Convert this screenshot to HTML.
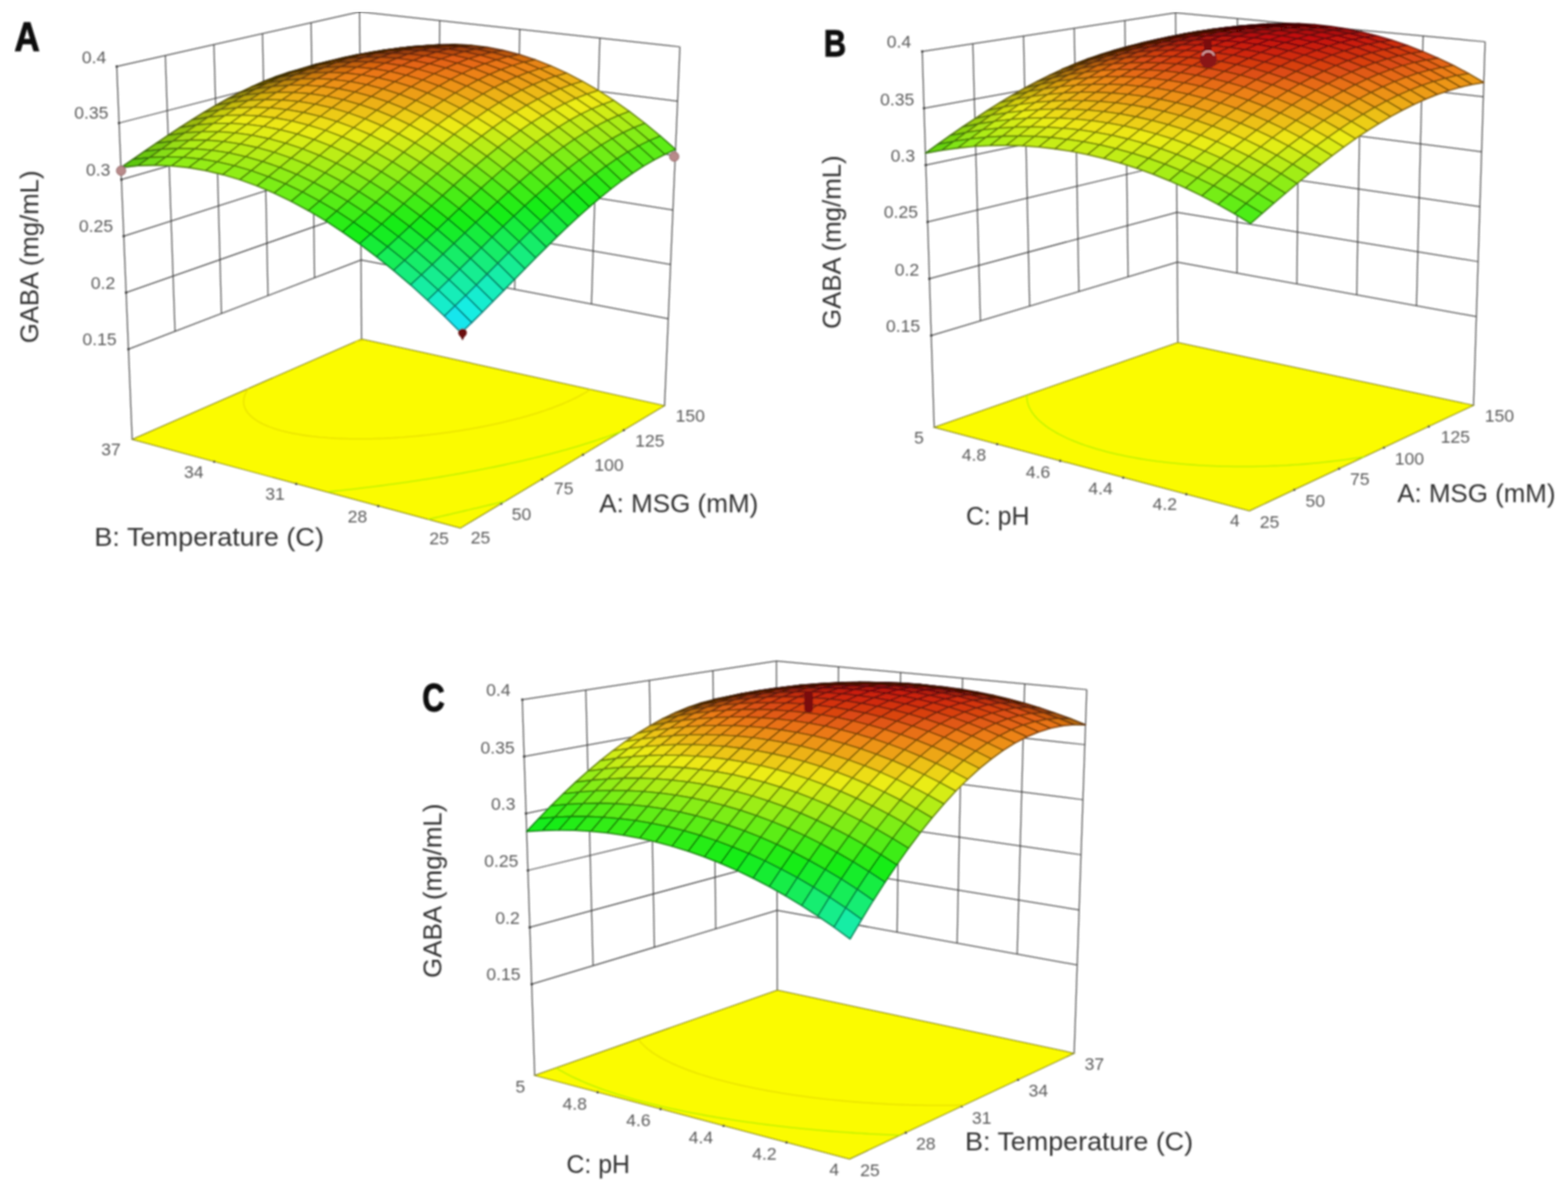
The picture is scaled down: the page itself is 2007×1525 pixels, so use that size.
<!DOCTYPE html><html><head><meta charset="utf-8"><style>html,body{margin:0;padding:0;background:#fff}svg{display:block}</style></head><body><svg xmlns="http://www.w3.org/2000/svg" width="2007" height="1525" viewBox="0 0 2007 1525" font-family="Liberation Sans, Arial, sans-serif"><defs><filter id="bl" x="0" y="0" width="100%" height="100%"><feGaussianBlur stdDeviation="0.9"/></filter></defs><rect width="100%" height="100%" fill="#fff"/><g filter="url(#bl)"><g><line x1="164.4" y1="447.1" x2="462.1" y2="332.8" stroke="#3a3a3a" stroke-width="1.25"/><line x1="462.1" y1="332.8" x2="855.4" y2="408.2" stroke="#3a3a3a" stroke-width="1.25"/><line x1="161.4" y1="374.7" x2="461.8" y2="269.3" stroke="#3a3a3a" stroke-width="1.25"/><line x1="461.8" y1="269.3" x2="858.4" y2="338.6" stroke="#3a3a3a" stroke-width="1.25"/><line x1="158.4" y1="302.3" x2="461.4" y2="205.7" stroke="#3a3a3a" stroke-width="1.25"/><line x1="461.4" y1="205.7" x2="861.3" y2="268.9" stroke="#3a3a3a" stroke-width="1.25"/><line x1="155.4" y1="229.9" x2="461.1" y2="142.2" stroke="#3a3a3a" stroke-width="1.25"/><line x1="461.1" y1="142.2" x2="864.3" y2="199.3" stroke="#3a3a3a" stroke-width="1.25"/><line x1="152.4" y1="157.5" x2="460.7" y2="78.6" stroke="#3a3a3a" stroke-width="1.25"/><line x1="460.7" y1="78.6" x2="867.3" y2="129.6" stroke="#3a3a3a" stroke-width="1.25"/><line x1="149.4" y1="85.1" x2="460.3" y2="15.1" stroke="#3a3a3a" stroke-width="1.25"/><line x1="460.3" y1="15.1" x2="870.3" y2="60.0" stroke="#3a3a3a" stroke-width="1.25"/><line x1="224.0" y1="424.3" x2="211.6" y2="71.1" stroke="#3a3a3a" stroke-width="1.25"/><line x1="283.5" y1="401.4" x2="273.8" y2="57.1" stroke="#3a3a3a" stroke-width="1.25"/><line x1="343.0" y1="378.5" x2="336.0" y2="43.1" stroke="#3a3a3a" stroke-width="1.25"/><line x1="402.6" y1="355.7" x2="398.2" y2="29.1" stroke="#3a3a3a" stroke-width="1.25"/><line x1="757.1" y1="389.4" x2="767.8" y2="48.7" stroke="#3a3a3a" stroke-width="1.25"/><line x1="658.8" y1="370.5" x2="665.3" y2="37.5" stroke="#3a3a3a" stroke-width="1.25"/><line x1="560.4" y1="351.7" x2="562.8" y2="26.3" stroke="#3a3a3a" stroke-width="1.25"/><line x1="169.2" y1="562.6" x2="149.4" y2="85.1" stroke="#3a3a3a" stroke-width="1.25"/><line x1="462.7" y1="434.2" x2="460.3" y2="15.1" stroke="#3a3a3a" stroke-width="1.25"/><line x1="850.6" y1="519.4" x2="870.3" y2="60.0" stroke="#3a3a3a" stroke-width="1.25"/></g>
<polygon points="589.2,676.2 850.6,519.4 462.7,434.2 169.2,562.6" fill="#fbfb00" stroke="#7a7a10" stroke-width="1.2"/>
<circle cx="641.5" cy="644.8" r="1.6" fill="#333"/><circle cx="693.8" cy="613.5" r="1.6" fill="#333"/><circle cx="746.1" cy="582.1" r="1.6" fill="#333"/><circle cx="798.3" cy="550.7" r="1.6" fill="#333"/><circle cx="484.2" cy="647.8" r="1.6" fill="#333"/><circle cx="379.2" cy="619.4" r="1.6" fill="#333"/><circle cx="274.2" cy="591.0" r="1.6" fill="#333"/><circle cx="164.4" cy="447.1" r="1.6" fill="#333"/><circle cx="161.4" cy="374.7" r="1.6" fill="#333"/><circle cx="158.4" cy="302.3" r="1.6" fill="#333"/><circle cx="155.4" cy="229.9" r="1.6" fill="#333"/><circle cx="152.4" cy="157.5" r="1.6" fill="#333"/><circle cx="149.4" cy="85.1" r="1.6" fill="#333"/>
<path d="M646.7,641.7 L641.7,642.9 L636.8,644.1 L631.8,645.3 L626.8,646.5 L622.1,647.6 L617.6,648.7 L613.1,649.8 L608.6,650.8 L604.0,651.9 L599.5,653.0 L595.0,654.0 L590.5,655.1 L586.0,656.1 L581.5,657.2 L576.8,658.3 L571.7,659.5 L566.7,660.7 L561.6,661.9 L556.9,663.0 L552.4,664.0 L548.0,665.1" fill="none" stroke="#b8f000" stroke-width="1.8" opacity="0.9"/>
<path d="M795.3,552.6 L790.5,554.4 L786.9,555.7 L781.5,557.7 L777.8,559.0 L774.0,560.3 L768.3,562.2 L764.5,563.5 L760.6,564.8 L755.5,566.4 L750.8,567.9 L746.8,569.1 L742.8,570.4 L738.1,571.8 L732.6,573.4 L728.5,574.6 L724.3,575.8 L720.1,576.9 L715.9,578.1 L711.1,579.4 L705.9,580.8 L700.8,582.1 L696.4,583.2 L692.0,584.3 L687.6,585.4 L683.1,586.5 L678.6,587.6 L674.1,588.7 L669.5,589.8 L664.9,590.8 L660.3,591.9 L655.7,592.9 L651.0,593.9 L646.3,595.0 L641.6,596.0 L636.8,597.0 L632.0,598.0 L627.2,598.9 L622.3,599.9 L617.5,600.9 L612.6,601.8 L607.6,602.8 L602.7,603.7 L597.7,604.7 L593.3,605.5 L588.9,606.3 L584.5,607.0 L580.0,607.8 L574.9,608.7 L569.8,609.6 L564.6,610.5 L559.5,611.3 L554.4,612.1 L550.2,612.8 L546.0,613.5 L541.1,614.2 L535.8,615.1 L530.4,615.9 L525.1,616.7 L520.9,617.3 L516.7,617.9 L511.6,618.6 L506.1,619.4 L500.6,620.1 L496.1,620.7 L492.0,621.3 L486.8,622.0 L481.3,622.7 L475.8,623.4 L471.7,623.9 L467.2,624.4 L461.5,625.1 L455.8,625.8 L451.7,626.3 L447.2,626.8 L441.5,627.4 L435.8,628.1 L431.8,628.5 L426.9,629.0 L421.0,629.6" fill="none" stroke="#b8f000" stroke-width="1.8" opacity="0.9"/>
<path d="M755.7,498.5 L752.1,500.9 L748.4,503.2 L744.4,505.4 L740.3,507.7 L736.0,509.9 L731.6,512.0 L728.5,513.4 L723.8,515.5 L718.9,517.6 L715.6,518.9 L710.4,520.9 L706.9,522.3 L701.6,524.2 L697.9,525.5 L693.1,527.1 L688.4,528.6 L684.6,529.8 L680.1,531.1 L674.6,532.8 L670.5,533.9 L666.3,535.1 L662.1,536.2 L657.4,537.4 L652.2,538.7 L647.1,539.9 L642.2,541.1 L637.7,542.1 L633.0,543.1 L628.3,544.1 L623.5,545.1 L618.7,546.1 L614.0,547.0 L609.6,547.8 L605.2,548.6 L600.9,549.4 L596.0,550.2 L590.8,551.1 L585.5,551.9 L580.1,552.7 L576.1,553.3 L571.8,553.9 L566.2,554.6 L560.5,555.4 L556.5,555.9 L551.8,556.4 L545.8,557.1 L541.5,557.5 L536.7,558.0 L530.5,558.6 L526.9,558.9 L520.9,559.4 L516.3,559.8 L511.1,560.1 L505.9,560.5 L500.8,560.8 L495.8,561.0 L490.2,561.3 L485.9,561.5 L479.4,561.7 L475.2,561.8 L469.9,561.9 L463.6,561.9 L459.1,561.9 L454.5,561.9 L448.5,561.8 L442.6,561.7 L436.8,561.5 L431.5,561.3 L426.3,561.0 L420.8,560.7 L415.0,560.2 L409.3,559.8 L404.2,559.2 L399.1,558.7 L393.9,558.0 L386.9,557.0 L382.2,556.2 L375.4,555.0 L368.8,553.6 L364.6,552.6 L360.3,551.5 L354.6,549.9 L348.9,548.0 L344.7,546.5 L340.3,544.6 L337.1,543.2 L334.0,541.6 L330.5,539.7 L327.7,538.0 L325.4,536.3 L323.4,534.8 L321.2,532.9 L319.2,530.9 L317.7,529.3 L316.5,527.8 L315.1,525.6 L314.4,524.3 L313.3,522.0 L312.9,520.8 L312.3,518.7 L312.0,516.9 L311.8,515.5 L311.8,513.5 L312.0,511.5 L312.3,509.8 L312.6,508.2 L313.1,506.6 L313.8,504.9 L314.6,503.1 L315.5,501.3 L316.6,499.5 L318.0,497.5" fill="none" stroke="#e8e000" stroke-width="1.8" opacity="0.9"/>
<path d="M454.9,437.6 L460.2,436.5 L464.8,435.6" fill="none" stroke="#e8e000" stroke-width="1.8" opacity="0.9"/>
<g><polygon points="465.6,73.1 481.0,73.3 460.7,81.2 445.3,80.6" fill="#b29b0e" stroke="#5f5308" stroke-width="1.8" stroke-linejoin="round"/><polygon points="486.1,67.2 501.4,67.0 481.0,73.3 465.6,73.1" fill="#9a730c" stroke="#533e07" stroke-width="1.8" stroke-linejoin="round"/><polygon points="450.3,74.0 465.6,73.1 445.3,80.6 429.8,81.1" fill="#9c800c" stroke="#534407" stroke-width="1.8" stroke-linejoin="round"/><polygon points="506.5,62.7 521.7,62.3 501.4,67.0 486.1,67.2" fill="#81530a" stroke="#452c06" stroke-width="1.8" stroke-linejoin="round"/><polygon points="470.8,68.4 486.1,67.2 465.6,73.1 450.3,74.0" fill="#835c0a" stroke="#463106" stroke-width="1.8" stroke-linejoin="round"/><polygon points="527.0,59.8 542.2,59.0 521.7,62.3 506.5,62.7" fill="#673908" stroke="#371f04" stroke-width="1.8" stroke-linejoin="round"/><polygon points="434.9,75.9 450.3,74.0 429.8,81.1 414.4,82.7" fill="#85690b" stroke="#473806" stroke-width="1.8" stroke-linejoin="round"/><polygon points="491.3,64.3 506.5,62.7 486.1,67.2 470.8,68.4" fill="#693f08" stroke="#382204" stroke-width="1.8" stroke-linejoin="round"/><polygon points="547.5,58.4 562.6,57.3 542.2,59.0 527.0,59.8" fill="#4a2506" stroke="#281403" stroke-width="1.8" stroke-linejoin="round"/><polygon points="455.4,70.6 470.8,68.4 450.3,74.0 434.9,75.9" fill="#6c4809" stroke="#3a2705" stroke-width="1.8" stroke-linejoin="round"/><polygon points="419.5,78.8 434.9,75.9 414.4,82.7 398.9,85.3" fill="#6f5509" stroke="#3c2e05" stroke-width="1.8" stroke-linejoin="round"/><polygon points="511.9,61.7 527.0,59.8 506.5,62.7 491.3,64.3" fill="#4d2806" stroke="#291503" stroke-width="1.8" stroke-linejoin="round"/><polygon points="568.1,58.5 583.0,57.0 562.6,57.3 547.5,58.4" fill="#5c2907" stroke="#311604" stroke-width="1.8" stroke-linejoin="round"/><polygon points="476.1,66.8 491.3,64.3 470.8,68.4 455.4,70.6" fill="#512e06" stroke="#2b1903" stroke-width="1.8" stroke-linejoin="round"/><polygon points="440.1,73.8 455.4,70.6 434.9,75.9 419.5,78.8" fill="#553707" stroke="#2e1e04" stroke-width="1.8" stroke-linejoin="round"/><polygon points="532.5,60.6 547.5,58.4 527.0,59.8 511.9,61.7" fill="#5a2a07" stroke="#301604" stroke-width="1.8" stroke-linejoin="round"/><polygon points="588.6,59.9 603.5,58.1 583.0,57.0 568.1,58.5" fill="#753209" stroke="#3e1b05" stroke-width="1.8" stroke-linejoin="round"/><polygon points="404.1,82.6 419.5,78.8 398.9,85.3 383.5,88.8" fill="#5a4407" stroke="#302404" stroke-width="1.8" stroke-linejoin="round"/><polygon points="496.7,64.6 511.9,61.7 491.3,64.3 476.1,66.8" fill="#582c07" stroke="#2f1704" stroke-width="1.8" stroke-linejoin="round"/><polygon points="553.1,61.0 568.1,58.5 547.5,58.4 532.5,60.6" fill="#733109" stroke="#3e1a05" stroke-width="1.8" stroke-linejoin="round"/><polygon points="460.8,70.4 476.1,66.8 455.4,70.6 440.1,73.8" fill="#552f07" stroke="#2e1904" stroke-width="1.8" stroke-linejoin="round"/><polygon points="609.1,62.8 623.9,60.7 603.5,58.1 588.6,59.9" fill="#8d3c0b" stroke="#4c2006" stroke-width="1.8" stroke-linejoin="round"/><polygon points="424.8,78.0 440.1,73.8 419.5,78.8 404.1,82.6" fill="#4f3306" stroke="#2a1b03" stroke-width="1.8" stroke-linejoin="round"/><polygon points="517.4,63.9 532.5,60.6 511.9,61.7 496.7,64.6" fill="#713209" stroke="#3d1b05" stroke-width="1.8" stroke-linejoin="round"/><polygon points="388.8,87.3 404.1,82.6 383.5,88.8 368.1,93.2" fill="#483706" stroke="#271d03" stroke-width="1.8" stroke-linejoin="round"/><polygon points="573.7,62.8 588.6,59.9 568.1,58.5 553.1,61.0" fill="#8c380b" stroke="#4b1e06" stroke-width="1.8" stroke-linejoin="round"/><polygon points="481.5,68.5 496.7,64.6 476.1,66.8 460.8,70.4" fill="#6f3609" stroke="#3b1d05" stroke-width="1.8" stroke-linejoin="round"/><polygon points="629.6,67.1 644.3,64.6 623.9,60.7 609.1,62.8" fill="#a5480d" stroke="#582707" stroke-width="1.8" stroke-linejoin="round"/><polygon points="445.6,74.9 460.8,70.4 440.1,73.8 424.8,78.0" fill="#6b3c09" stroke="#392005" stroke-width="1.8" stroke-linejoin="round"/><polygon points="538.0,64.6 553.1,61.0 532.5,60.6 517.4,63.9" fill="#8a380b" stroke="#4a1e06" stroke-width="1.8" stroke-linejoin="round"/><polygon points="409.5,83.0 424.8,78.0 404.1,82.6 388.8,87.3" fill="#644108" stroke="#352304" stroke-width="1.8" stroke-linejoin="round"/><polygon points="594.2,66.1 609.1,62.8 588.6,59.9 573.7,62.8" fill="#a3420d" stroke="#582307" stroke-width="1.8" stroke-linejoin="round"/><polygon points="502.3,68.1 517.4,63.9 496.7,64.6 481.5,68.5" fill="#873b0b" stroke="#492006" stroke-width="1.8" stroke-linejoin="round"/><polygon points="650.0,72.7 664.7,69.9 644.3,64.6 629.6,67.1" fill="#bc580f" stroke="#652f08" stroke-width="1.8" stroke-linejoin="round"/><polygon points="373.4,92.9 388.8,87.3 368.1,93.2 352.7,98.4" fill="#5b4607" stroke="#312604" stroke-width="1.8" stroke-linejoin="round"/><polygon points="558.7,66.7 573.7,62.8 553.1,61.0 538.0,64.6" fill="#a23f0d" stroke="#572207" stroke-width="1.8" stroke-linejoin="round"/><polygon points="466.4,73.3 481.5,68.5 460.8,70.4 445.6,74.9" fill="#84410b" stroke="#472306" stroke-width="1.8" stroke-linejoin="round"/><polygon points="614.8,70.7 629.6,67.1 609.1,62.8 594.2,66.1" fill="#bb4e0f" stroke="#642a08" stroke-width="1.8" stroke-linejoin="round"/><polygon points="430.4,80.2 445.6,74.9 424.8,78.0 409.5,83.0" fill="#7f480a" stroke="#442705" stroke-width="1.8" stroke-linejoin="round"/><polygon points="523.0,69.1 538.0,64.6 517.4,63.9 502.3,68.1" fill="#9f400d" stroke="#552307" stroke-width="1.8" stroke-linejoin="round"/><polygon points="670.4,79.7 685.0,76.5 664.7,69.9 650.0,72.7" fill="#d36d11" stroke="#713a09" stroke-width="1.8" stroke-linejoin="round"/><polygon points="394.3,88.9 409.5,83.0 388.8,87.3 373.4,92.9" fill="#774f09" stroke="#402b05" stroke-width="1.8" stroke-linejoin="round"/><polygon points="579.4,70.3 594.2,66.1 573.7,62.8 558.7,66.7" fill="#b9490f" stroke="#632708" stroke-width="1.8" stroke-linejoin="round"/><polygon points="487.2,73.2 502.3,68.1 481.5,68.5 466.4,73.3" fill="#9c450d" stroke="#542507" stroke-width="1.8" stroke-linejoin="round"/><polygon points="358.1,99.2 373.4,92.9 352.7,98.4 337.3,104.4" fill="#6d5609" stroke="#3a2e05" stroke-width="1.8" stroke-linejoin="round"/><polygon points="635.3,76.7 650.0,72.7 629.6,67.1 614.8,70.7" fill="#d25f11" stroke="#703309" stroke-width="1.8" stroke-linejoin="round"/><polygon points="451.2,79.0 466.4,73.3 445.6,74.9 430.4,80.2" fill="#994d0c" stroke="#522907" stroke-width="1.8" stroke-linejoin="round"/><polygon points="543.8,71.6 558.7,66.7 538.0,64.6 523.0,69.1" fill="#b7480f" stroke="#622608" stroke-width="1.8" stroke-linejoin="round"/><polygon points="690.8,88.0 705.3,84.5 685.0,76.5 670.4,79.7" fill="#e78512" stroke="#7c480a" stroke-width="1.8" stroke-linejoin="round"/><polygon points="415.1,86.4 430.4,80.2 409.5,83.0 394.3,88.9" fill="#92560c" stroke="#4e2e06" stroke-width="1.8" stroke-linejoin="round"/><polygon points="600.0,75.2 614.8,70.7 594.2,66.1 579.4,70.3" fill="#d05611" stroke="#6f2e09" stroke-width="1.8" stroke-linejoin="round"/><polygon points="508.0,74.6 523.0,69.1 502.3,68.1 487.2,73.2" fill="#b44b0e" stroke="#602808" stroke-width="1.8" stroke-linejoin="round"/><polygon points="379.0,95.5 394.3,88.9 373.4,92.9 358.1,99.2" fill="#885f0b" stroke="#493306" stroke-width="1.8" stroke-linejoin="round"/><polygon points="655.8,84.0 670.4,79.7 650.0,72.7 635.3,76.7" fill="#e87513" stroke="#7d3f0a" stroke-width="1.8" stroke-linejoin="round"/><polygon points="472.1,79.2 487.2,73.2 466.4,73.3 451.2,79.0" fill="#b1510e" stroke="#5f2c08" stroke-width="1.8" stroke-linejoin="round"/><polygon points="564.5,75.5 579.4,70.3 558.7,66.7 543.8,71.6" fill="#cd5210" stroke="#6e2c09" stroke-width="1.8" stroke-linejoin="round"/><polygon points="711.1,97.6 725.5,93.7 705.3,84.5 690.8,88.0" fill="#ed9c13" stroke="#7f540a" stroke-width="1.8" stroke-linejoin="round"/><polygon points="342.8,106.2 358.1,99.2 337.3,104.4 321.9,111.2" fill="#7d670a" stroke="#433705" stroke-width="1.8" stroke-linejoin="round"/><polygon points="620.7,81.6 635.3,76.7 614.8,70.7 600.0,75.2" fill="#e66712" stroke="#7b370a" stroke-width="1.8" stroke-linejoin="round"/><polygon points="436.1,85.4 451.2,79.0 430.4,80.2 415.1,86.4" fill="#ad5b0e" stroke="#5d3107" stroke-width="1.8" stroke-linejoin="round"/><polygon points="528.8,77.4 543.8,71.6 523.0,69.1 508.0,74.6" fill="#cb5210" stroke="#6d2c09" stroke-width="1.8" stroke-linejoin="round"/><polygon points="676.3,92.6 690.8,88.0 670.4,79.7 655.8,84.0" fill="#ed8713" stroke="#7f480a" stroke-width="1.8" stroke-linejoin="round"/><polygon points="400.0,93.3 415.1,86.4 394.3,88.9 379.0,95.5" fill="#a3650d" stroke="#583607" stroke-width="1.8" stroke-linejoin="round"/><polygon points="585.3,80.8 600.0,75.2 579.4,70.3 564.5,75.5" fill="#e35f12" stroke="#7a330a" stroke-width="1.8" stroke-linejoin="round"/><polygon points="493.0,80.9 508.0,74.6 487.2,73.2 472.1,79.2" fill="#c85710" stroke="#6b2f09" stroke-width="1.8" stroke-linejoin="round"/><polygon points="731.3,108.4 745.6,104.2 725.5,93.7 711.1,97.6" fill="#edb313" stroke="#7f600a" stroke-width="1.8" stroke-linejoin="round"/><polygon points="363.8,102.8 379.0,95.5 358.1,99.2 342.8,106.2" fill="#986f0c" stroke="#513c07" stroke-width="1.8" stroke-linejoin="round"/><polygon points="641.2,89.2 655.8,84.0 635.3,76.7 620.7,81.6" fill="#ea7613" stroke="#7e3f0a" stroke-width="1.8" stroke-linejoin="round"/><polygon points="457.0,86.0 472.1,79.2 451.2,79.0 436.1,85.4" fill="#c46010" stroke="#693308" stroke-width="1.8" stroke-linejoin="round"/><polygon points="549.7,81.6 564.5,75.5 543.8,71.6 528.8,77.4" fill="#e15d12" stroke="#79320a" stroke-width="1.8" stroke-linejoin="round"/><polygon points="327.5,113.9 342.8,106.2 321.9,111.2 306.6,118.6" fill="#8b790b" stroke="#4b4106" stroke-width="1.8" stroke-linejoin="round"/><polygon points="696.7,102.5 711.1,97.6 690.8,88.0 676.3,92.6" fill="#ed9b13" stroke="#7f530a" stroke-width="1.8" stroke-linejoin="round"/><polygon points="420.9,92.7 436.1,85.4 415.1,86.4 400.0,93.3" fill="#be6b0f" stroke="#663908" stroke-width="1.8" stroke-linejoin="round"/><polygon points="606.0,87.4 620.7,81.6 600.0,75.2 585.3,80.8" fill="#e76a12" stroke="#7c390a" stroke-width="1.8" stroke-linejoin="round"/><polygon points="751.5,120.4 765.7,115.8 745.6,104.2 731.3,108.4" fill="#edcd13" stroke="#7f6e0a" stroke-width="1.8" stroke-linejoin="round"/><polygon points="513.9,84.0 528.8,77.4 508.0,74.6 493.0,80.9" fill="#de5f12" stroke="#77330a" stroke-width="1.8" stroke-linejoin="round"/><polygon points="384.8,101.0 400.0,93.3 379.0,95.5 363.8,102.8" fill="#b3760e" stroke="#603f08" stroke-width="1.8" stroke-linejoin="round"/><polygon points="661.8,98.1 676.3,92.6 655.8,84.0 641.2,89.2" fill="#ed8813" stroke="#7f490a" stroke-width="1.8" stroke-linejoin="round"/><polygon points="478.0,88.0 493.0,80.9 472.1,79.2 457.0,86.0" fill="#db6611" stroke="#753709" stroke-width="1.8" stroke-linejoin="round"/><polygon points="570.5,87.2 585.3,80.8 564.5,75.5 549.7,81.6" fill="#e56512" stroke="#7b360a" stroke-width="1.8" stroke-linejoin="round"/><polygon points="348.6,110.8 363.8,102.8 342.8,106.2 327.5,113.9" fill="#a6810d" stroke="#594507" stroke-width="1.8" stroke-linejoin="round"/><polygon points="717.0,113.6 731.3,108.4 711.1,97.6 696.7,102.5" fill="#edb213" stroke="#7f5f0a" stroke-width="1.8" stroke-linejoin="round"/><polygon points="442.0,93.5 457.0,86.0 436.1,85.4 420.9,92.7" fill="#d77111" stroke="#733c09" stroke-width="1.8" stroke-linejoin="round"/><polygon points="771.6,133.6 785.7,128.7 765.7,115.8 751.5,120.4" fill="#edea13" stroke="#7f7d0a" stroke-width="1.8" stroke-linejoin="round"/><polygon points="626.6,95.4 641.2,89.2 620.7,81.6 606.0,87.4" fill="#eb7a13" stroke="#7e410a" stroke-width="1.8" stroke-linejoin="round"/><polygon points="312.3,122.2 327.5,113.9 306.6,118.6 291.3,126.6" fill="#988c0c" stroke="#514b07" stroke-width="1.8" stroke-linejoin="round"/><polygon points="534.8,88.5 549.7,81.6 528.8,77.4 513.9,84.0" fill="#e56512" stroke="#7b360a" stroke-width="1.8" stroke-linejoin="round"/><polygon points="682.2,108.4 696.7,102.5 676.3,92.6 661.8,98.1" fill="#ed9c13" stroke="#7f540a" stroke-width="1.8" stroke-linejoin="round"/><polygon points="405.8,100.6 420.9,92.7 400.0,93.3 384.8,101.0" fill="#cd7c10" stroke="#6e4309" stroke-width="1.8" stroke-linejoin="round"/><polygon points="591.3,94.2 606.0,87.4 585.3,80.8 570.5,87.2" fill="#e87013" stroke="#7d3c0a" stroke-width="1.8" stroke-linejoin="round"/><polygon points="499.0,91.4 513.9,84.0 493.0,80.9 478.0,88.0" fill="#e76b12" stroke="#7c390a" stroke-width="1.8" stroke-linejoin="round"/><polygon points="737.3,125.9 751.5,120.4 731.3,108.4 717.0,113.6" fill="#edcc13" stroke="#7f6e0a" stroke-width="1.8" stroke-linejoin="round"/><polygon points="369.6,109.2 384.8,101.0 363.8,102.8 348.6,110.8" fill="#c0880f" stroke="#674908" stroke-width="1.8" stroke-linejoin="round"/><polygon points="791.6,147.9 805.6,142.7 785.7,128.7 771.6,133.6" fill="#d0ed13" stroke="#707f0a" stroke-width="1.8" stroke-linejoin="round"/><polygon points="647.2,104.6 661.8,98.1 641.2,89.2 626.6,95.4" fill="#ed8c13" stroke="#7f4b0a" stroke-width="1.8" stroke-linejoin="round"/><polygon points="463.0,95.8 478.0,88.0 457.0,86.0 442.0,93.5" fill="#eb7713" stroke="#7e400a" stroke-width="1.8" stroke-linejoin="round"/><polygon points="555.7,94.5 570.5,87.2 549.7,81.6 534.8,88.5" fill="#e76d13" stroke="#7c3a0a" stroke-width="1.8" stroke-linejoin="round"/><polygon points="333.4,119.4 348.6,110.8 327.5,113.9 312.3,122.2" fill="#b2940e" stroke="#5f4f08" stroke-width="1.8" stroke-linejoin="round"/><polygon points="702.7,119.8 717.0,113.6 696.7,102.5 682.2,108.4" fill="#edb413" stroke="#7f610a" stroke-width="1.8" stroke-linejoin="round"/><polygon points="297.1,131.0 312.3,122.2 291.3,126.6 276.0,135.1" fill="#a39f0d" stroke="#575507" stroke-width="1.8" stroke-linejoin="round"/><polygon points="426.9,101.8 442.0,93.5 420.9,92.7 405.8,100.6" fill="#e68312" stroke="#7b460a" stroke-width="1.8" stroke-linejoin="round"/><polygon points="612.0,102.4 626.6,95.4 606.0,87.4 591.3,94.2" fill="#ed8113" stroke="#7f450a" stroke-width="1.8" stroke-linejoin="round"/><polygon points="520.0,96.3 534.8,88.5 513.9,84.0 499.0,91.4" fill="#e86f13" stroke="#7c3b0a" stroke-width="1.8" stroke-linejoin="round"/><polygon points="757.4,139.5 771.6,133.6 751.5,120.4 737.3,125.9" fill="#edea13" stroke="#7f7e0a" stroke-width="1.8" stroke-linejoin="round"/><polygon points="390.8,109.2 405.8,100.6 384.8,101.0 369.6,109.2" fill="#da8f11" stroke="#754d09" stroke-width="1.8" stroke-linejoin="round"/><polygon points="811.4,163.4 825.4,157.9 805.6,142.7 791.6,147.9" fill="#aded13" stroke="#5d7f0a" stroke-width="1.8" stroke-linejoin="round"/><polygon points="667.8,115.2 682.2,108.4 661.8,98.1 647.2,104.6" fill="#eda113" stroke="#7f560a" stroke-width="1.8" stroke-linejoin="round"/><polygon points="484.1,99.6 499.0,91.4 478.0,88.0 463.0,95.8" fill="#eb7713" stroke="#7e400a" stroke-width="1.8" stroke-linejoin="round"/><polygon points="576.6,101.7 591.3,94.2 570.5,87.2 555.7,94.5" fill="#eb7913" stroke="#7e410a" stroke-width="1.8" stroke-linejoin="round"/><polygon points="354.5,118.1 369.6,109.2 348.6,110.8 333.4,119.4" fill="#cc9c10" stroke="#6d5309" stroke-width="1.8" stroke-linejoin="round"/><polygon points="723.0,132.5 737.3,125.9 717.0,113.6 702.7,119.8" fill="#edcf13" stroke="#7f6f0a" stroke-width="1.8" stroke-linejoin="round"/><polygon points="448.1,104.4 463.0,95.8 442.0,93.5 426.9,101.8" fill="#ed8413" stroke="#7f470a" stroke-width="1.8" stroke-linejoin="round"/><polygon points="318.2,128.5 333.4,119.4 312.3,122.2 297.1,131.0" fill="#bda80f" stroke="#655a08" stroke-width="1.8" stroke-linejoin="round"/><polygon points="632.7,112.0 647.2,104.6 626.6,95.4 612.0,102.4" fill="#ed9213" stroke="#7f4e0a" stroke-width="1.8" stroke-linejoin="round"/><polygon points="777.5,154.1 791.6,147.9 771.6,133.6 757.4,139.5" fill="#d0ed13" stroke="#6f7f0a" stroke-width="1.8" stroke-linejoin="round"/><polygon points="540.9,102.5 555.7,94.5 534.8,88.5 520.0,96.3" fill="#eb7713" stroke="#7e400a" stroke-width="1.8" stroke-linejoin="round"/><polygon points="831.2,180.0 845.1,174.1 825.4,157.9 811.4,163.4" fill="#86ed13" stroke="#487f0a" stroke-width="1.8" stroke-linejoin="round"/><polygon points="281.9,140.3 297.1,131.0 276.0,135.1 260.7,144.1" fill="#a7ad0e" stroke="#595d07" stroke-width="1.8" stroke-linejoin="round"/><polygon points="411.9,110.6 426.9,101.8 405.8,100.6 390.8,109.2" fill="#ed9413" stroke="#7f500a" stroke-width="1.8" stroke-linejoin="round"/><polygon points="688.3,127.0 702.7,119.8 682.2,108.4 667.8,115.2" fill="#edb913" stroke="#7f630a" stroke-width="1.8" stroke-linejoin="round"/><polygon points="505.1,104.7 520.0,96.3 499.0,91.4 484.1,99.6" fill="#ec7b13" stroke="#7f420a" stroke-width="1.8" stroke-linejoin="round"/><polygon points="597.4,110.3 612.0,102.4 591.3,94.2 576.6,101.7" fill="#ed8913" stroke="#7f490a" stroke-width="1.8" stroke-linejoin="round"/><polygon points="743.3,146.3 757.4,139.5 737.3,125.9 723.0,132.5" fill="#eded13" stroke="#7f7f0a" stroke-width="1.8" stroke-linejoin="round"/><polygon points="375.7,118.3 390.8,109.2 369.6,109.2 354.5,118.1" fill="#e5a312" stroke="#7b580a" stroke-width="1.8" stroke-linejoin="round"/><polygon points="797.5,169.9 811.4,163.4 791.6,147.9 777.5,154.1" fill="#abed13" stroke="#5c7f0a" stroke-width="1.8" stroke-linejoin="round"/><polygon points="653.3,122.9 667.8,115.2 647.2,104.6 632.7,112.0" fill="#eda813" stroke="#7f5a0a" stroke-width="1.8" stroke-linejoin="round"/><polygon points="469.2,108.4 484.1,99.6 463.0,95.8 448.1,104.4" fill="#ed8413" stroke="#7f470a" stroke-width="1.8" stroke-linejoin="round"/><polygon points="339.4,127.5 354.5,118.1 333.4,119.4 318.2,128.5" fill="#d6b011" stroke="#735f09" stroke-width="1.8" stroke-linejoin="round"/><polygon points="561.9,110.1 576.6,101.7 555.7,94.5 540.9,102.5" fill="#ed8413" stroke="#7f470a" stroke-width="1.8" stroke-linejoin="round"/><polygon points="850.9,197.6 864.7,191.4 845.1,174.1 831.2,180.0" fill="#5ded13" stroke="#327f0a" stroke-width="1.8" stroke-linejoin="round"/><polygon points="708.7,139.9 723.0,132.5 702.7,119.8 688.3,127.0" fill="#edd513" stroke="#7f720a" stroke-width="1.8" stroke-linejoin="round"/><polygon points="303.1,138.0 318.2,128.5 297.1,131.0 281.9,140.3" fill="#c6bc10" stroke="#6a6508" stroke-width="1.8" stroke-linejoin="round"/><polygon points="433.1,113.5 448.1,104.4 426.9,101.8 411.9,110.6" fill="#ed9113" stroke="#7f4e0a" stroke-width="1.8" stroke-linejoin="round"/><polygon points="618.2,120.2 632.7,112.0 612.0,102.4 597.4,110.3" fill="#ed9b13" stroke="#7f530a" stroke-width="1.8" stroke-linejoin="round"/><polygon points="526.2,111.2 540.9,102.5 520.0,96.3 505.1,104.7" fill="#ed8413" stroke="#7f470a" stroke-width="1.8" stroke-linejoin="round"/><polygon points="763.4,161.3 777.5,154.1 757.4,139.5 743.3,146.3" fill="#cced13" stroke="#6d7f0a" stroke-width="1.8" stroke-linejoin="round"/><polygon points="266.7,150.0 281.9,140.3 260.7,144.1 245.5,153.6" fill="#a3b50e" stroke="#576108" stroke-width="1.8" stroke-linejoin="round"/><polygon points="396.9,120.0 411.9,110.6 390.8,109.2 375.7,118.3" fill="#eda313" stroke="#7f570a" stroke-width="1.8" stroke-linejoin="round"/><polygon points="817.4,186.8 831.2,180.0 811.4,163.4 797.5,169.9" fill="#85ed13" stroke="#477f0a" stroke-width="1.8" stroke-linejoin="round"/><polygon points="673.9,134.9 688.3,127.0 667.8,115.2 653.3,122.9" fill="#edc113" stroke="#7f670a" stroke-width="1.8" stroke-linejoin="round"/><polygon points="490.3,113.8 505.1,104.7 484.1,99.6 469.2,108.4" fill="#ed8913" stroke="#7f490a" stroke-width="1.8" stroke-linejoin="round"/><polygon points="582.8,119.0 597.4,110.3 576.6,101.7 561.9,110.1" fill="#ed9313" stroke="#7f4f0a" stroke-width="1.8" stroke-linejoin="round"/><polygon points="360.7,128.0 375.7,118.3 354.5,118.1 339.4,127.5" fill="#edb913" stroke="#7f630a" stroke-width="1.8" stroke-linejoin="round"/><polygon points="729.1,154.1 743.3,146.3 723.0,132.5 708.7,139.9" fill="#e7ed13" stroke="#7c7f0a" stroke-width="1.8" stroke-linejoin="round"/><polygon points="454.3,117.8 469.2,108.4 448.1,104.4 433.1,113.5" fill="#ed9213" stroke="#7f4e0a" stroke-width="1.8" stroke-linejoin="round"/><polygon points="324.4,137.3 339.4,127.5 318.2,128.5 303.1,138.0" fill="#dec612" stroke="#776a0a" stroke-width="1.8" stroke-linejoin="round"/><polygon points="638.9,131.4 653.3,122.9 632.7,112.0 618.2,120.2" fill="#edb113" stroke="#7f5f0a" stroke-width="1.8" stroke-linejoin="round"/><polygon points="547.2,119.1 561.9,110.1 540.9,102.5 526.2,111.2" fill="#ed9013" stroke="#7f4d0a" stroke-width="1.8" stroke-linejoin="round"/><polygon points="783.5,177.4 797.5,169.9 777.5,154.1 763.4,161.3" fill="#a7ed13" stroke="#5a7f0a" stroke-width="1.8" stroke-linejoin="round"/><polygon points="288.0,147.9 303.1,138.0 281.9,140.3 266.7,150.0" fill="#c9cd10" stroke="#6c6e09" stroke-width="1.8" stroke-linejoin="round"/><polygon points="837.2,204.7 850.9,197.6 831.2,180.0 817.4,186.8" fill="#5bed13" stroke="#317f0a" stroke-width="1.8" stroke-linejoin="round"/><polygon points="418.2,123.2 433.1,113.5 411.9,110.6 396.9,120.0" fill="#eda013" stroke="#7f560a" stroke-width="1.8" stroke-linejoin="round"/><polygon points="694.5,148.2 708.7,139.9 688.3,127.0 673.9,134.9" fill="#eddd13" stroke="#7f760a" stroke-width="1.8" stroke-linejoin="round"/><polygon points="251.6,160.0 266.7,150.0 245.5,153.6 230.3,163.3" fill="#9cbb0f" stroke="#536408" stroke-width="1.8" stroke-linejoin="round"/><polygon points="511.4,120.7 526.2,111.2 505.1,104.7 490.3,113.8" fill="#ed9213" stroke="#7f4e0a" stroke-width="1.8" stroke-linejoin="round"/><polygon points="603.6,129.2 618.2,120.2 597.4,110.3 582.8,119.0" fill="#eda613" stroke="#7f590a" stroke-width="1.8" stroke-linejoin="round"/><polygon points="382.0,129.9 396.9,120.0 375.7,118.3 360.7,128.0" fill="#edb213" stroke="#7f600a" stroke-width="1.8" stroke-linejoin="round"/><polygon points="749.4,169.4 763.4,161.3 743.3,146.3 729.1,154.1" fill="#c5ed13" stroke="#6a7f0a" stroke-width="1.8" stroke-linejoin="round"/><polygon points="475.5,123.6 490.3,113.8 469.2,108.4 454.3,117.8" fill="#ed9713" stroke="#7f510a" stroke-width="1.8" stroke-linejoin="round"/><polygon points="659.6,143.7 673.9,134.9 653.3,122.9 638.9,131.4" fill="#edca13" stroke="#7f6d0a" stroke-width="1.8" stroke-linejoin="round"/><polygon points="803.5,194.5 817.4,186.8 797.5,169.9 783.5,177.4" fill="#80ed13" stroke="#457f0a" stroke-width="1.8" stroke-linejoin="round"/><polygon points="345.7,138.0 360.7,128.0 339.4,127.5 324.4,137.3" fill="#edc913" stroke="#7f6c0a" stroke-width="1.8" stroke-linejoin="round"/><polygon points="568.2,128.3 582.8,119.0 561.9,110.1 547.2,119.1" fill="#eda013" stroke="#7f560a" stroke-width="1.8" stroke-linejoin="round"/><polygon points="309.3,147.4 324.4,137.3 303.1,138.0 288.0,147.9" fill="#e5dc12" stroke="#7b760a" stroke-width="1.8" stroke-linejoin="round"/><polygon points="714.9,162.7 729.1,154.1 708.7,139.9 694.5,148.2" fill="#dfed13" stroke="#777f0a" stroke-width="1.8" stroke-linejoin="round"/><polygon points="439.5,127.8 454.3,117.8 433.1,113.5 418.2,123.2" fill="#eda213" stroke="#7f570a" stroke-width="1.8" stroke-linejoin="round"/><polygon points="624.5,140.6 638.9,131.4 618.2,120.2 603.6,129.2" fill="#edbd13" stroke="#7f650a" stroke-width="1.8" stroke-linejoin="round"/><polygon points="532.5,128.8 547.2,119.1 526.2,111.2 511.4,120.7" fill="#ed9e13" stroke="#7f550a" stroke-width="1.8" stroke-linejoin="round"/><polygon points="272.9,158.2 288.0,147.9 266.7,150.0 251.6,160.0" fill="#c0d311" stroke="#677109" stroke-width="1.8" stroke-linejoin="round"/><polygon points="769.5,185.7 783.5,177.4 763.4,161.3 749.4,169.4" fill="#a0ed13" stroke="#567f0a" stroke-width="1.8" stroke-linejoin="round"/><polygon points="403.3,133.4 418.2,123.2 396.9,120.0 382.0,129.9" fill="#edb013" stroke="#7f5f0a" stroke-width="1.8" stroke-linejoin="round"/><polygon points="236.5,170.2 251.6,160.0 230.3,163.3 215.2,173.3" fill="#92c00f" stroke="#4e6708" stroke-width="1.8" stroke-linejoin="round"/><polygon points="823.4,212.7 837.2,204.7 817.4,186.8 803.5,194.5" fill="#56ed13" stroke="#2e7f0a" stroke-width="1.8" stroke-linejoin="round"/><polygon points="680.2,157.3 694.5,148.2 673.9,134.9 659.6,143.7" fill="#ede713" stroke="#7f7c0a" stroke-width="1.8" stroke-linejoin="round"/><polygon points="496.7,130.7 511.4,120.7 490.3,113.8 475.5,123.6" fill="#eda113" stroke="#7f560a" stroke-width="1.8" stroke-linejoin="round"/><polygon points="589.1,138.8 603.6,129.2 582.8,119.0 568.2,128.3" fill="#edb313" stroke="#7f600a" stroke-width="1.8" stroke-linejoin="round"/><polygon points="367.1,140.3 382.0,129.9 360.7,128.0 345.7,138.0" fill="#edc313" stroke="#7f690a" stroke-width="1.8" stroke-linejoin="round"/><polygon points="735.3,178.2 749.4,169.4 729.1,154.1 714.9,162.7" fill="#bced13" stroke="#657f0a" stroke-width="1.8" stroke-linejoin="round"/><polygon points="330.7,148.5 345.7,138.0 324.4,137.3 309.3,147.4" fill="#edda13" stroke="#7f750a" stroke-width="1.8" stroke-linejoin="round"/><polygon points="460.7,133.8 475.5,123.6 454.3,117.8 439.5,127.8" fill="#eda713" stroke="#7f5a0a" stroke-width="1.8" stroke-linejoin="round"/><polygon points="645.2,153.3 659.6,143.7 638.9,131.4 624.5,140.6" fill="#edd613" stroke="#7f730a" stroke-width="1.8" stroke-linejoin="round"/><polygon points="553.6,138.3 568.2,128.3 547.2,119.1 532.5,128.8" fill="#edae13" stroke="#7f5d0a" stroke-width="1.8" stroke-linejoin="round"/><polygon points="789.6,203.2 803.5,194.5 783.5,177.4 769.5,185.7" fill="#79ed13" stroke="#417f0a" stroke-width="1.8" stroke-linejoin="round"/><polygon points="294.3,157.9 309.3,147.4 288.0,147.9 272.9,158.2" fill="#e3eb13" stroke="#7a7e0a" stroke-width="1.8" stroke-linejoin="round"/><polygon points="424.6,138.2 439.5,127.8 418.2,123.2 403.3,133.4" fill="#edb213" stroke="#7f600a" stroke-width="1.8" stroke-linejoin="round"/><polygon points="700.7,172.0 714.9,162.7 694.5,148.2 680.2,157.3" fill="#d4ed13" stroke="#727f0a" stroke-width="1.8" stroke-linejoin="round"/><polygon points="257.9,168.7 272.9,158.2 251.6,160.0 236.5,170.2" fill="#b4d811" stroke="#617409" stroke-width="1.8" stroke-linejoin="round"/><polygon points="517.9,139.1 532.5,128.8 511.4,120.7 496.7,130.7" fill="#edad13" stroke="#7f5d0a" stroke-width="1.8" stroke-linejoin="round"/><polygon points="610.0,150.5 624.5,140.6 603.6,129.2 589.1,138.8" fill="#edca13" stroke="#7f6c0a" stroke-width="1.8" stroke-linejoin="round"/><polygon points="388.4,144.0 403.3,133.4 382.0,129.9 367.1,140.3" fill="#edc213" stroke="#7f680a" stroke-width="1.8" stroke-linejoin="round"/><polygon points="221.4,180.6 236.5,170.2 215.2,173.3 200.0,183.5" fill="#87c410" stroke="#486908" stroke-width="1.8" stroke-linejoin="round"/><polygon points="755.5,194.9 769.5,185.7 749.4,169.4 735.3,178.2" fill="#97ed13" stroke="#517f0a" stroke-width="1.8" stroke-linejoin="round"/><polygon points="482.0,141.2 496.7,130.7 475.5,123.6 460.7,133.8" fill="#edb113" stroke="#7f5f0a" stroke-width="1.8" stroke-linejoin="round"/><polygon points="352.2,151.0 367.1,140.3 345.7,138.0 330.7,148.5" fill="#edd513" stroke="#7f720a" stroke-width="1.8" stroke-linejoin="round"/><polygon points="665.9,167.1 680.2,157.3 659.6,143.7 645.2,153.3" fill="#e7ed13" stroke="#7c7f0a" stroke-width="1.8" stroke-linejoin="round"/><polygon points="809.6,221.7 823.4,212.7 803.5,194.5 789.6,203.2" fill="#4eed13" stroke="#2a7f0a" stroke-width="1.8" stroke-linejoin="round"/><polygon points="574.6,149.0 589.1,138.8 568.2,128.3 553.6,138.3" fill="#edc213" stroke="#7f680a" stroke-width="1.8" stroke-linejoin="round"/><polygon points="315.8,159.2 330.7,148.5 309.3,147.4 294.3,157.9" fill="#edec13" stroke="#7f7f0a" stroke-width="1.8" stroke-linejoin="round"/><polygon points="446.0,144.5 460.7,133.8 439.5,127.8 424.6,138.2" fill="#edb813" stroke="#7f630a" stroke-width="1.8" stroke-linejoin="round"/><polygon points="721.2,187.9 735.3,178.2 714.9,162.7 700.7,172.0" fill="#b1ed13" stroke="#5f7f0a" stroke-width="1.8" stroke-linejoin="round"/><polygon points="539.0,148.8 553.6,138.3 532.5,128.8 517.9,139.1" fill="#edbe13" stroke="#7f660a" stroke-width="1.8" stroke-linejoin="round"/><polygon points="630.9,163.5 645.2,153.3 624.5,140.6 610.0,150.5" fill="#ede413" stroke="#7f7a0a" stroke-width="1.8" stroke-linejoin="round"/><polygon points="279.3,168.6 294.3,157.9 272.9,158.2 257.9,168.7" fill="#d3ed13" stroke="#717f0a" stroke-width="1.8" stroke-linejoin="round"/><polygon points="775.7,212.7 789.6,203.2 769.5,185.7 755.5,194.9" fill="#6fed13" stroke="#3c7f0a" stroke-width="1.8" stroke-linejoin="round"/><polygon points="409.9,149.1 424.6,138.2 403.3,133.4 388.4,144.0" fill="#edc413" stroke="#7f690a" stroke-width="1.8" stroke-linejoin="round"/><polygon points="242.9,179.3 257.9,168.7 236.5,170.2 221.4,180.6" fill="#a7db12" stroke="#597609" stroke-width="1.8" stroke-linejoin="round"/><polygon points="686.5,182.1 700.7,172.0 680.2,157.3 665.9,167.1" fill="#c7ed13" stroke="#6b7f0a" stroke-width="1.8" stroke-linejoin="round"/><polygon points="503.3,149.9 517.9,139.1 496.7,130.7 482.0,141.2" fill="#edbe13" stroke="#7f660a" stroke-width="1.8" stroke-linejoin="round"/><polygon points="206.4,191.2 221.4,180.6 200.0,183.5 184.9,193.8" fill="#7ac710" stroke="#416b09" stroke-width="1.8" stroke-linejoin="round"/><polygon points="595.6,161.1 610.0,150.5 589.1,138.8 574.6,149.0" fill="#edd913" stroke="#7f740a" stroke-width="1.8" stroke-linejoin="round"/><polygon points="373.6,154.9 388.4,144.0 367.1,140.3 352.2,151.0" fill="#edd413" stroke="#7f710a" stroke-width="1.8" stroke-linejoin="round"/><polygon points="741.5,204.9 755.5,194.9 735.3,178.2 721.2,187.9" fill="#8ced13" stroke="#4b7f0a" stroke-width="1.8" stroke-linejoin="round"/><polygon points="337.3,161.9 352.2,151.0 330.7,148.5 315.8,159.2" fill="#ede713" stroke="#7f7c0a" stroke-width="1.8" stroke-linejoin="round"/><polygon points="467.3,152.1 482.0,141.2 460.7,133.8 446.0,144.5" fill="#edc213" stroke="#7f680a" stroke-width="1.8" stroke-linejoin="round"/><polygon points="651.6,177.6 665.9,167.1 645.2,153.3 630.9,163.5" fill="#d9ed13" stroke="#747f0a" stroke-width="1.8" stroke-linejoin="round"/><polygon points="560.1,159.9 574.6,149.0 553.6,138.3 539.0,148.8" fill="#edd213" stroke="#7f710a" stroke-width="1.8" stroke-linejoin="round"/><polygon points="795.8,231.4 809.6,221.7 789.6,203.2 775.7,212.7" fill="#44ed13" stroke="#257f0a" stroke-width="1.8" stroke-linejoin="round"/><polygon points="300.9,170.1 315.8,159.2 294.3,157.9 279.3,168.6" fill="#dced13" stroke="#767f0a" stroke-width="1.8" stroke-linejoin="round"/><polygon points="431.3,155.6 446.0,144.5 424.6,138.2 409.9,149.1" fill="#edcb13" stroke="#7f6d0a" stroke-width="1.8" stroke-linejoin="round"/><polygon points="264.4,179.5 279.3,168.6 257.9,168.7 242.9,179.3" fill="#c1ed13" stroke="#687f0a" stroke-width="1.8" stroke-linejoin="round"/><polygon points="707.1,198.3 721.2,187.9 700.7,172.0 686.5,182.1" fill="#a4ed13" stroke="#587f0a" stroke-width="1.8" stroke-linejoin="round"/><polygon points="524.5,159.9 539.0,148.8 517.9,139.1 503.3,149.9" fill="#edcf13" stroke="#7f6f0a" stroke-width="1.8" stroke-linejoin="round"/><polygon points="616.5,174.3 630.9,163.5 610.0,150.5 595.6,161.1" fill="#e7ed13" stroke="#7c7f0a" stroke-width="1.8" stroke-linejoin="round"/><polygon points="395.1,160.3 409.9,149.1 388.4,144.0 373.6,154.9" fill="#edd713" stroke="#7f730a" stroke-width="1.8" stroke-linejoin="round"/><polygon points="227.9,190.0 242.9,179.3 221.4,180.6 206.4,191.2" fill="#97dd12" stroke="#517709" stroke-width="1.8" stroke-linejoin="round"/><polygon points="761.8,222.9 775.7,212.7 755.5,194.9 741.5,204.9" fill="#63ed13" stroke="#357f0a" stroke-width="1.8" stroke-linejoin="round"/><polygon points="191.3,201.7 206.4,191.2 184.9,193.8 169.8,204.2" fill="#6cc810" stroke="#3a6b09" stroke-width="1.8" stroke-linejoin="round"/><polygon points="488.7,161.1 503.3,149.9 482.0,141.2 467.3,152.1" fill="#edd013" stroke="#7f700a" stroke-width="1.8" stroke-linejoin="round"/><polygon points="358.8,166.1 373.6,154.9 352.2,151.0 337.3,161.9" fill="#ede713" stroke="#7f7c0a" stroke-width="1.8" stroke-linejoin="round"/><polygon points="672.4,192.9 686.5,182.1 665.9,167.1 651.6,177.6" fill="#b9ed13" stroke="#637f0a" stroke-width="1.8" stroke-linejoin="round"/><polygon points="581.2,172.1 595.6,161.1 574.6,149.0 560.1,159.9" fill="#edea13" stroke="#7f7d0a" stroke-width="1.8" stroke-linejoin="round"/><polygon points="322.4,173.1 337.3,161.9 315.8,159.2 300.9,170.1" fill="#e1ed13" stroke="#797f0a" stroke-width="1.8" stroke-linejoin="round"/><polygon points="452.7,163.5 467.3,152.1 446.0,144.5 431.3,155.6" fill="#edd513" stroke="#7f720a" stroke-width="1.8" stroke-linejoin="round"/><polygon points="727.5,215.5 741.5,204.9 721.2,187.9 707.1,198.3" fill="#7eed13" stroke="#447f0a" stroke-width="1.8" stroke-linejoin="round"/><polygon points="286.0,181.2 300.9,170.1 279.3,168.6 264.4,179.5" fill="#caed13" stroke="#6c7f0a" stroke-width="1.8" stroke-linejoin="round"/><polygon points="545.7,171.2 560.1,159.9 539.0,148.8 524.5,159.9" fill="#ede413" stroke="#7f7a0a" stroke-width="1.8" stroke-linejoin="round"/><polygon points="637.4,188.7 651.6,177.6 630.9,163.5 616.5,174.3" fill="#c9ed13" stroke="#6c7f0a" stroke-width="1.8" stroke-linejoin="round"/><polygon points="416.6,167.0 431.3,155.6 409.9,149.1 395.1,160.3" fill="#edde13" stroke="#7f770a" stroke-width="1.8" stroke-linejoin="round"/><polygon points="782.0,241.9 795.8,231.4 775.7,212.7 761.8,222.9" fill="#38ed13" stroke="#1e7f0a" stroke-width="1.8" stroke-linejoin="round"/><polygon points="249.5,190.5 264.4,179.5 242.9,179.3 227.9,190.0" fill="#afed13" stroke="#5e7f0a" stroke-width="1.8" stroke-linejoin="round"/><polygon points="510.0,171.4 524.5,159.9 503.3,149.9 488.7,161.1" fill="#ede213" stroke="#7f790a" stroke-width="1.8" stroke-linejoin="round"/><polygon points="212.9,200.8 227.9,190.0 206.4,191.2 191.3,201.7" fill="#87de12" stroke="#48770a" stroke-width="1.8" stroke-linejoin="round"/><polygon points="693.0,209.3 707.1,198.3 686.5,182.1 672.4,192.9" fill="#95ed13" stroke="#507f0a" stroke-width="1.8" stroke-linejoin="round"/><polygon points="380.4,171.7 395.1,160.3 373.6,154.9 358.8,166.1" fill="#edea13" stroke="#7f7d0a" stroke-width="1.8" stroke-linejoin="round"/><polygon points="602.2,185.6 616.5,174.3 595.6,161.1 581.2,172.1" fill="#d6ed13" stroke="#737f0a" stroke-width="1.8" stroke-linejoin="round"/><polygon points="176.3,212.2 191.3,201.7 169.8,204.2 154.8,214.5" fill="#5dc810" stroke="#326b09" stroke-width="1.8" stroke-linejoin="round"/><polygon points="344.0,177.5 358.8,166.1 337.3,161.9 322.4,173.1" fill="#e1ed13" stroke="#797f0a" stroke-width="1.8" stroke-linejoin="round"/><polygon points="747.9,233.8 761.8,222.9 741.5,204.9 727.5,215.5" fill="#56ed13" stroke="#2e7f0a" stroke-width="1.8" stroke-linejoin="round"/><polygon points="474.1,172.7 488.7,161.1 467.3,152.1 452.7,163.5" fill="#ede313" stroke="#7f7a0a" stroke-width="1.8" stroke-linejoin="round"/><polygon points="658.2,204.2 672.4,192.9 651.6,177.6 637.4,188.7" fill="#a9ed13" stroke="#5a7f0a" stroke-width="1.8" stroke-linejoin="round"/><polygon points="566.8,183.7 581.2,172.1 560.1,159.9 545.7,171.2" fill="#dfed13" stroke="#787f0a" stroke-width="1.8" stroke-linejoin="round"/><polygon points="307.6,184.4 322.4,173.1 300.9,170.1 286.0,181.2" fill="#ceed13" stroke="#6e7f0a" stroke-width="1.8" stroke-linejoin="round"/><polygon points="438.1,175.1 452.7,163.5 431.3,155.6 416.6,167.0" fill="#ede813" stroke="#7f7d0a" stroke-width="1.8" stroke-linejoin="round"/><polygon points="271.1,192.4 286.0,181.2 264.4,179.5 249.5,190.5" fill="#b7ed13" stroke="#627f0a" stroke-width="1.8" stroke-linejoin="round"/><polygon points="713.5,226.8 727.5,215.5 707.1,198.3 693.0,209.3" fill="#6fed13" stroke="#3c7f0a" stroke-width="1.8" stroke-linejoin="round"/><polygon points="531.2,182.9 545.7,171.2 524.5,159.9 510.0,171.4" fill="#e5ed13" stroke="#7b7f0a" stroke-width="1.8" stroke-linejoin="round"/><polygon points="623.2,200.3 637.4,188.7 616.5,174.3 602.2,185.6" fill="#b8ed13" stroke="#637f0a" stroke-width="1.8" stroke-linejoin="round"/><polygon points="234.6,201.4 249.5,190.5 227.9,190.0 212.9,200.8" fill="#9ced13" stroke="#547f0a" stroke-width="1.8" stroke-linejoin="round"/><polygon points="401.9,178.7 416.6,167.0 395.1,160.3 380.4,171.7" fill="#eaed13" stroke="#7d7f0a" stroke-width="1.8" stroke-linejoin="round"/><polygon points="198.0,211.5 212.9,200.8 191.3,201.7 176.3,212.2" fill="#76dd12" stroke="#3f7709" stroke-width="1.8" stroke-linejoin="round"/><polygon points="768.2,253.0 782.0,241.9 761.8,222.9 747.9,233.8" fill="#2bed13" stroke="#177f0a" stroke-width="1.8" stroke-linejoin="round"/><polygon points="495.5,183.2 510.0,171.4 488.7,161.1 474.1,172.7" fill="#e6ed13" stroke="#7b7f0a" stroke-width="1.8" stroke-linejoin="round"/><polygon points="365.6,183.3 380.4,171.7 358.8,166.1 344.0,177.5" fill="#dded13" stroke="#777f0a" stroke-width="1.8" stroke-linejoin="round"/><polygon points="678.9,220.9 693.0,209.3 672.4,192.9 658.2,204.2" fill="#85ed13" stroke="#477f0a" stroke-width="1.8" stroke-linejoin="round"/><polygon points="587.9,197.4 602.2,185.6 581.2,172.1 566.8,183.7" fill="#c4ed13" stroke="#697f0a" stroke-width="1.8" stroke-linejoin="round"/><polygon points="329.3,189.0 344.0,177.5 322.4,173.1 307.6,184.4" fill="#ceed13" stroke="#6e7f0a" stroke-width="1.8" stroke-linejoin="round"/><polygon points="459.5,184.6 474.1,172.7 452.7,163.5 438.1,175.1" fill="#e4ed13" stroke="#7a7f0a" stroke-width="1.8" stroke-linejoin="round"/><polygon points="734.0,245.3 747.9,233.8 727.5,215.5 713.5,226.8" fill="#46ed13" stroke="#267f0a" stroke-width="1.8" stroke-linejoin="round"/><polygon points="292.8,195.7 307.6,184.4 286.0,181.2 271.1,192.4" fill="#baed13" stroke="#647f0a" stroke-width="1.8" stroke-linejoin="round"/><polygon points="552.4,195.7 566.8,183.7 545.7,171.2 531.2,182.9" fill="#cced13" stroke="#6e7f0a" stroke-width="1.8" stroke-linejoin="round"/><polygon points="644.0,216.1 658.2,204.2 637.4,188.7 623.2,200.3" fill="#97ed13" stroke="#517f0a" stroke-width="1.8" stroke-linejoin="round"/><polygon points="423.5,187.0 438.1,175.1 416.6,167.0 401.9,178.7" fill="#dfed13" stroke="#777f0a" stroke-width="1.8" stroke-linejoin="round"/><polygon points="256.3,203.5 271.1,192.4 249.5,190.5 234.6,201.4" fill="#a4ed13" stroke="#587f0a" stroke-width="1.8" stroke-linejoin="round"/><polygon points="219.7,212.3 234.6,201.4 212.9,200.8 198.0,211.5" fill="#8aed13" stroke="#4a7f0a" stroke-width="1.8" stroke-linejoin="round"/><polygon points="516.8,195.0 531.2,182.9 510.0,171.4 495.5,183.2" fill="#d1ed13" stroke="#707f0a" stroke-width="1.8" stroke-linejoin="round"/><polygon points="699.6,238.6 713.5,226.8 693.0,209.3 678.9,220.9" fill="#5fed13" stroke="#337f0a" stroke-width="1.8" stroke-linejoin="round"/><polygon points="387.3,190.5 401.9,178.7 380.4,171.7 365.6,183.3" fill="#d6ed13" stroke="#737f0a" stroke-width="1.8" stroke-linejoin="round"/><polygon points="608.9,212.3 623.2,200.3 602.2,185.6 587.9,197.4" fill="#a6ed13" stroke="#597f0a" stroke-width="1.8" stroke-linejoin="round"/><polygon points="351.0,195.0 365.6,183.3 344.0,177.5 329.3,189.0" fill="#caed13" stroke="#6c7f0a" stroke-width="1.8" stroke-linejoin="round"/><polygon points="481.0,195.3 495.5,183.2 474.1,172.7 459.5,184.6" fill="#d2ed13" stroke="#717f0a" stroke-width="1.8" stroke-linejoin="round"/><polygon points="754.4,264.8 768.2,253.0 747.9,233.8 734.0,245.3" fill="#1bed13" stroke="#0f7f0a" stroke-width="1.8" stroke-linejoin="round"/><polygon points="573.6,209.6 587.9,197.4 566.8,183.7 552.4,195.7" fill="#b1ed13" stroke="#5f7f0a" stroke-width="1.8" stroke-linejoin="round"/><polygon points="664.9,233.0 678.9,220.9 658.2,204.2 644.0,216.1" fill="#73ed13" stroke="#3e7f0a" stroke-width="1.8" stroke-linejoin="round"/><polygon points="314.5,200.6 329.3,189.0 307.6,184.4 292.8,195.7" fill="#baed13" stroke="#647f0a" stroke-width="1.8" stroke-linejoin="round"/><polygon points="445.0,196.7 459.5,184.6 438.1,175.1 423.5,187.0" fill="#d0ed13" stroke="#707f0a" stroke-width="1.8" stroke-linejoin="round"/><polygon points="278.0,207.1 292.8,195.7 271.1,192.4 256.3,203.5" fill="#a8ed13" stroke="#5a7f0a" stroke-width="1.8" stroke-linejoin="round"/><polygon points="720.1,257.4 734.0,245.3 713.5,226.8 699.6,238.6" fill="#36ed13" stroke="#1d7f0a" stroke-width="1.8" stroke-linejoin="round"/><polygon points="538.1,208.0 552.4,195.7 531.2,182.9 516.8,195.0" fill="#b9ed13" stroke="#637f0a" stroke-width="1.8" stroke-linejoin="round"/><polygon points="241.5,214.5 256.3,203.5 234.6,201.4 219.7,212.3" fill="#92ed13" stroke="#4e7f0a" stroke-width="1.8" stroke-linejoin="round"/><polygon points="629.9,228.4 644.0,216.1 623.2,200.3 608.9,212.3" fill="#85ed13" stroke="#477f0a" stroke-width="1.8" stroke-linejoin="round"/><polygon points="408.9,199.1 423.5,187.0 401.9,178.7 387.3,190.5" fill="#cbed13" stroke="#6d7f0a" stroke-width="1.8" stroke-linejoin="round"/><polygon points="372.7,202.5 387.3,190.5 365.6,183.3 351.0,195.0" fill="#c2ed13" stroke="#687f0a" stroke-width="1.8" stroke-linejoin="round"/><polygon points="502.4,207.3 516.8,195.0 495.5,183.2 481.0,195.3" fill="#bded13" stroke="#657f0a" stroke-width="1.8" stroke-linejoin="round"/><polygon points="685.6,250.9 699.6,238.6 678.9,220.9 664.9,233.0" fill="#4ded13" stroke="#297f0a" stroke-width="1.8" stroke-linejoin="round"/><polygon points="594.7,224.8 608.9,212.3 587.9,197.4 573.6,209.6" fill="#93ed13" stroke="#4f7f0a" stroke-width="1.8" stroke-linejoin="round"/><polygon points="336.3,206.8 351.0,195.0 329.3,189.0 314.5,200.6" fill="#b6ed13" stroke="#627f0a" stroke-width="1.8" stroke-linejoin="round"/><polygon points="466.5,207.7 481.0,195.3 459.5,184.6 445.0,196.7" fill="#beed13" stroke="#667f0a" stroke-width="1.8" stroke-linejoin="round"/><polygon points="740.6,277.1 754.4,264.8 734.0,245.3 720.1,257.4" fill="#13ed1c" stroke="#0a7f0f" stroke-width="1.8" stroke-linejoin="round"/><polygon points="299.8,212.1 314.5,200.6 292.8,195.7 278.0,207.1" fill="#a7ed13" stroke="#5a7f0a" stroke-width="1.8" stroke-linejoin="round"/><polygon points="559.4,222.2 573.6,209.6 552.4,195.7 538.1,208.0" fill="#9ded13" stroke="#547f0a" stroke-width="1.8" stroke-linejoin="round"/><polygon points="650.8,245.5 664.9,233.0 644.0,216.1 629.9,228.4" fill="#61ed13" stroke="#347f0a" stroke-width="1.8" stroke-linejoin="round"/><polygon points="430.5,209.0 445.0,196.7 423.5,187.0 408.9,199.1" fill="#bced13" stroke="#657f0a" stroke-width="1.8" stroke-linejoin="round"/><polygon points="263.3,218.3 278.0,207.1 256.3,203.5 241.5,214.5" fill="#95ed13" stroke="#507f0a" stroke-width="1.8" stroke-linejoin="round"/><polygon points="523.8,220.5 538.1,208.0 516.8,195.0 502.4,207.3" fill="#a4ed13" stroke="#587f0a" stroke-width="1.8" stroke-linejoin="round"/><polygon points="394.4,211.2 408.9,199.1 387.3,190.5 372.7,202.5" fill="#b6ed13" stroke="#627f0a" stroke-width="1.8" stroke-linejoin="round"/><polygon points="706.2,269.9 720.1,257.4 699.6,238.6 685.6,250.9" fill="#24ed13" stroke="#137f0a" stroke-width="1.8" stroke-linejoin="round"/><polygon points="615.8,241.0 629.9,228.4 608.9,212.3 594.7,224.8" fill="#71ed13" stroke="#3d7f0a" stroke-width="1.8" stroke-linejoin="round"/><polygon points="358.1,214.4 372.7,202.5 351.0,195.0 336.3,206.8" fill="#aeed13" stroke="#5d7f0a" stroke-width="1.8" stroke-linejoin="round"/><polygon points="488.1,219.9 502.4,207.3 481.0,195.3 466.5,207.7" fill="#a8ed13" stroke="#5a7f0a" stroke-width="1.8" stroke-linejoin="round"/><polygon points="580.6,237.5 594.7,224.8 573.6,209.6 559.4,222.2" fill="#7eed13" stroke="#447f0a" stroke-width="1.8" stroke-linejoin="round"/><polygon points="671.6,263.7 685.6,250.9 664.9,233.0 650.8,245.5" fill="#3aed13" stroke="#1f7f0a" stroke-width="1.8" stroke-linejoin="round"/><polygon points="321.7,218.5 336.3,206.8 314.5,200.6 299.8,212.1" fill="#a2ed13" stroke="#577f0a" stroke-width="1.8" stroke-linejoin="round"/><polygon points="452.1,220.1 466.5,207.7 445.0,196.7 430.5,209.0" fill="#a9ed13" stroke="#5b7f0a" stroke-width="1.8" stroke-linejoin="round"/><polygon points="285.1,223.5 299.8,212.1 278.0,207.1 263.3,218.3" fill="#94ed13" stroke="#4f7f0a" stroke-width="1.8" stroke-linejoin="round"/><polygon points="545.1,234.9 559.4,222.2 538.1,208.0 523.8,220.5" fill="#89ed13" stroke="#497f0a" stroke-width="1.8" stroke-linejoin="round"/><polygon points="726.8,289.9 740.6,277.1 720.1,257.4 706.2,269.9" fill="#13ed2e" stroke="#0a7f19" stroke-width="1.8" stroke-linejoin="round"/><polygon points="416.1,221.3 430.5,209.0 408.9,199.1 394.4,211.2" fill="#a7ed13" stroke="#5a7f0a" stroke-width="1.8" stroke-linejoin="round"/><polygon points="636.8,258.4 650.8,245.5 629.9,228.4 615.8,241.0" fill="#4ded13" stroke="#297f0a" stroke-width="1.8" stroke-linejoin="round"/><polygon points="379.9,223.3 394.4,211.2 372.7,202.5 358.1,214.4" fill="#a2ed13" stroke="#577f0a" stroke-width="1.8" stroke-linejoin="round"/><polygon points="509.5,233.3 523.8,220.5 502.4,207.3 488.1,219.9" fill="#90ed13" stroke="#4d7f0a" stroke-width="1.8" stroke-linejoin="round"/><polygon points="692.4,282.9 706.2,269.9 685.6,250.9 671.6,263.7" fill="#13ed15" stroke="#0a7f0b" stroke-width="1.8" stroke-linejoin="round"/><polygon points="601.7,254.0 615.8,241.0 594.7,224.8 580.6,237.5" fill="#5ded13" stroke="#327f0a" stroke-width="1.8" stroke-linejoin="round"/><polygon points="343.5,226.3 358.1,214.4 336.3,206.8 321.7,218.5" fill="#9aed13" stroke="#537f0a" stroke-width="1.8" stroke-linejoin="round"/><polygon points="473.7,232.5 488.1,219.9 466.5,207.7 452.1,220.1" fill="#94ed13" stroke="#4f7f0a" stroke-width="1.8" stroke-linejoin="round"/><polygon points="307.0,230.0 321.7,218.5 299.8,212.1 285.1,223.5" fill="#90ed13" stroke="#4d7f0a" stroke-width="1.8" stroke-linejoin="round"/><polygon points="566.4,250.5 580.6,237.5 559.4,222.2 545.1,234.9" fill="#6aed13" stroke="#397f0a" stroke-width="1.8" stroke-linejoin="round"/><polygon points="657.7,276.8 671.6,263.7 650.8,245.5 636.8,258.4" fill="#26ed13" stroke="#147f0a" stroke-width="1.8" stroke-linejoin="round"/><polygon points="437.7,232.6 452.1,220.1 430.5,209.0 416.1,221.3" fill="#95ed13" stroke="#507f0a" stroke-width="1.8" stroke-linejoin="round"/><polygon points="530.9,247.9 545.1,234.9 523.8,220.5 509.5,233.3" fill="#74ed13" stroke="#3e7f0a" stroke-width="1.8" stroke-linejoin="round"/><polygon points="401.6,233.6 416.1,221.3 394.4,211.2 379.9,223.3" fill="#93ed13" stroke="#4f7f0a" stroke-width="1.8" stroke-linejoin="round"/><polygon points="713.0,303.0 726.8,289.9 706.2,269.9 692.4,282.9" fill="#13ed41" stroke="#0a7f23" stroke-width="1.8" stroke-linejoin="round"/><polygon points="622.8,271.5 636.8,258.4 615.8,241.0 601.7,254.0" fill="#39ed13" stroke="#1e7f0a" stroke-width="1.8" stroke-linejoin="round"/><polygon points="365.4,235.4 379.9,223.3 358.1,214.4 343.5,226.3" fill="#8eed13" stroke="#4c7f0a" stroke-width="1.8" stroke-linejoin="round"/><polygon points="495.3,246.1 509.5,233.3 488.1,219.9 473.7,232.5" fill="#7bed13" stroke="#427f0a" stroke-width="1.8" stroke-linejoin="round"/><polygon points="329.0,238.0 343.5,226.3 321.7,218.5 307.0,230.0" fill="#87ed13" stroke="#487f0a" stroke-width="1.8" stroke-linejoin="round"/><polygon points="587.7,267.1 601.7,254.0 580.6,237.5 566.4,250.5" fill="#48ed13" stroke="#277f0a" stroke-width="1.8" stroke-linejoin="round"/><polygon points="678.5,296.2 692.4,282.9 671.6,263.7 657.7,276.8" fill="#13ed29" stroke="#0a7f16" stroke-width="1.8" stroke-linejoin="round"/><polygon points="459.4,245.2 473.7,232.5 452.1,220.1 437.7,232.6" fill="#7fed13" stroke="#447f0a" stroke-width="1.8" stroke-linejoin="round"/><polygon points="552.3,263.6 566.4,250.5 545.1,234.9 530.9,247.9" fill="#55ed13" stroke="#2d7f0a" stroke-width="1.8" stroke-linejoin="round"/><polygon points="423.4,245.1 437.7,232.6 416.1,221.3 401.6,233.6" fill="#80ed13" stroke="#457f0a" stroke-width="1.8" stroke-linejoin="round"/><polygon points="643.8,290.1 657.7,276.8 636.8,258.4 622.8,271.5" fill="#13ed14" stroke="#0a7f0b" stroke-width="1.8" stroke-linejoin="round"/><polygon points="387.2,245.8 401.6,233.6 379.9,223.3 365.4,235.4" fill="#7fed13" stroke="#447f0a" stroke-width="1.8" stroke-linejoin="round"/><polygon points="516.8,260.9 530.9,247.9 509.5,233.3 495.3,246.1" fill="#5fed13" stroke="#337f0a" stroke-width="1.8" stroke-linejoin="round"/><polygon points="608.8,284.9 622.8,271.5 601.7,254.0 587.7,267.1" fill="#24ed13" stroke="#137f0a" stroke-width="1.8" stroke-linejoin="round"/><polygon points="699.3,316.5 713.0,303.0 692.4,282.9 678.5,296.2" fill="#13ed55" stroke="#0a7f2d" stroke-width="1.8" stroke-linejoin="round"/><polygon points="350.9,247.2 365.4,235.4 343.5,226.3 329.0,238.0" fill="#7bed13" stroke="#427f0a" stroke-width="1.8" stroke-linejoin="round"/><polygon points="481.0,259.0 495.3,246.1 473.7,232.5 459.4,245.2" fill="#66ed13" stroke="#377f0a" stroke-width="1.8" stroke-linejoin="round"/><polygon points="573.6,280.5 587.7,267.1 566.4,250.5 552.3,263.6" fill="#33ed13" stroke="#1b7f0a" stroke-width="1.8" stroke-linejoin="round"/><polygon points="664.7,309.7 678.5,296.2 657.7,276.8 643.8,290.1" fill="#13ed3e" stroke="#0a7f21" stroke-width="1.8" stroke-linejoin="round"/><polygon points="445.1,257.8 459.4,245.2 437.7,232.6 423.4,245.1" fill="#6aed13" stroke="#397f0a" stroke-width="1.8" stroke-linejoin="round"/><polygon points="538.2,276.8 552.3,263.6 530.9,247.9 516.8,260.9" fill="#40ed13" stroke="#227f0a" stroke-width="1.8" stroke-linejoin="round"/><polygon points="409.0,257.5 423.4,245.1 401.6,233.6 387.2,245.8" fill="#6ced13" stroke="#3a7f0a" stroke-width="1.8" stroke-linejoin="round"/><polygon points="629.9,303.7 643.8,290.1 622.8,271.5 608.8,284.9" fill="#13ed29" stroke="#0a7f16" stroke-width="1.8" stroke-linejoin="round"/><polygon points="372.8,257.8 387.2,245.8 365.4,235.4 350.9,247.2" fill="#6ced13" stroke="#3a7f0a" stroke-width="1.8" stroke-linejoin="round"/><polygon points="502.6,273.9 516.8,260.9 495.3,246.1 481.0,259.0" fill="#4aed13" stroke="#287f0a" stroke-width="1.8" stroke-linejoin="round"/><polygon points="594.9,298.4 608.8,284.9 587.7,267.1 573.6,280.5" fill="#13ed17" stroke="#0a7f0c" stroke-width="1.8" stroke-linejoin="round"/><polygon points="685.6,330.2 699.3,316.5 678.5,296.2 664.7,309.7" fill="#13ed69" stroke="#0a7f38" stroke-width="1.8" stroke-linejoin="round"/><polygon points="466.8,271.8 481.0,259.0 459.4,245.2 445.1,257.8" fill="#51ed13" stroke="#2c7f0a" stroke-width="1.8" stroke-linejoin="round"/><polygon points="559.6,293.8 573.6,280.5 552.3,263.6 538.2,276.8" fill="#1eed13" stroke="#107f0a" stroke-width="1.8" stroke-linejoin="round"/><polygon points="430.9,270.3 445.1,257.8 423.4,245.1 409.0,257.5" fill="#56ed13" stroke="#2e7f0a" stroke-width="1.8" stroke-linejoin="round"/><polygon points="650.9,323.4 664.7,309.7 643.8,290.1 629.9,303.7" fill="#13ed52" stroke="#0a7f2c" stroke-width="1.8" stroke-linejoin="round"/><polygon points="394.7,269.6 409.0,257.5 387.2,245.8 372.8,257.8" fill="#59ed13" stroke="#307f0a" stroke-width="1.8" stroke-linejoin="round"/><polygon points="524.2,290.0 538.2,276.8 516.8,260.9 502.6,273.9" fill="#2bed13" stroke="#177f0a" stroke-width="1.8" stroke-linejoin="round"/><polygon points="616.1,317.3 629.9,303.7 608.8,284.9 594.9,298.4" fill="#13ed3e" stroke="#0a7f21" stroke-width="1.8" stroke-linejoin="round"/><polygon points="488.5,286.9 502.6,273.9 481.0,259.0 466.8,271.8" fill="#35ed13" stroke="#1d7f0a" stroke-width="1.8" stroke-linejoin="round"/><polygon points="581.0,311.9 594.9,298.4 573.6,280.5 559.6,293.8" fill="#13ed2c" stroke="#0a7f18" stroke-width="1.8" stroke-linejoin="round"/><polygon points="671.9,344.1 685.6,330.2 664.7,309.7 650.9,323.4" fill="#13ed7e" stroke="#0a7f43" stroke-width="1.8" stroke-linejoin="round"/><polygon points="452.7,284.4 466.8,271.8 445.1,257.8 430.9,270.3" fill="#3ded13" stroke="#217f0a" stroke-width="1.8" stroke-linejoin="round"/><polygon points="416.6,282.6 430.9,270.3 409.0,257.5 394.7,269.6" fill="#43ed13" stroke="#247f0a" stroke-width="1.8" stroke-linejoin="round"/><polygon points="545.7,307.2 559.6,293.8 538.2,276.8 524.2,290.0" fill="#13ed1d" stroke="#0a7f0f" stroke-width="1.8" stroke-linejoin="round"/><polygon points="637.2,337.2 650.9,323.4 629.9,303.7 616.1,317.3" fill="#13ed67" stroke="#0a7f37" stroke-width="1.8" stroke-linejoin="round"/><polygon points="510.1,303.1 524.2,290.0 502.6,273.9 488.5,286.9" fill="#17ed13" stroke="#0c7f0a" stroke-width="1.8" stroke-linejoin="round"/><polygon points="602.2,331.0 616.1,317.3 594.9,298.4 581.0,311.9" fill="#13ed53" stroke="#0a7f2c" stroke-width="1.8" stroke-linejoin="round"/><polygon points="474.4,299.7 488.5,286.9 466.8,271.8 452.7,284.4" fill="#21ed13" stroke="#127f0a" stroke-width="1.8" stroke-linejoin="round"/><polygon points="567.1,325.4 581.0,311.9 559.6,293.8 545.7,307.2" fill="#13ed41" stroke="#0a7f23" stroke-width="1.8" stroke-linejoin="round"/><polygon points="438.5,296.9 452.7,284.4 430.9,270.3 416.6,282.6" fill="#2aed13" stroke="#177f0a" stroke-width="1.8" stroke-linejoin="round"/><polygon points="658.2,358.1 671.9,344.1 650.9,323.4 637.2,337.2" fill="#13ed93" stroke="#0a7f4f" stroke-width="1.8" stroke-linejoin="round"/><polygon points="531.7,320.4 545.7,307.2 524.2,290.0 510.1,303.1" fill="#13ed31" stroke="#0a7f1a" stroke-width="1.8" stroke-linejoin="round"/><polygon points="623.4,351.0 637.2,337.2 616.1,317.3 602.2,331.0" fill="#13ed7c" stroke="#0a7f42" stroke-width="1.8" stroke-linejoin="round"/><polygon points="496.1,316.0 510.1,303.1 488.5,286.9 474.4,299.7" fill="#13ed23" stroke="#0a7f13" stroke-width="1.8" stroke-linejoin="round"/><polygon points="588.4,344.6 602.2,331.0 581.0,311.9 567.1,325.4" fill="#13ed68" stroke="#0a7f37" stroke-width="1.8" stroke-linejoin="round"/><polygon points="460.3,312.2 474.4,299.7 452.7,284.4 438.5,296.9" fill="#13ed18" stroke="#0a7f0d" stroke-width="1.8" stroke-linejoin="round"/><polygon points="553.2,338.8 567.1,325.4 545.7,307.2 531.7,320.4" fill="#13ed55" stroke="#0a7f2e" stroke-width="1.8" stroke-linejoin="round"/><polygon points="644.6,372.0 658.2,358.1 637.2,337.2 623.4,351.0" fill="#13eda7" stroke="#0a7f5a" stroke-width="1.8" stroke-linejoin="round"/><polygon points="517.8,333.4 531.7,320.4 510.1,303.1 496.1,316.0" fill="#13ed45" stroke="#0a7f25" stroke-width="1.8" stroke-linejoin="round"/><polygon points="609.7,364.8 623.4,351.0 602.2,331.0 588.4,344.6" fill="#13ed91" stroke="#0a7f4d" stroke-width="1.8" stroke-linejoin="round"/><polygon points="482.1,328.7 496.1,316.0 474.4,299.7 460.3,312.2" fill="#13ed37" stroke="#0a7f1d" stroke-width="1.8" stroke-linejoin="round"/><polygon points="574.7,358.1 588.4,344.6 567.1,325.4 553.2,338.8" fill="#13ed7c" stroke="#0a7f42" stroke-width="1.8" stroke-linejoin="round"/><polygon points="539.4,351.9 553.2,338.8 531.7,320.4 517.8,333.4" fill="#13ed69" stroke="#0a7f38" stroke-width="1.8" stroke-linejoin="round"/><polygon points="630.9,385.9 644.6,372.0 623.4,351.0 609.7,364.8" fill="#13edbc" stroke="#0a7f65" stroke-width="1.8" stroke-linejoin="round"/><polygon points="503.9,346.2 517.8,333.4 496.1,316.0 482.1,328.7" fill="#13ed58" stroke="#0a7f2f" stroke-width="1.8" stroke-linejoin="round"/><polygon points="596.1,378.4 609.7,364.8 588.4,344.6 574.7,358.1" fill="#13eda5" stroke="#0a7f58" stroke-width="1.8" stroke-linejoin="round"/><polygon points="560.9,371.3 574.7,358.1 553.2,338.8 539.4,351.9" fill="#13ed8f" stroke="#0a7f4d" stroke-width="1.8" stroke-linejoin="round"/><polygon points="525.6,364.7 539.4,351.9 517.8,333.4 503.9,346.2" fill="#13ed7c" stroke="#0a7f42" stroke-width="1.8" stroke-linejoin="round"/><polygon points="617.4,399.6 630.9,385.9 609.7,364.8 596.1,378.4" fill="#13edcf" stroke="#0a7f6f" stroke-width="1.8" stroke-linejoin="round"/><polygon points="582.4,391.7 596.1,378.4 574.7,358.1 560.9,371.3" fill="#13edb8" stroke="#0a7f63" stroke-width="1.8" stroke-linejoin="round"/><polygon points="547.2,384.3 560.9,371.3 539.4,351.9 525.6,364.7" fill="#13eda2" stroke="#0a7f57" stroke-width="1.8" stroke-linejoin="round"/><polygon points="603.8,413.0 617.4,399.6 596.1,378.4 582.4,391.7" fill="#13ede2" stroke="#0a7f79" stroke-width="1.8" stroke-linejoin="round"/><polygon points="568.8,404.7 582.4,391.7 560.9,371.3 547.2,384.3" fill="#13edca" stroke="#0a7f6c" stroke-width="1.8" stroke-linejoin="round"/><polygon points="590.3,426.1 603.8,413.0 582.4,391.7 568.8,404.7" fill="#13e6ed" stroke="#0a7c7f" stroke-width="1.8" stroke-linejoin="round"/></g>
<circle cx="155" cy="218.5" r="6" fill="#b88a8a" stroke="#8a6060" stroke-width="1"/><circle cx="863" cy="200.5" r="6" fill="#b88a8a" stroke="#8a6060" stroke-width="1"/><path d="M592,436 L588,428 L596,428 Z" fill="#5a0a0a"/><circle cx="592" cy="426" r="5.5" fill="#6a1010"/>
<g><line x1="1192.0" y1="429.6" x2="1506.9" y2="335.7" stroke="#3a3a3a" stroke-width="1.25"/><line x1="1506.9" y1="335.7" x2="1889.7" y2="405.4" stroke="#3a3a3a" stroke-width="1.25"/><line x1="1189.6" y1="356.9" x2="1506.4" y2="271.8" stroke="#3a3a3a" stroke-width="1.25"/><line x1="1506.4" y1="271.8" x2="1891.9" y2="335.0" stroke="#3a3a3a" stroke-width="1.25"/><line x1="1187.3" y1="284.1" x2="1506.0" y2="208.0" stroke="#3a3a3a" stroke-width="1.25"/><line x1="1506.0" y1="208.0" x2="1894.2" y2="264.6" stroke="#3a3a3a" stroke-width="1.25"/><line x1="1185.0" y1="211.3" x2="1505.6" y2="144.1" stroke="#3a3a3a" stroke-width="1.25"/><line x1="1505.6" y1="144.1" x2="1896.4" y2="194.3" stroke="#3a3a3a" stroke-width="1.25"/><line x1="1182.7" y1="138.6" x2="1505.1" y2="80.3" stroke="#3a3a3a" stroke-width="1.25"/><line x1="1505.1" y1="80.3" x2="1898.6" y2="123.9" stroke="#3a3a3a" stroke-width="1.25"/><line x1="1180.4" y1="65.8" x2="1504.7" y2="16.4" stroke="#3a3a3a" stroke-width="1.25"/><line x1="1504.7" y1="16.4" x2="1900.9" y2="53.5" stroke="#3a3a3a" stroke-width="1.25"/><line x1="1254.9" y1="410.8" x2="1245.2" y2="55.9" stroke="#3a3a3a" stroke-width="1.25"/><line x1="1317.9" y1="392.0" x2="1310.1" y2="46.0" stroke="#3a3a3a" stroke-width="1.25"/><line x1="1380.9" y1="373.2" x2="1375.0" y2="36.2" stroke="#3a3a3a" stroke-width="1.25"/><line x1="1443.9" y1="354.4" x2="1439.8" y2="26.3" stroke="#3a3a3a" stroke-width="1.25"/><line x1="1813.1" y1="391.5" x2="1821.6" y2="46.1" stroke="#3a3a3a" stroke-width="1.25"/><line x1="1736.6" y1="377.5" x2="1742.4" y2="38.7" stroke="#3a3a3a" stroke-width="1.25"/><line x1="1660.0" y1="363.6" x2="1663.2" y2="31.2" stroke="#3a3a3a" stroke-width="1.25"/><line x1="1583.4" y1="349.6" x2="1583.9" y2="23.8" stroke="#3a3a3a" stroke-width="1.25"/><line x1="1195.7" y1="547.1" x2="1180.4" y2="65.8" stroke="#3a3a3a" stroke-width="1.25"/><line x1="1507.6" y1="438.7" x2="1504.7" y2="16.4" stroke="#3a3a3a" stroke-width="1.25"/><line x1="1886.1" y1="519.0" x2="1900.9" y2="53.5" stroke="#3a3a3a" stroke-width="1.25"/></g>
<polygon points="1599.2,654.1 1886.1,519.0 1507.6,438.7 1195.7,547.1" fill="#fbfb00" stroke="#7a7a10" stroke-width="1.2"/>
<circle cx="1656.6" cy="627.0" r="1.6" fill="#333"/><circle cx="1713.9" cy="600.0" r="1.6" fill="#333"/><circle cx="1771.3" cy="573.0" r="1.6" fill="#333"/><circle cx="1828.7" cy="546.0" r="1.6" fill="#333"/><circle cx="1518.5" cy="632.7" r="1.6" fill="#333"/><circle cx="1437.8" cy="611.3" r="1.6" fill="#333"/><circle cx="1357.1" cy="589.9" r="1.6" fill="#333"/><circle cx="1276.4" cy="568.5" r="1.6" fill="#333"/><circle cx="1192.0" cy="429.6" r="1.6" fill="#333"/><circle cx="1189.6" cy="356.9" r="1.6" fill="#333"/><circle cx="1187.3" cy="284.1" r="1.6" fill="#333"/><circle cx="1185.0" cy="211.3" r="1.6" fill="#333"/><circle cx="1182.7" cy="138.6" r="1.6" fill="#333"/><circle cx="1180.4" cy="65.8" r="1.6" fill="#333"/>
<path d="M1745.9,585.0 L1741.4,585.7 L1737.0,586.4 L1732.3,587.1 L1727.0,587.9 L1721.6,588.6 L1716.2,589.3 L1711.7,589.9 L1707.6,590.4 L1702.2,591.0 L1696.5,591.7 L1691.9,592.2 L1687.7,592.6 L1681.7,593.2 L1676.7,593.6 L1672.5,594.0 L1666.2,594.5 L1662.0,594.8 L1656.6,595.1 L1651.3,595.5 L1646.8,595.8 L1640.9,596.1 L1636.6,596.3 L1630.6,596.5 L1626.1,596.7 L1620.6,596.9 L1615.2,597.1 L1610.8,597.2 L1604.3,597.3 L1600.0,597.3 L1594.8,597.4 L1588.6,597.4 L1584.0,597.3 L1579.4,597.3 L1573.3,597.2 L1567.3,597.1 L1562.4,597.0 L1557.9,596.8 L1552.7,596.6 L1547.0,596.4 L1541.3,596.1 L1535.7,595.8 L1530.2,595.4 L1524.7,595.0 L1519.3,594.6 L1513.9,594.2 L1508.7,593.7 L1503.5,593.2 L1498.0,592.6 L1491.0,591.8 L1485.7,591.2 L1480.8,590.6 L1475.4,589.8 L1468.7,588.9 L1464.0,588.1 L1457.0,587.0 L1452.5,586.2 L1445.7,584.9 L1441.3,584.1 L1434.8,582.7 L1428.5,581.3 L1422.3,579.8 L1416.2,578.3 L1410.3,576.7 L1404.5,575.1 L1398.9,573.4 L1393.5,571.7 L1389.8,570.5 L1384.5,568.6 L1381.1,567.4 L1376.1,565.4 L1372.9,564.1 L1369.1,562.5 L1365.1,560.7 L1362.1,559.3 L1359.2,557.8 L1356.0,556.2 L1352.6,554.4 L1349.6,552.6 L1347.0,551.1 L1344.5,549.5 L1342.1,547.9 L1339.7,546.3 L1337.7,544.8 L1335.8,543.3 L1334.1,541.9 L1332.2,540.3 L1330.3,538.6 L1328.4,536.8 L1327.0,535.4 L1325.8,534.1 L1324.2,532.2 L1322.9,530.5 L1322.0,529.4 L1320.7,527.4 L1319.8,526.0 L1318.9,524.4 L1318.0,522.7 L1317.3,521.4 L1316.6,519.5 L1316.1,518.2 L1315.6,516.5 L1315.2,515.0 L1314.9,513.5 L1314.6,511.6 L1314.5,510.5 L1314.4,508.7 L1314.4,507.0 L1314.4,505.8" fill="none" stroke="#b8f000" stroke-width="1.8" opacity="0.9"/>
<g><polygon points="1508.5,47.8 1524.6,46.9 1505.0,52.8 1488.8,53.6" fill="#a6530d" stroke="#592d07" stroke-width="1.8" stroke-linejoin="round"/><polygon points="1528.3,42.8 1544.4,41.9 1524.6,46.9 1508.5,47.8" fill="#8e390b" stroke="#4c1f06" stroke-width="1.8" stroke-linejoin="round"/><polygon points="1492.4,49.5 1508.5,47.8 1488.8,53.6 1472.6,55.3" fill="#8d440b" stroke="#4c2506" stroke-width="1.8" stroke-linejoin="round"/><polygon points="1548.1,38.8 1564.1,37.7 1544.4,41.9 1528.3,42.8" fill="#77260a" stroke="#401405" stroke-width="1.8" stroke-linejoin="round"/><polygon points="1512.2,44.7 1528.3,42.8 1508.5,47.8 1492.4,49.5" fill="#762d09" stroke="#3f1805" stroke-width="1.8" stroke-linejoin="round"/><polygon points="1476.3,52.1 1492.4,49.5 1472.6,55.3 1456.4,57.8" fill="#773809" stroke="#401e05" stroke-width="1.8" stroke-linejoin="round"/><polygon points="1568.0,35.6 1583.9,34.5 1564.1,37.7 1548.1,38.8" fill="#611808" stroke="#340d04" stroke-width="1.8" stroke-linejoin="round"/><polygon points="1532.1,40.7 1548.1,38.8 1528.3,42.8 1512.2,44.7" fill="#601d08" stroke="#330f04" stroke-width="1.8" stroke-linejoin="round"/><polygon points="1496.2,47.4 1512.2,44.7 1492.4,49.5 1476.3,52.1" fill="#602408" stroke="#331304" stroke-width="1.8" stroke-linejoin="round"/><polygon points="1587.8,33.4 1603.7,32.1 1583.9,34.5 1568.0,35.6" fill="#4d0e06" stroke="#290703" stroke-width="1.8" stroke-linejoin="round"/><polygon points="1460.2,55.5 1476.3,52.1 1456.4,57.8 1440.3,61.1" fill="#612f08" stroke="#341904" stroke-width="1.8" stroke-linejoin="round"/><polygon points="1552.0,37.6 1568.0,35.6 1548.1,38.8 1532.1,40.7" fill="#4b1106" stroke="#280903" stroke-width="1.8" stroke-linejoin="round"/><polygon points="1516.1,43.5 1532.1,40.7 1512.2,44.7 1496.2,47.4" fill="#4a1606" stroke="#280c03" stroke-width="1.8" stroke-linejoin="round"/><polygon points="1607.7,32.0 1623.5,30.7 1603.7,32.1 1587.8,33.4" fill="#400805" stroke="#220503" stroke-width="1.8" stroke-linejoin="round"/><polygon points="1480.1,50.9 1496.2,47.4 1476.3,52.1 1460.2,55.5" fill="#4b1d06" stroke="#280f03" stroke-width="1.8" stroke-linejoin="round"/><polygon points="1444.1,59.7 1460.2,55.5 1440.3,61.1 1424.1,65.2" fill="#4d2606" stroke="#291403" stroke-width="1.8" stroke-linejoin="round"/><polygon points="1571.9,35.5 1587.8,33.4 1568.0,35.6 1552.0,37.6" fill="#440b05" stroke="#250603" stroke-width="1.8" stroke-linejoin="round"/><polygon points="1536.1,40.5 1552.0,37.6 1532.1,40.7 1516.1,43.5" fill="#481006" stroke="#270903" stroke-width="1.8" stroke-linejoin="round"/><polygon points="1627.6,31.5 1643.4,30.1 1623.5,30.7 1607.7,32.0" fill="#510806" stroke="#2b0403" stroke-width="1.8" stroke-linejoin="round"/><polygon points="1500.1,47.1 1516.1,43.5 1496.2,47.4 1480.1,50.9" fill="#4c1706" stroke="#290c03" stroke-width="1.8" stroke-linejoin="round"/><polygon points="1591.9,34.2 1607.7,32.0 1587.8,33.4 1571.9,35.5" fill="#550a07" stroke="#2d0504" stroke-width="1.8" stroke-linejoin="round"/><polygon points="1464.1,55.2 1480.1,50.9 1460.2,55.5 1444.1,59.7" fill="#502006" stroke="#2b1103" stroke-width="1.8" stroke-linejoin="round"/><polygon points="1428.0,64.7 1444.1,59.7 1424.1,65.2 1408.0,70.0" fill="#532b07" stroke="#2c1704" stroke-width="1.8" stroke-linejoin="round"/><polygon points="1556.0,38.5 1571.9,35.5 1552.0,37.6 1536.1,40.5" fill="#590e07" stroke="#2f0804" stroke-width="1.8" stroke-linejoin="round"/><polygon points="1647.5,32.0 1663.2,30.5 1643.4,30.1 1627.6,31.5" fill="#610808" stroke="#340404" stroke-width="1.8" stroke-linejoin="round"/><polygon points="1520.1,44.2 1536.1,40.5 1516.1,43.5 1500.1,47.1" fill="#5c1507" stroke="#310b04" stroke-width="1.8" stroke-linejoin="round"/><polygon points="1611.8,33.8 1627.6,31.5 1607.7,32.0 1591.9,34.2" fill="#650808" stroke="#360404" stroke-width="1.8" stroke-linejoin="round"/><polygon points="1484.1,51.5 1500.1,47.1 1480.1,50.9 1464.1,55.2" fill="#601e08" stroke="#331004" stroke-width="1.8" stroke-linejoin="round"/><polygon points="1448.0,60.2 1464.1,55.2 1444.1,59.7 1428.0,64.7" fill="#632a08" stroke="#351604" stroke-width="1.8" stroke-linejoin="round"/><polygon points="1576.0,37.3 1591.9,34.2 1571.9,35.5 1556.0,38.5" fill="#680c08" stroke="#380604" stroke-width="1.8" stroke-linejoin="round"/><polygon points="1667.3,33.3 1683.0,31.7 1663.2,30.5 1647.5,32.0" fill="#720909" stroke="#3d0505" stroke-width="1.8" stroke-linejoin="round"/><polygon points="1411.9,70.3 1428.0,64.7 1408.0,70.0 1391.9,75.6" fill="#663808" stroke="#371e04" stroke-width="1.8" stroke-linejoin="round"/><polygon points="1540.1,42.3 1556.0,38.5 1536.1,40.5 1520.1,44.2" fill="#6c1209" stroke="#3a0a05" stroke-width="1.8" stroke-linejoin="round"/><polygon points="1631.8,34.4 1647.5,32.0 1627.6,31.5 1611.8,33.8" fill="#760909" stroke="#3f0505" stroke-width="1.8" stroke-linejoin="round"/><polygon points="1504.2,48.7 1520.1,44.2 1500.1,47.1 1484.1,51.5" fill="#701b09" stroke="#3c0f05" stroke-width="1.8" stroke-linejoin="round"/><polygon points="1596.0,37.0 1611.8,33.8 1591.9,34.2 1576.0,37.3" fill="#780a0a" stroke="#400505" stroke-width="1.8" stroke-linejoin="round"/><polygon points="1468.1,56.7 1484.1,51.5 1464.1,55.2 1448.0,60.2" fill="#732709" stroke="#3e1505" stroke-width="1.8" stroke-linejoin="round"/><polygon points="1687.2,35.6 1702.8,33.9 1683.0,31.7 1667.3,33.3" fill="#820a0a" stroke="#460606" stroke-width="1.8" stroke-linejoin="round"/><polygon points="1432.0,66.0 1448.0,60.2 1428.0,64.7 1411.9,70.3" fill="#763609" stroke="#3f1d05" stroke-width="1.8" stroke-linejoin="round"/><polygon points="1560.2,41.2 1576.0,37.3 1556.0,38.5 1540.1,42.3" fill="#7b0f0a" stroke="#420805" stroke-width="1.8" stroke-linejoin="round"/><polygon points="1395.9,76.7 1411.9,70.3 1391.9,75.6 1375.8,81.8" fill="#77460a" stroke="#402505" stroke-width="1.8" stroke-linejoin="round"/><polygon points="1651.7,35.8 1667.3,33.3 1647.5,32.0 1631.8,34.4" fill="#860b0b" stroke="#480606" stroke-width="1.8" stroke-linejoin="round"/><polygon points="1524.2,46.9 1540.1,42.3 1520.1,44.2 1504.2,48.7" fill="#7f180a" stroke="#440d05" stroke-width="1.8" stroke-linejoin="round"/><polygon points="1616.0,37.6 1631.8,34.4 1611.8,33.8 1596.0,37.0" fill="#890b0b" stroke="#490606" stroke-width="1.8" stroke-linejoin="round"/><polygon points="1488.2,54.0 1504.2,48.7 1484.1,51.5 1468.1,56.7" fill="#82230a" stroke="#461306" stroke-width="1.8" stroke-linejoin="round"/><polygon points="1707.1,38.7 1722.6,36.9 1702.8,33.9 1687.2,35.6" fill="#910c0c" stroke="#4e0606" stroke-width="1.8" stroke-linejoin="round"/><polygon points="1452.1,62.5 1468.1,56.7 1448.0,60.2 1432.0,66.0" fill="#85320b" stroke="#481b06" stroke-width="1.8" stroke-linejoin="round"/><polygon points="1580.2,41.0 1596.0,37.0 1576.0,37.3 1560.2,41.2" fill="#8a0c0b" stroke="#4a0606" stroke-width="1.8" stroke-linejoin="round"/><polygon points="1671.6,38.2 1687.2,35.6 1667.3,33.3 1651.7,35.8" fill="#960c0c" stroke="#500606" stroke-width="1.8" stroke-linejoin="round"/><polygon points="1416.0,72.4 1432.0,66.0 1411.9,70.3 1395.9,76.7" fill="#88440b" stroke="#492406" stroke-width="1.8" stroke-linejoin="round"/><polygon points="1544.3,45.9 1560.2,41.2 1540.1,42.3 1524.2,46.9" fill="#8e140b" stroke="#4c0b06" stroke-width="1.8" stroke-linejoin="round"/><polygon points="1379.8,83.7 1395.9,76.7 1375.8,81.8 1359.7,88.7" fill="#86550b" stroke="#482e06" stroke-width="1.8" stroke-linejoin="round"/><polygon points="1636.0,39.2 1651.7,35.8 1631.8,34.4 1616.0,37.6" fill="#990c0c" stroke="#520707" stroke-width="1.8" stroke-linejoin="round"/><polygon points="1726.9,42.8 1742.4,40.9 1722.6,36.9 1707.1,38.7" fill="#a00e0d" stroke="#560707" stroke-width="1.8" stroke-linejoin="round"/><polygon points="1508.4,52.2 1524.2,46.9 1504.2,48.7 1488.2,54.0" fill="#911f0c" stroke="#4e1106" stroke-width="1.8" stroke-linejoin="round"/><polygon points="1472.3,60.0 1488.2,54.0 1468.1,56.7 1452.1,62.5" fill="#942d0c" stroke="#501806" stroke-width="1.8" stroke-linejoin="round"/><polygon points="1600.3,41.7 1616.0,37.6 1596.0,37.0 1580.2,41.0" fill="#9a0c0c" stroke="#530707" stroke-width="1.8" stroke-linejoin="round"/><polygon points="1691.5,41.4 1707.1,38.7 1687.2,35.6 1671.6,38.2" fill="#a40d0d" stroke="#580707" stroke-width="1.8" stroke-linejoin="round"/><polygon points="1436.2,69.1 1452.1,62.5 1432.0,66.0 1416.0,72.4" fill="#973f0c" stroke="#512206" stroke-width="1.8" stroke-linejoin="round"/><polygon points="1564.5,45.8 1580.2,41.0 1560.2,41.2 1544.3,45.9" fill="#9c100d" stroke="#540907" stroke-width="1.8" stroke-linejoin="round"/><polygon points="1400.0,79.6 1416.0,72.4 1395.9,76.7 1379.8,83.7" fill="#9a540c" stroke="#522d07" stroke-width="1.8" stroke-linejoin="round"/><polygon points="1656.0,41.6 1671.6,38.2 1651.7,35.8 1636.0,39.2" fill="#a80d0d" stroke="#5a0707" stroke-width="1.8" stroke-linejoin="round"/><polygon points="1746.7,47.8 1762.1,45.8 1742.4,40.9 1726.9,42.8" fill="#af150e" stroke="#5e0b08" stroke-width="1.8" stroke-linejoin="round"/><polygon points="1363.8,91.3 1379.8,83.7 1359.7,88.7 1343.7,96.2" fill="#94660c" stroke="#4f3706" stroke-width="1.8" stroke-linejoin="round"/><polygon points="1528.5,51.3 1544.3,45.9 1524.2,46.9 1508.4,52.2" fill="#a01b0d" stroke="#560e07" stroke-width="1.8" stroke-linejoin="round"/><polygon points="1620.4,43.4 1636.0,39.2 1616.0,37.6 1600.3,41.7" fill="#aa0e0e" stroke="#5b0707" stroke-width="1.8" stroke-linejoin="round"/><polygon points="1492.5,58.3 1508.4,52.2 1488.2,54.0 1472.3,60.0" fill="#a3280d" stroke="#571607" stroke-width="1.8" stroke-linejoin="round"/><polygon points="1711.5,45.6 1726.9,42.8 1707.1,38.7 1691.5,41.4" fill="#b20e0e" stroke="#5f0808" stroke-width="1.8" stroke-linejoin="round"/><polygon points="1456.4,66.6 1472.3,60.0 1452.1,62.5 1436.2,69.1" fill="#a63a0d" stroke="#591f07" stroke-width="1.8" stroke-linejoin="round"/><polygon points="1584.6,46.6 1600.3,41.7 1580.2,41.0 1564.5,45.8" fill="#ab0e0e" stroke="#5c0707" stroke-width="1.8" stroke-linejoin="round"/><polygon points="1766.5,53.7 1781.8,51.6 1762.1,45.8 1746.7,47.8" fill="#bf1f0f" stroke="#661108" stroke-width="1.8" stroke-linejoin="round"/><polygon points="1676.0,45.0 1691.5,41.4 1671.6,38.2 1656.0,41.6" fill="#b60f0f" stroke="#620808" stroke-width="1.8" stroke-linejoin="round"/><polygon points="1420.3,76.3 1436.2,69.1 1416.0,72.4 1400.0,79.6" fill="#a94f0d" stroke="#5a2a07" stroke-width="1.8" stroke-linejoin="round"/><polygon points="1548.7,51.4 1564.5,45.8 1544.3,45.9 1528.5,51.3" fill="#ae170e" stroke="#5d0c07" stroke-width="1.8" stroke-linejoin="round"/><polygon points="1384.1,87.3 1400.0,79.6 1379.8,83.7 1363.8,91.3" fill="#a7650d" stroke="#5a3607" stroke-width="1.8" stroke-linejoin="round"/><polygon points="1347.9,99.5 1363.8,91.3 1343.7,96.2 1327.6,104.3" fill="#a0790d" stroke="#564107" stroke-width="1.8" stroke-linejoin="round"/><polygon points="1640.4,45.9 1656.0,41.6 1636.0,39.2 1620.4,43.4" fill="#b90f0f" stroke="#630808" stroke-width="1.8" stroke-linejoin="round"/><polygon points="1731.3,50.6 1746.7,47.8 1726.9,42.8 1711.5,45.6" fill="#c1150f" stroke="#670b08" stroke-width="1.8" stroke-linejoin="round"/><polygon points="1512.7,57.5 1528.5,51.3 1508.4,52.2 1492.5,58.3" fill="#b1240e" stroke="#5f1308" stroke-width="1.8" stroke-linejoin="round"/><polygon points="1476.6,65.1 1492.5,58.3 1472.3,60.0 1456.4,66.6" fill="#b4340e" stroke="#611c08" stroke-width="1.8" stroke-linejoin="round"/><polygon points="1604.7,48.4 1620.4,43.4 1600.3,41.7 1584.6,46.6" fill="#ba0f0f" stroke="#640808" stroke-width="1.8" stroke-linejoin="round"/><polygon points="1786.3,60.5 1801.5,58.3 1781.8,51.6 1766.5,53.7" fill="#cf2d11" stroke="#6f1809" stroke-width="1.8" stroke-linejoin="round"/><polygon points="1696.0,49.2 1711.5,45.6 1691.5,41.4 1676.0,45.0" fill="#c31010" stroke="#690808" stroke-width="1.8" stroke-linejoin="round"/><polygon points="1440.5,74.0 1456.4,66.6 1436.2,69.1 1420.3,76.3" fill="#b7490f" stroke="#622708" stroke-width="1.8" stroke-linejoin="round"/><polygon points="1568.9,52.3 1584.6,46.6 1564.5,45.8 1548.7,51.4" fill="#bc150f" stroke="#650b08" stroke-width="1.8" stroke-linejoin="round"/><polygon points="1404.3,84.1 1420.3,76.3 1400.0,79.6 1384.1,87.3" fill="#b9610f" stroke="#633408" stroke-width="1.8" stroke-linejoin="round"/><polygon points="1660.5,49.3 1676.0,45.0 1656.0,41.6 1640.4,45.9" fill="#c61010" stroke="#6a0808" stroke-width="1.8" stroke-linejoin="round"/><polygon points="1751.2,56.6 1766.5,53.7 1746.7,47.8 1731.3,50.6" fill="#cc1f10" stroke="#6d1009" stroke-width="1.8" stroke-linejoin="round"/><polygon points="1368.1,95.6 1384.1,87.3 1363.8,91.3 1347.9,99.5" fill="#b3770e" stroke="#604008" stroke-width="1.8" stroke-linejoin="round"/><polygon points="1532.9,57.7 1548.7,51.4 1528.5,51.3 1512.7,57.5" fill="#bf200f" stroke="#661108" stroke-width="1.8" stroke-linejoin="round"/><polygon points="1331.9,108.2 1347.9,99.5 1327.6,104.3 1311.6,112.9" fill="#ab8d0e" stroke="#5c4c07" stroke-width="1.8" stroke-linejoin="round"/><polygon points="1624.8,51.0 1640.4,45.9 1620.4,43.4 1604.7,48.4" fill="#c61010" stroke="#6a0808" stroke-width="1.8" stroke-linejoin="round"/><polygon points="1806.0,68.2 1821.1,66.0 1801.5,58.3 1786.3,60.5" fill="#d73d11" stroke="#732109" stroke-width="1.8" stroke-linejoin="round"/><polygon points="1496.9,64.4 1512.7,57.5 1492.5,58.3 1476.6,65.1" fill="#c23010" stroke="#681a08" stroke-width="1.8" stroke-linejoin="round"/><polygon points="1715.9,54.4 1731.3,50.6 1711.5,45.6 1696.0,49.2" fill="#c81510" stroke="#6b0b09" stroke-width="1.8" stroke-linejoin="round"/><polygon points="1460.8,72.5 1476.6,65.1 1456.4,66.6 1440.5,74.0" fill="#c54410" stroke="#6a2408" stroke-width="1.8" stroke-linejoin="round"/><polygon points="1589.0,54.1 1604.7,48.4 1584.6,46.6 1568.9,52.3" fill="#c71410" stroke="#6b0b09" stroke-width="1.8" stroke-linejoin="round"/><polygon points="1424.6,81.9 1440.5,74.0 1420.3,76.3 1404.3,84.1" fill="#c75b10" stroke="#6b3109" stroke-width="1.8" stroke-linejoin="round"/><polygon points="1771.0,63.5 1786.3,60.5 1766.5,53.7 1751.2,56.6" fill="#d12b11" stroke="#701709" stroke-width="1.8" stroke-linejoin="round"/><polygon points="1680.5,53.7 1696.0,49.2 1676.0,45.0 1660.5,49.3" fill="#c61010" stroke="#6a0908" stroke-width="1.8" stroke-linejoin="round"/><polygon points="1553.1,58.7 1568.9,52.3 1548.7,51.4 1532.9,57.7" fill="#cc1e10" stroke="#6d1009" stroke-width="1.8" stroke-linejoin="round"/><polygon points="1388.4,92.6 1404.3,84.1 1384.1,87.3 1368.1,95.6" fill="#c67410" stroke="#6a3e08" stroke-width="1.8" stroke-linejoin="round"/><polygon points="1352.2,104.4 1368.1,95.6 1347.9,99.5 1331.9,108.2" fill="#be8b0f" stroke="#664b08" stroke-width="1.8" stroke-linejoin="round"/><polygon points="1825.6,76.8 1840.7,74.5 1821.1,66.0 1806.0,68.2" fill="#de4f12" stroke="#772b0a" stroke-width="1.8" stroke-linejoin="round"/><polygon points="1644.9,54.5 1660.5,49.3 1640.4,45.9 1624.8,51.0" fill="#c61010" stroke="#6a0908" stroke-width="1.8" stroke-linejoin="round"/><polygon points="1517.2,64.7 1532.9,57.7 1512.7,57.5 1496.9,64.4" fill="#d02c11" stroke="#6f1809" stroke-width="1.8" stroke-linejoin="round"/><polygon points="1735.9,60.4 1751.2,56.6 1731.3,50.6 1715.9,54.4" fill="#cc1e10" stroke="#6d1009" stroke-width="1.8" stroke-linejoin="round"/><polygon points="1316.0,117.4 1331.9,108.2 1311.6,112.9 1295.6,122.0" fill="#b5a20e" stroke="#615708" stroke-width="1.8" stroke-linejoin="round"/><polygon points="1481.1,72.0 1496.9,64.4 1476.6,65.1 1460.8,72.5" fill="#d23f11" stroke="#712209" stroke-width="1.8" stroke-linejoin="round"/><polygon points="1609.2,56.9 1624.8,51.0 1604.7,48.4 1589.0,54.1" fill="#c71410" stroke="#6b0b09" stroke-width="1.8" stroke-linejoin="round"/><polygon points="1790.8,71.3 1806.0,68.2 1786.3,60.5 1771.0,63.5" fill="#d63a11" stroke="#731f09" stroke-width="1.8" stroke-linejoin="round"/><polygon points="1700.5,58.9 1715.9,54.4 1696.0,49.2 1680.5,53.7" fill="#c91710" stroke="#6c0c09" stroke-width="1.8" stroke-linejoin="round"/><polygon points="1445.0,80.6 1460.8,72.5 1440.5,74.0 1424.6,81.9" fill="#d55611" stroke="#722e09" stroke-width="1.8" stroke-linejoin="round"/><polygon points="1573.4,60.6 1589.0,54.1 1568.9,52.3 1553.1,58.7" fill="#cb1c10" stroke="#6d0f09" stroke-width="1.8" stroke-linejoin="round"/><polygon points="1408.8,90.4 1424.6,81.9 1404.3,84.1 1388.4,92.6" fill="#d77011" stroke="#733c09" stroke-width="1.8" stroke-linejoin="round"/><polygon points="1845.3,86.3 1860.3,83.9 1840.7,74.5 1825.6,76.8" fill="#e56612" stroke="#7b370a" stroke-width="1.8" stroke-linejoin="round"/><polygon points="1665.0,59.0 1680.5,53.7 1660.5,49.3 1644.9,54.5" fill="#c81410" stroke="#6b0b09" stroke-width="1.8" stroke-linejoin="round"/><polygon points="1755.7,67.4 1771.0,63.5 1751.2,56.6 1735.9,60.4" fill="#d12a11" stroke="#701709" stroke-width="1.8" stroke-linejoin="round"/><polygon points="1372.6,101.5 1388.4,92.6 1368.1,95.6 1352.2,104.4" fill="#d08911" stroke="#704909" stroke-width="1.8" stroke-linejoin="round"/><polygon points="1537.4,65.8 1553.1,58.7 1532.9,57.7 1517.2,64.7" fill="#d02811" stroke="#6f1509" stroke-width="1.8" stroke-linejoin="round"/><polygon points="1336.3,113.8 1352.2,104.4 1331.9,108.2 1316.0,117.4" fill="#c7a110" stroke="#6b5609" stroke-width="1.8" stroke-linejoin="round"/><polygon points="1300.0,127.1 1316.0,117.4 1295.6,122.0 1279.7,131.6" fill="#bdb80f" stroke="#656308" stroke-width="1.8" stroke-linejoin="round"/><polygon points="1629.4,60.5 1644.9,54.5 1624.8,51.0 1609.2,56.9" fill="#c81610" stroke="#6b0c09" stroke-width="1.8" stroke-linejoin="round"/><polygon points="1501.4,72.3 1517.2,64.7 1496.9,64.4 1481.1,72.0" fill="#d63911" stroke="#731f09" stroke-width="1.8" stroke-linejoin="round"/><polygon points="1810.5,80.0 1825.6,76.8 1806.0,68.2 1790.8,71.3" fill="#dd4c12" stroke="#762909" stroke-width="1.8" stroke-linejoin="round"/><polygon points="1720.5,65.1 1735.9,60.4 1715.9,54.4 1700.5,58.9" fill="#cd2110" stroke="#6e1109" stroke-width="1.8" stroke-linejoin="round"/><polygon points="1465.3,80.1 1481.1,72.0 1460.8,72.5 1445.0,80.6" fill="#de5012" stroke="#772b0a" stroke-width="1.8" stroke-linejoin="round"/><polygon points="1593.6,63.5 1609.2,56.9 1589.0,54.1 1573.4,60.6" fill="#cb1c10" stroke="#6d0f09" stroke-width="1.8" stroke-linejoin="round"/><polygon points="1864.8,96.7 1879.8,94.3 1860.3,83.9 1845.3,86.3" fill="#ed8013" stroke="#7f450a" stroke-width="1.8" stroke-linejoin="round"/><polygon points="1429.2,89.2 1445.0,80.6 1424.6,81.9 1408.8,90.4" fill="#e56b12" stroke="#7b390a" stroke-width="1.8" stroke-linejoin="round"/><polygon points="1685.1,64.3 1700.5,58.9 1680.5,53.7 1665.0,59.0" fill="#cb1b10" stroke="#6d0f09" stroke-width="1.8" stroke-linejoin="round"/><polygon points="1775.6,75.3 1790.8,71.3 1771.0,63.5 1755.7,67.4" fill="#d63a11" stroke="#731f09" stroke-width="1.8" stroke-linejoin="round"/><polygon points="1557.7,67.8 1573.4,60.6 1553.1,58.7 1537.4,65.8" fill="#cf2511" stroke="#6f1409" stroke-width="1.8" stroke-linejoin="round"/><polygon points="1393.0,99.5 1408.8,90.4 1388.4,92.6 1372.6,101.5" fill="#e28612" stroke="#79480a" stroke-width="1.8" stroke-linejoin="round"/><polygon points="1356.7,111.0 1372.6,101.5 1352.2,104.4 1336.3,113.8" fill="#d99f11" stroke="#745509" stroke-width="1.8" stroke-linejoin="round"/><polygon points="1830.2,89.6 1845.3,86.3 1825.6,76.8 1810.5,80.0" fill="#e46212" stroke="#7a350a" stroke-width="1.8" stroke-linejoin="round"/><polygon points="1649.5,65.0 1665.0,59.0 1644.9,54.5 1629.4,60.5" fill="#ca1b10" stroke="#6c0e09" stroke-width="1.8" stroke-linejoin="round"/><polygon points="1521.8,73.5 1537.4,65.8 1517.2,64.7 1501.4,72.3" fill="#d43411" stroke="#721c09" stroke-width="1.8" stroke-linejoin="round"/><polygon points="1320.4,123.6 1336.3,113.8 1316.0,117.4 1300.0,127.1" fill="#cfb811" stroke="#6f6309" stroke-width="1.8" stroke-linejoin="round"/><polygon points="1740.5,72.1 1755.7,67.4 1735.9,60.4 1720.5,65.1" fill="#d12d11" stroke="#701809" stroke-width="1.8" stroke-linejoin="round"/><polygon points="1284.2,137.2 1300.0,127.1 1279.7,131.6 1263.8,141.6" fill="#b8c410" stroke="#636908" stroke-width="1.8" stroke-linejoin="round"/><polygon points="1884.4,108.1 1899.2,105.6 1879.8,94.3 1864.8,96.7" fill="#ed9a13" stroke="#7f520a" stroke-width="1.8" stroke-linejoin="round"/><polygon points="1485.7,80.6 1501.4,72.3 1481.1,72.0 1465.3,80.1" fill="#db4712" stroke="#752609" stroke-width="1.8" stroke-linejoin="round"/><polygon points="1613.8,67.2 1629.4,60.5 1609.2,56.9 1593.6,63.5" fill="#cc1e10" stroke="#6d1009" stroke-width="1.8" stroke-linejoin="round"/><polygon points="1795.4,84.0 1810.5,80.0 1790.8,71.3 1775.6,75.3" fill="#dd4c12" stroke="#762909" stroke-width="1.8" stroke-linejoin="round"/><polygon points="1705.1,70.5 1720.5,65.1 1700.5,58.9 1685.1,64.3" fill="#ce2511" stroke="#6f1409" stroke-width="1.8" stroke-linejoin="round"/><polygon points="1449.6,88.9 1465.3,80.1 1445.0,80.6 1429.2,89.2" fill="#e36112" stroke="#7a340a" stroke-width="1.8" stroke-linejoin="round"/><polygon points="1578.0,70.7 1593.6,63.5 1573.4,60.6 1557.7,67.8" fill="#cf2611" stroke="#6f1409" stroke-width="1.8" stroke-linejoin="round"/><polygon points="1413.4,98.4 1429.2,89.2 1408.8,90.4 1393.0,99.5" fill="#ed8013" stroke="#7f450a" stroke-width="1.8" stroke-linejoin="round"/><polygon points="1849.9,100.1 1864.8,96.7 1845.3,86.3 1830.2,89.6" fill="#ec7d13" stroke="#7f430a" stroke-width="1.8" stroke-linejoin="round"/><polygon points="1669.7,70.5 1685.1,64.3 1665.0,59.0 1649.5,65.0" fill="#cd2210" stroke="#6e1209" stroke-width="1.8" stroke-linejoin="round"/><polygon points="1377.2,109.1 1393.0,99.5 1372.6,101.5 1356.7,111.0" fill="#eb9d13" stroke="#7e540a" stroke-width="1.8" stroke-linejoin="round"/><polygon points="1760.4,80.1 1775.6,75.3 1755.7,67.4 1740.5,72.1" fill="#d73c11" stroke="#732009" stroke-width="1.8" stroke-linejoin="round"/><polygon points="1542.1,75.7 1557.7,67.8 1537.4,65.8 1521.8,73.5" fill="#d33211" stroke="#711b09" stroke-width="1.8" stroke-linejoin="round"/><polygon points="1340.9,120.9 1356.7,111.0 1336.3,113.8 1320.4,123.6" fill="#e0b712" stroke="#78620a" stroke-width="1.8" stroke-linejoin="round"/><polygon points="1304.6,133.8 1320.4,123.6 1300.0,127.1 1284.2,137.2" fill="#d5d011" stroke="#726f09" stroke-width="1.8" stroke-linejoin="round"/><polygon points="1506.1,81.9 1521.8,73.5 1501.4,72.3 1485.7,80.6" fill="#d94211" stroke="#742409" stroke-width="1.8" stroke-linejoin="round"/><polygon points="1634.1,71.8 1649.5,65.0 1629.4,60.5 1613.8,67.2" fill="#ce2310" stroke="#6e1309" stroke-width="1.8" stroke-linejoin="round"/><polygon points="1268.3,147.7 1284.2,137.2 1263.8,141.6 1247.9,151.9" fill="#acc910" stroke="#5c6c09" stroke-width="1.8" stroke-linejoin="round"/><polygon points="1815.2,93.7 1830.2,89.6 1810.5,80.0 1795.4,84.0" fill="#e46212" stroke="#7a340a" stroke-width="1.8" stroke-linejoin="round"/><polygon points="1725.2,77.7 1740.5,72.1 1720.5,65.1 1705.1,70.5" fill="#d33111" stroke="#711a09" stroke-width="1.8" stroke-linejoin="round"/><polygon points="1470.0,89.4 1485.7,80.6 1465.3,80.1 1449.6,88.9" fill="#e15812" stroke="#782f0a" stroke-width="1.8" stroke-linejoin="round"/><polygon points="1598.3,74.6 1613.8,67.2 1593.6,63.5 1578.0,70.7" fill="#d02811" stroke="#6f1509" stroke-width="1.8" stroke-linejoin="round"/><polygon points="1869.5,111.5 1884.4,108.1 1864.8,96.7 1849.9,100.1" fill="#ed9613" stroke="#7f510a" stroke-width="1.8" stroke-linejoin="round"/><polygon points="1433.8,98.1 1449.6,88.9 1429.2,89.2 1413.4,98.4" fill="#ea7413" stroke="#7d3e0a" stroke-width="1.8" stroke-linejoin="round"/><polygon points="1689.8,76.8 1705.1,70.5 1685.1,64.3 1669.7,70.5" fill="#d12b11" stroke="#701709" stroke-width="1.8" stroke-linejoin="round"/><polygon points="1780.3,89.0 1795.4,84.0 1775.6,75.3 1760.4,80.1" fill="#dd4e12" stroke="#772a09" stroke-width="1.8" stroke-linejoin="round"/><polygon points="1397.6,108.0 1413.4,98.4 1393.0,99.5 1377.2,109.1" fill="#ed9213" stroke="#7f4e0a" stroke-width="1.8" stroke-linejoin="round"/><polygon points="1562.4,78.7 1578.0,70.7 1557.7,67.8 1542.1,75.7" fill="#d33211" stroke="#711b09" stroke-width="1.8" stroke-linejoin="round"/><polygon points="1361.4,119.1 1377.2,109.1 1356.7,111.0 1340.9,120.9" fill="#edb213" stroke="#7f5f0a" stroke-width="1.8" stroke-linejoin="round"/><polygon points="1654.2,77.3 1669.7,70.5 1649.5,65.0 1634.1,71.8" fill="#d02a11" stroke="#701709" stroke-width="1.8" stroke-linejoin="round"/><polygon points="1834.9,104.3 1849.9,100.1 1830.2,89.6 1815.2,93.7" fill="#ec7c13" stroke="#7f420a" stroke-width="1.8" stroke-linejoin="round"/><polygon points="1526.5,84.1 1542.1,75.7 1521.8,73.5 1506.1,81.9" fill="#d84011" stroke="#742209" stroke-width="1.8" stroke-linejoin="round"/><polygon points="1325.1,131.2 1340.9,120.9 1320.4,123.6 1304.6,133.8" fill="#e6cf12" stroke="#7c6f0a" stroke-width="1.8" stroke-linejoin="round"/><polygon points="1745.2,85.7 1760.4,80.1 1740.5,72.1 1725.2,77.7" fill="#d94011" stroke="#742209" stroke-width="1.8" stroke-linejoin="round"/><polygon points="1288.8,144.4 1304.6,133.8 1284.2,137.2 1268.3,147.7" fill="#cddb11" stroke="#6e7509" stroke-width="1.8" stroke-linejoin="round"/><polygon points="1252.5,158.5 1268.3,147.7 1247.9,151.9 1232.0,162.6" fill="#9dce10" stroke="#546f09" stroke-width="1.8" stroke-linejoin="round"/><polygon points="1490.4,90.9 1506.1,81.9 1485.7,80.6 1470.0,89.4" fill="#df5312" stroke="#782c0a" stroke-width="1.8" stroke-linejoin="round"/><polygon points="1618.6,79.3 1634.1,71.8 1613.8,67.2 1598.3,74.6" fill="#d22d11" stroke="#701809" stroke-width="1.8" stroke-linejoin="round"/><polygon points="1800.1,98.7 1815.2,93.7 1795.4,84.0 1780.3,89.0" fill="#e56412" stroke="#7b360a" stroke-width="1.8" stroke-linejoin="round"/><polygon points="1709.9,84.0 1725.2,77.7 1705.1,70.5 1689.8,76.8" fill="#d53811" stroke="#721e09" stroke-width="1.8" stroke-linejoin="round"/><polygon points="1454.3,98.8 1470.0,89.4 1449.6,88.9 1433.8,98.1" fill="#e76b12" stroke="#7c3a0a" stroke-width="1.8" stroke-linejoin="round"/><polygon points="1582.8,82.6 1598.3,74.6 1578.0,70.7 1562.4,78.7" fill="#d43411" stroke="#721c09" stroke-width="1.8" stroke-linejoin="round"/><polygon points="1418.1,107.9 1433.8,98.1 1413.4,98.4 1397.6,108.0" fill="#ed8813" stroke="#7f490a" stroke-width="1.8" stroke-linejoin="round"/><polygon points="1854.6,115.8 1869.5,111.5 1849.9,100.1 1834.9,104.3" fill="#ed9613" stroke="#7f500a" stroke-width="1.8" stroke-linejoin="round"/><polygon points="1381.9,118.2 1397.6,108.0 1377.2,109.1 1361.4,119.1" fill="#eda613" stroke="#7f590a" stroke-width="1.8" stroke-linejoin="round"/><polygon points="1674.4,83.8 1689.8,76.8 1669.7,70.5 1654.2,77.3" fill="#d43411" stroke="#721c09" stroke-width="1.8" stroke-linejoin="round"/><polygon points="1765.1,94.7 1780.3,89.0 1760.4,80.1 1745.2,85.7" fill="#df5312" stroke="#782c0a" stroke-width="1.8" stroke-linejoin="round"/><polygon points="1546.9,87.3 1562.4,78.7 1542.1,75.7 1526.5,84.1" fill="#d84011" stroke="#742209" stroke-width="1.8" stroke-linejoin="round"/><polygon points="1345.6,129.5 1361.4,119.1 1340.9,120.9 1325.1,131.2" fill="#edc613" stroke="#7f6a0a" stroke-width="1.8" stroke-linejoin="round"/><polygon points="1309.3,141.9 1325.1,131.2 1304.6,133.8 1288.8,144.4" fill="#ebe813" stroke="#7e7d0a" stroke-width="1.8" stroke-linejoin="round"/><polygon points="1510.9,93.2 1526.5,84.1 1506.1,81.9 1490.4,90.9" fill="#de5012" stroke="#772b0a" stroke-width="1.8" stroke-linejoin="round"/><polygon points="1273.0,155.3 1288.8,144.4 1268.3,147.7 1252.5,158.5" fill="#bddf12" stroke="#65770a" stroke-width="1.8" stroke-linejoin="round"/><polygon points="1638.8,84.9 1654.2,77.3 1634.1,71.8 1618.6,79.3" fill="#d43511" stroke="#721c09" stroke-width="1.8" stroke-linejoin="round"/><polygon points="1236.7,169.6 1252.5,158.5 1232.0,162.6 1216.1,173.6" fill="#8cd211" stroke="#4b7009" stroke-width="1.8" stroke-linejoin="round"/><polygon points="1819.9,109.4 1834.9,104.3 1815.2,93.7 1800.1,98.7" fill="#ed7e13" stroke="#7f440a" stroke-width="1.8" stroke-linejoin="round"/><polygon points="1729.9,92.2 1745.2,85.7 1725.2,77.7 1709.9,84.0" fill="#db4712" stroke="#752609" stroke-width="1.8" stroke-linejoin="round"/><polygon points="1474.8,100.4 1490.4,90.9 1470.0,89.4 1454.3,98.8" fill="#e56612" stroke="#7b370a" stroke-width="1.8" stroke-linejoin="round"/><polygon points="1603.1,87.5 1618.6,79.3 1598.3,74.6 1582.8,82.6" fill="#d63a11" stroke="#731f09" stroke-width="1.8" stroke-linejoin="round"/><polygon points="1438.6,108.7 1454.3,98.8 1433.8,98.1 1418.1,107.9" fill="#ed8113" stroke="#7f450a" stroke-width="1.8" stroke-linejoin="round"/><polygon points="1694.6,91.1 1709.9,84.0 1689.8,76.8 1674.4,83.8" fill="#d94111" stroke="#742309" stroke-width="1.8" stroke-linejoin="round"/><polygon points="1785.0,104.5 1800.1,98.7 1780.3,89.0 1765.1,94.7" fill="#e66912" stroke="#7b380a" stroke-width="1.8" stroke-linejoin="round"/><polygon points="1402.4,118.2 1418.1,107.9 1397.6,108.0 1381.9,118.2" fill="#ed9c13" stroke="#7f530a" stroke-width="1.8" stroke-linejoin="round"/><polygon points="1567.3,91.3 1582.8,82.6 1562.4,78.7 1546.9,87.3" fill="#d94311" stroke="#752409" stroke-width="1.8" stroke-linejoin="round"/><polygon points="1366.2,128.7 1381.9,118.2 1361.4,119.1 1345.6,129.5" fill="#edba13" stroke="#7f640a" stroke-width="1.8" stroke-linejoin="round"/><polygon points="1659.1,91.4 1674.4,83.8 1654.2,77.3 1638.8,84.9" fill="#d83f11" stroke="#742209" stroke-width="1.8" stroke-linejoin="round"/><polygon points="1329.9,140.3 1345.6,129.5 1325.1,131.2 1309.3,141.9" fill="#eddb13" stroke="#7f760a" stroke-width="1.8" stroke-linejoin="round"/><polygon points="1531.3,96.4 1546.9,87.3 1526.5,84.1 1510.9,93.2" fill="#de5112" stroke="#772b0a" stroke-width="1.8" stroke-linejoin="round"/><polygon points="1839.6,120.9 1854.6,115.8 1834.9,104.3 1819.9,109.4" fill="#ed9813" stroke="#7f510a" stroke-width="1.8" stroke-linejoin="round"/><polygon points="1749.9,101.2 1765.1,94.7 1745.2,85.7 1729.9,92.2" fill="#e15a12" stroke="#79300a" stroke-width="1.8" stroke-linejoin="round"/><polygon points="1293.6,152.9 1309.3,141.9 1288.8,144.4 1273.0,155.3" fill="#dbed13" stroke="#757f0a" stroke-width="1.8" stroke-linejoin="round"/><polygon points="1257.2,166.4 1273.0,155.3 1252.5,158.5 1236.7,169.6" fill="#aae212" stroke="#5b790a" stroke-width="1.8" stroke-linejoin="round"/><polygon points="1220.9,180.9 1236.7,169.6 1216.1,173.6 1200.3,184.8" fill="#7ad511" stroke="#427209" stroke-width="1.8" stroke-linejoin="round"/><polygon points="1495.3,102.8 1510.9,93.2 1490.4,90.9 1474.8,100.4" fill="#e46312" stroke="#7a350a" stroke-width="1.8" stroke-linejoin="round"/><polygon points="1623.4,93.2 1638.8,84.9 1618.6,79.3 1603.1,87.5" fill="#d94111" stroke="#742309" stroke-width="1.8" stroke-linejoin="round"/><polygon points="1459.2,110.3 1474.8,100.4 1454.3,98.8 1438.6,108.7" fill="#ec7b13" stroke="#7e420a" stroke-width="1.8" stroke-linejoin="round"/><polygon points="1714.7,99.3 1729.9,92.2 1709.9,84.0 1694.6,91.1" fill="#de5112" stroke="#772b0a" stroke-width="1.8" stroke-linejoin="round"/><polygon points="1804.9,115.3 1819.9,109.4 1800.1,98.7 1785.0,104.5" fill="#ed8313" stroke="#7f460a" stroke-width="1.8" stroke-linejoin="round"/><polygon points="1587.6,96.2 1603.1,87.5 1582.8,82.6 1567.3,91.3" fill="#db4812" stroke="#762709" stroke-width="1.8" stroke-linejoin="round"/><polygon points="1423.0,119.0 1438.6,108.7 1418.1,107.9 1402.4,118.2" fill="#ed9413" stroke="#7f4f0a" stroke-width="1.8" stroke-linejoin="round"/><polygon points="1386.8,128.8 1402.4,118.2 1381.9,118.2 1366.2,128.7" fill="#edb013" stroke="#7f5e0a" stroke-width="1.8" stroke-linejoin="round"/><polygon points="1679.3,98.9 1694.6,91.1 1674.4,83.8 1659.1,91.4" fill="#dd4c12" stroke="#762909" stroke-width="1.8" stroke-linejoin="round"/><polygon points="1551.8,100.6 1567.3,91.3 1546.9,87.3 1531.3,96.4" fill="#df5312" stroke="#782d0a" stroke-width="1.8" stroke-linejoin="round"/><polygon points="1769.9,111.1 1785.0,104.5 1765.1,94.7 1749.9,101.2" fill="#e97113" stroke="#7d3c0a" stroke-width="1.8" stroke-linejoin="round"/><polygon points="1350.5,139.6 1366.2,128.7 1345.6,129.5 1329.9,140.3" fill="#edcf13" stroke="#7f6f0a" stroke-width="1.8" stroke-linejoin="round"/><polygon points="1314.2,151.4 1329.9,140.3 1309.3,141.9 1293.6,152.9" fill="#eaed13" stroke="#7d7f0a" stroke-width="1.8" stroke-linejoin="round"/><polygon points="1515.8,106.1 1531.3,96.4 1510.9,93.2 1495.3,102.8" fill="#e46312" stroke="#7a350a" stroke-width="1.8" stroke-linejoin="round"/><polygon points="1277.8,164.2 1293.6,152.9 1273.0,155.3 1257.2,166.4" fill="#c4ed13" stroke="#697f0a" stroke-width="1.8" stroke-linejoin="round"/><polygon points="1643.7,99.8 1659.1,91.4 1638.8,84.9 1623.4,93.2" fill="#dd4c12" stroke="#762909" stroke-width="1.8" stroke-linejoin="round"/><polygon points="1241.5,177.9 1257.2,166.4 1236.7,169.6 1220.9,180.9" fill="#96e412" stroke="#517a0a" stroke-width="1.8" stroke-linejoin="round"/><polygon points="1205.1,192.4 1220.9,180.9 1200.3,184.8 1184.5,196.2" fill="#67d611" stroke="#377309" stroke-width="1.8" stroke-linejoin="round"/><polygon points="1824.7,126.9 1839.6,120.9 1819.9,109.4 1804.9,115.3" fill="#ed9c13" stroke="#7f530a" stroke-width="1.8" stroke-linejoin="round"/><polygon points="1734.8,108.4 1749.9,101.2 1729.9,92.2 1714.7,99.3" fill="#e56412" stroke="#7b350a" stroke-width="1.8" stroke-linejoin="round"/><polygon points="1479.7,112.9 1495.3,102.8 1474.8,100.4 1459.2,110.3" fill="#eb7813" stroke="#7e410a" stroke-width="1.8" stroke-linejoin="round"/><polygon points="1608.0,102.0 1623.4,93.2 1603.1,87.5 1587.6,96.2" fill="#de5012" stroke="#772b0a" stroke-width="1.8" stroke-linejoin="round"/><polygon points="1443.6,120.8 1459.2,110.3 1438.6,108.7 1423.0,119.0" fill="#ed8f13" stroke="#7f4d0a" stroke-width="1.8" stroke-linejoin="round"/><polygon points="1699.5,107.2 1714.7,99.3 1694.6,91.1 1679.3,98.9" fill="#e25c12" stroke="#79310a" stroke-width="1.8" stroke-linejoin="round"/><polygon points="1789.9,121.9 1804.9,115.3 1785.0,104.5 1769.9,111.1" fill="#ed8913" stroke="#7f4a0a" stroke-width="1.8" stroke-linejoin="round"/><polygon points="1407.4,129.8 1423.0,119.0 1402.4,118.2 1386.8,128.8" fill="#eda913" stroke="#7f5a0a" stroke-width="1.8" stroke-linejoin="round"/><polygon points="1572.2,105.6 1587.6,96.2 1567.3,91.3 1551.8,100.6" fill="#e15912" stroke="#79300a" stroke-width="1.8" stroke-linejoin="round"/><polygon points="1371.1,139.8 1386.8,128.8 1366.2,128.7 1350.5,139.6" fill="#edc513" stroke="#7f6a0a" stroke-width="1.8" stroke-linejoin="round"/><polygon points="1334.8,150.9 1350.5,139.6 1329.9,140.3 1314.2,151.4" fill="#ede513" stroke="#7f7b0a" stroke-width="1.8" stroke-linejoin="round"/><polygon points="1664.0,107.3 1679.3,98.9 1659.1,91.4 1643.7,99.8" fill="#e15912" stroke="#79300a" stroke-width="1.8" stroke-linejoin="round"/><polygon points="1536.3,110.4 1551.8,100.6 1531.3,96.4 1515.8,106.1" fill="#e56712" stroke="#7b370a" stroke-width="1.8" stroke-linejoin="round"/><polygon points="1298.5,162.8 1314.2,151.4 1293.6,152.9 1277.8,164.2" fill="#d3ed13" stroke="#717f0a" stroke-width="1.8" stroke-linejoin="round"/><polygon points="1754.8,118.4 1769.9,111.1 1749.9,101.2 1734.8,108.4" fill="#ec7b13" stroke="#7e420a" stroke-width="1.8" stroke-linejoin="round"/><polygon points="1262.1,175.7 1277.8,164.2 1257.2,166.4 1241.5,177.9" fill="#aeed13" stroke="#5d7f0a" stroke-width="1.8" stroke-linejoin="round"/><polygon points="1225.8,189.5 1241.5,177.9 1220.9,180.9 1205.1,192.4" fill="#81e612" stroke="#457b0a" stroke-width="1.8" stroke-linejoin="round"/><polygon points="1500.3,116.3 1515.8,106.1 1495.3,102.8 1479.7,112.9" fill="#eb7913" stroke="#7e410a" stroke-width="1.8" stroke-linejoin="round"/><polygon points="1628.4,108.7 1643.7,99.8 1623.4,93.2 1608.0,102.0" fill="#e25b12" stroke="#79310a" stroke-width="1.8" stroke-linejoin="round"/><polygon points="1464.2,123.4 1479.7,112.9 1459.2,110.3 1443.6,120.8" fill="#ed8d13" stroke="#7f4c0a" stroke-width="1.8" stroke-linejoin="round"/><polygon points="1719.6,116.4 1734.8,108.4 1714.7,99.3 1699.5,107.2" fill="#e87013" stroke="#7d3c0a" stroke-width="1.8" stroke-linejoin="round"/><polygon points="1809.7,133.7 1824.7,126.9 1804.9,115.3 1789.9,121.9" fill="#eda213" stroke="#7f570a" stroke-width="1.8" stroke-linejoin="round"/><polygon points="1592.6,111.5 1608.0,102.0 1587.6,96.2 1572.2,105.6" fill="#e46212" stroke="#7a340a" stroke-width="1.8" stroke-linejoin="round"/><polygon points="1428.0,131.6 1443.6,120.8 1423.0,119.0 1407.4,129.8" fill="#eda413" stroke="#7f580a" stroke-width="1.8" stroke-linejoin="round"/><polygon points="1391.8,140.9 1407.4,129.8 1386.8,128.8 1371.1,139.8" fill="#edbe13" stroke="#7f660a" stroke-width="1.8" stroke-linejoin="round"/><polygon points="1684.2,115.7 1699.5,107.2 1679.3,98.9 1664.0,107.3" fill="#e76a12" stroke="#7c390a" stroke-width="1.8" stroke-linejoin="round"/><polygon points="1556.8,115.5 1572.2,105.6 1551.8,100.6 1536.3,110.4" fill="#e76c13" stroke="#7c3a0a" stroke-width="1.8" stroke-linejoin="round"/><polygon points="1774.8,129.3 1789.9,121.9 1769.9,111.1 1754.8,118.4" fill="#ed9213" stroke="#7f4e0a" stroke-width="1.8" stroke-linejoin="round"/><polygon points="1355.5,151.2 1371.1,139.8 1350.5,139.6 1334.8,150.9" fill="#eddb13" stroke="#7f760a" stroke-width="1.8" stroke-linejoin="round"/><polygon points="1319.2,162.4 1334.8,150.9 1314.2,151.4 1298.5,162.8" fill="#dfed13" stroke="#787f0a" stroke-width="1.8" stroke-linejoin="round"/><polygon points="1282.8,174.5 1298.5,162.8 1277.8,164.2 1262.1,175.7" fill="#bced13" stroke="#657f0a" stroke-width="1.8" stroke-linejoin="round"/><polygon points="1520.8,120.7 1536.3,110.4 1515.8,106.1 1500.3,116.3" fill="#ec7c13" stroke="#7f420a" stroke-width="1.8" stroke-linejoin="round"/><polygon points="1648.7,116.3 1664.0,107.3 1643.7,99.8 1628.4,108.7" fill="#e66912" stroke="#7b380a" stroke-width="1.8" stroke-linejoin="round"/><polygon points="1246.5,187.4 1262.1,175.7 1241.5,177.9 1225.8,189.5" fill="#97ed13" stroke="#517f0a" stroke-width="1.8" stroke-linejoin="round"/><polygon points="1739.7,126.5 1754.8,118.4 1734.8,108.4 1719.6,116.4" fill="#ed8613" stroke="#7f480a" stroke-width="1.8" stroke-linejoin="round"/><polygon points="1484.8,127.0 1500.3,116.3 1479.7,112.9 1464.2,123.4" fill="#ed8d13" stroke="#7f4c0a" stroke-width="1.8" stroke-linejoin="round"/><polygon points="1613.0,118.3 1628.4,108.7 1608.0,102.0 1592.6,111.5" fill="#e76d13" stroke="#7c3a0a" stroke-width="1.8" stroke-linejoin="round"/><polygon points="1448.6,134.4 1464.2,123.4 1443.6,120.8 1428.0,131.6" fill="#eda213" stroke="#7f570a" stroke-width="1.8" stroke-linejoin="round"/><polygon points="1704.4,125.0 1719.6,116.4 1699.5,107.2 1684.2,115.7" fill="#ed7e13" stroke="#7f440a" stroke-width="1.8" stroke-linejoin="round"/><polygon points="1412.4,142.9 1428.0,131.6 1407.4,129.8 1391.8,140.9" fill="#edb913" stroke="#7f630a" stroke-width="1.8" stroke-linejoin="round"/><polygon points="1794.8,141.1 1809.7,133.7 1789.9,121.9 1774.8,129.3" fill="#edaa13" stroke="#7f5b0a" stroke-width="1.8" stroke-linejoin="round"/><polygon points="1577.2,121.5 1592.6,111.5 1572.2,105.6 1556.8,115.5" fill="#ea7513" stroke="#7d3f0a" stroke-width="1.8" stroke-linejoin="round"/><polygon points="1376.2,152.3 1391.8,140.9 1371.1,139.8 1355.5,151.2" fill="#edd413" stroke="#7f720a" stroke-width="1.8" stroke-linejoin="round"/><polygon points="1339.9,162.8 1355.5,151.2 1334.8,150.9 1319.2,162.4" fill="#e9ed13" stroke="#7d7f0a" stroke-width="1.8" stroke-linejoin="round"/><polygon points="1541.4,125.9 1556.8,115.5 1536.3,110.4 1520.8,120.7" fill="#ed8213" stroke="#7f460a" stroke-width="1.8" stroke-linejoin="round"/><polygon points="1669.0,124.8 1684.2,115.7 1664.0,107.3 1648.7,116.3" fill="#ec7b13" stroke="#7e420a" stroke-width="1.8" stroke-linejoin="round"/><polygon points="1303.6,174.1 1319.2,162.4 1298.5,162.8 1282.8,174.5" fill="#c9ed13" stroke="#6c7f0a" stroke-width="1.8" stroke-linejoin="round"/><polygon points="1759.8,137.4 1774.8,129.3 1754.8,118.4 1739.7,126.5" fill="#ed9c13" stroke="#7f540a" stroke-width="1.8" stroke-linejoin="round"/><polygon points="1267.2,186.3 1282.8,174.5 1262.1,175.7 1246.5,187.4" fill="#a5ed13" stroke="#597f0a" stroke-width="1.8" stroke-linejoin="round"/><polygon points="1505.4,131.4 1520.8,120.7 1500.3,116.3 1484.8,127.0" fill="#ed9013" stroke="#7f4d0a" stroke-width="1.8" stroke-linejoin="round"/><polygon points="1633.4,126.0 1648.7,116.3 1628.4,108.7 1613.0,118.3" fill="#ec7b13" stroke="#7f420a" stroke-width="1.8" stroke-linejoin="round"/><polygon points="1469.3,138.0 1484.8,127.0 1464.2,123.4 1448.6,134.4" fill="#eda213" stroke="#7f570a" stroke-width="1.8" stroke-linejoin="round"/><polygon points="1724.6,135.1 1739.7,126.5 1719.6,116.4 1704.4,125.0" fill="#ed9213" stroke="#7f4e0a" stroke-width="1.8" stroke-linejoin="round"/><polygon points="1597.7,128.4 1613.0,118.3 1592.6,111.5 1577.2,121.5" fill="#ed8113" stroke="#7f450a" stroke-width="1.8" stroke-linejoin="round"/><polygon points="1433.1,145.7 1448.6,134.4 1428.0,131.6 1412.4,142.9" fill="#edb713" stroke="#7f620a" stroke-width="1.8" stroke-linejoin="round"/><polygon points="1396.9,154.4 1412.4,142.9 1391.8,140.9 1376.2,152.3" fill="#edcf13" stroke="#7f6f0a" stroke-width="1.8" stroke-linejoin="round"/><polygon points="1689.3,134.2 1704.4,125.0 1684.2,115.7 1669.0,124.8" fill="#ed8d13" stroke="#7f4b0a" stroke-width="1.8" stroke-linejoin="round"/><polygon points="1561.9,132.0 1577.2,121.5 1556.8,115.5 1541.4,125.9" fill="#ed8913" stroke="#7f4a0a" stroke-width="1.8" stroke-linejoin="round"/><polygon points="1360.6,164.1 1376.2,152.3 1355.5,151.2 1339.9,162.8" fill="#edeb13" stroke="#7f7e0a" stroke-width="1.8" stroke-linejoin="round"/><polygon points="1779.8,149.3 1794.8,141.1 1774.8,129.3 1759.8,137.4" fill="#edb413" stroke="#7f610a" stroke-width="1.8" stroke-linejoin="round"/><polygon points="1324.3,174.6 1339.9,162.8 1319.2,162.4 1303.6,174.1" fill="#d2ed13" stroke="#717f0a" stroke-width="1.8" stroke-linejoin="round"/><polygon points="1288.0,186.0 1303.6,174.1 1282.8,174.5 1267.2,186.3" fill="#b1ed13" stroke="#5f7f0a" stroke-width="1.8" stroke-linejoin="round"/><polygon points="1526.0,136.7 1541.4,125.9 1520.8,120.7 1505.4,131.4" fill="#ed9513" stroke="#7f500a" stroke-width="1.8" stroke-linejoin="round"/><polygon points="1653.8,134.5 1669.0,124.8 1648.7,116.3 1633.4,126.0" fill="#ed8b13" stroke="#7f4b0a" stroke-width="1.8" stroke-linejoin="round"/><polygon points="1744.7,146.2 1759.8,137.4 1739.7,126.5 1724.6,135.1" fill="#eda813" stroke="#7f5a0a" stroke-width="1.8" stroke-linejoin="round"/><polygon points="1489.9,142.6 1505.4,131.4 1484.8,127.0 1469.3,138.0" fill="#eda513" stroke="#7f580a" stroke-width="1.8" stroke-linejoin="round"/><polygon points="1618.2,136.1 1633.4,126.0 1613.0,118.3 1597.7,128.4" fill="#ed8d13" stroke="#7f4c0a" stroke-width="1.8" stroke-linejoin="round"/><polygon points="1453.8,149.5 1469.3,138.0 1448.6,134.4 1433.1,145.7" fill="#edb713" stroke="#7f620a" stroke-width="1.8" stroke-linejoin="round"/><polygon points="1709.5,144.5 1724.6,135.1 1704.4,125.0 1689.3,134.2" fill="#eda013" stroke="#7f560a" stroke-width="1.8" stroke-linejoin="round"/><polygon points="1417.7,157.4 1433.1,145.7 1412.4,142.9 1396.9,154.4" fill="#edcd13" stroke="#7f6e0a" stroke-width="1.8" stroke-linejoin="round"/><polygon points="1582.4,138.9 1597.7,128.4 1577.2,121.5 1561.9,132.0" fill="#ed9313" stroke="#7f4f0a" stroke-width="1.8" stroke-linejoin="round"/><polygon points="1381.4,166.2 1396.9,154.4 1376.2,152.3 1360.6,164.1" fill="#ede613" stroke="#7f7b0a" stroke-width="1.8" stroke-linejoin="round"/><polygon points="1345.1,176.0 1360.6,164.1 1339.9,162.8 1324.3,174.6" fill="#d9ed13" stroke="#747f0a" stroke-width="1.8" stroke-linejoin="round"/><polygon points="1546.5,142.9 1561.9,132.0 1541.4,125.9 1526.0,136.7" fill="#ed9d13" stroke="#7f540a" stroke-width="1.8" stroke-linejoin="round"/><polygon points="1674.1,144.0 1689.3,134.2 1669.0,124.8 1653.8,134.5" fill="#ed9c13" stroke="#7f540a" stroke-width="1.8" stroke-linejoin="round"/><polygon points="1308.8,186.6 1324.3,174.6 1303.6,174.1 1288.0,186.0" fill="#bbed13" stroke="#647f0a" stroke-width="1.8" stroke-linejoin="round"/><polygon points="1764.8,158.2 1779.8,149.3 1759.8,137.4 1744.7,146.2" fill="#edc013" stroke="#7f670a" stroke-width="1.8" stroke-linejoin="round"/><polygon points="1510.6,148.0 1526.0,136.7 1505.4,131.4 1489.9,142.6" fill="#edaa13" stroke="#7f5b0a" stroke-width="1.8" stroke-linejoin="round"/><polygon points="1638.6,144.8 1653.8,134.5 1633.4,126.0 1618.2,136.1" fill="#ed9c13" stroke="#7f540a" stroke-width="1.8" stroke-linejoin="round"/><polygon points="1474.5,154.1 1489.9,142.6 1469.3,138.0 1453.8,149.5" fill="#edba13" stroke="#7f640a" stroke-width="1.8" stroke-linejoin="round"/><polygon points="1729.7,155.6 1744.7,146.2 1724.6,135.1 1709.5,144.5" fill="#edb613" stroke="#7f620a" stroke-width="1.8" stroke-linejoin="round"/><polygon points="1438.4,161.2 1453.8,149.5 1433.1,145.7 1417.7,157.4" fill="#edcd13" stroke="#7f6e0a" stroke-width="1.8" stroke-linejoin="round"/><polygon points="1602.9,146.8 1618.2,136.1 1597.7,128.4 1582.4,138.9" fill="#eda013" stroke="#7f560a" stroke-width="1.8" stroke-linejoin="round"/><polygon points="1402.2,169.3 1417.7,157.4 1396.9,154.4 1381.4,166.2" fill="#ede413" stroke="#7f7a0a" stroke-width="1.8" stroke-linejoin="round"/><polygon points="1694.4,154.3 1709.5,144.5 1689.3,134.2 1674.1,144.0" fill="#edb013" stroke="#7f5e0a" stroke-width="1.8" stroke-linejoin="round"/><polygon points="1567.1,150.0 1582.4,138.9 1561.9,132.0 1546.5,142.9" fill="#eda713" stroke="#7f590a" stroke-width="1.8" stroke-linejoin="round"/><polygon points="1365.9,178.3 1381.4,166.2 1360.6,164.1 1345.1,176.0" fill="#deed13" stroke="#777f0a" stroke-width="1.8" stroke-linejoin="round"/><polygon points="1329.6,188.1 1345.1,176.0 1324.3,174.6 1308.8,186.6" fill="#c2ed13" stroke="#687f0a" stroke-width="1.8" stroke-linejoin="round"/><polygon points="1531.2,154.2 1546.5,142.9 1526.0,136.7 1510.6,148.0" fill="#edb113" stroke="#7f5f0a" stroke-width="1.8" stroke-linejoin="round"/><polygon points="1659.0,154.3 1674.1,144.0 1653.8,134.5 1638.6,144.8" fill="#edad13" stroke="#7f5d0a" stroke-width="1.8" stroke-linejoin="round"/><polygon points="1495.2,159.6 1510.6,148.0 1489.9,142.6 1474.5,154.1" fill="#edbf13" stroke="#7f660a" stroke-width="1.8" stroke-linejoin="round"/><polygon points="1749.9,167.6 1764.8,158.2 1744.7,146.2 1729.7,155.6" fill="#edce13" stroke="#7f6e0a" stroke-width="1.8" stroke-linejoin="round"/><polygon points="1623.4,155.6 1638.6,144.8 1618.2,136.1 1602.9,146.8" fill="#edae13" stroke="#7f5d0a" stroke-width="1.8" stroke-linejoin="round"/><polygon points="1459.1,165.9 1474.5,154.1 1453.8,149.5 1438.4,161.2" fill="#edd013" stroke="#7f700a" stroke-width="1.8" stroke-linejoin="round"/><polygon points="1423.0,173.2 1438.4,161.2 1417.7,157.4 1402.2,169.3" fill="#ede413" stroke="#7f7a0a" stroke-width="1.8" stroke-linejoin="round"/><polygon points="1714.7,165.6 1729.7,155.6 1709.5,144.5 1694.4,154.3" fill="#edc513" stroke="#7f6a0a" stroke-width="1.8" stroke-linejoin="round"/><polygon points="1587.7,157.9 1602.9,146.8 1582.4,138.9 1567.1,150.0" fill="#edb313" stroke="#7f600a" stroke-width="1.8" stroke-linejoin="round"/><polygon points="1386.8,181.4 1402.2,169.3 1381.4,166.2 1365.9,178.3" fill="#e0ed13" stroke="#787f0a" stroke-width="1.8" stroke-linejoin="round"/><polygon points="1350.5,190.5 1365.9,178.3 1345.1,176.0 1329.6,188.1" fill="#c7ed13" stroke="#6a7f0a" stroke-width="1.8" stroke-linejoin="round"/><polygon points="1551.9,161.4 1567.1,150.0 1546.5,142.9 1531.2,154.2" fill="#edbb13" stroke="#7f640a" stroke-width="1.8" stroke-linejoin="round"/><polygon points="1679.3,164.8 1694.4,154.3 1674.1,144.0 1659.0,154.3" fill="#edc013" stroke="#7f670a" stroke-width="1.8" stroke-linejoin="round"/><polygon points="1515.9,165.9 1531.2,154.2 1510.6,148.0 1495.2,159.6" fill="#edc713" stroke="#7f6a0a" stroke-width="1.8" stroke-linejoin="round"/><polygon points="1643.8,165.2 1659.0,154.3 1638.6,144.8 1623.4,155.6" fill="#edbf13" stroke="#7f660a" stroke-width="1.8" stroke-linejoin="round"/><polygon points="1479.9,171.5 1495.2,159.6 1474.5,154.1 1459.1,165.9" fill="#edd513" stroke="#7f720a" stroke-width="1.8" stroke-linejoin="round"/><polygon points="1734.9,177.6 1749.9,167.6 1729.7,155.6 1714.7,165.6" fill="#eddd13" stroke="#7f760a" stroke-width="1.8" stroke-linejoin="round"/><polygon points="1443.8,178.0 1459.1,165.9 1438.4,161.2 1423.0,173.2" fill="#ede713" stroke="#7f7c0a" stroke-width="1.8" stroke-linejoin="round"/><polygon points="1608.2,166.7 1623.4,155.6 1602.9,146.8 1587.7,157.9" fill="#edc113" stroke="#7f680a" stroke-width="1.8" stroke-linejoin="round"/><polygon points="1407.6,185.4 1423.0,173.2 1402.2,169.3 1386.8,181.4" fill="#e0ed13" stroke="#787f0a" stroke-width="1.8" stroke-linejoin="round"/><polygon points="1699.7,176.0 1714.7,165.6 1694.4,154.3 1679.3,164.8" fill="#edd613" stroke="#7f730a" stroke-width="1.8" stroke-linejoin="round"/><polygon points="1572.5,169.4 1587.7,157.9 1567.1,150.0 1551.9,161.4" fill="#edc713" stroke="#7f6b0a" stroke-width="1.8" stroke-linejoin="round"/><polygon points="1371.3,193.7 1386.8,181.4 1365.9,178.3 1350.5,190.5" fill="#c9ed13" stroke="#6c7f0a" stroke-width="1.8" stroke-linejoin="round"/><polygon points="1536.6,173.2 1551.9,161.4 1531.2,154.2 1515.9,165.9" fill="#edd013" stroke="#7f700a" stroke-width="1.8" stroke-linejoin="round"/><polygon points="1664.3,175.7 1679.3,164.8 1659.0,154.3 1643.8,165.2" fill="#edd213" stroke="#7f710a" stroke-width="1.8" stroke-linejoin="round"/><polygon points="1500.6,177.9 1515.9,165.9 1495.2,159.6 1479.9,171.5" fill="#eddc13" stroke="#7f760a" stroke-width="1.8" stroke-linejoin="round"/><polygon points="1628.7,176.4 1643.8,165.2 1623.4,155.6 1608.2,166.7" fill="#edd213" stroke="#7f710a" stroke-width="1.8" stroke-linejoin="round"/><polygon points="1464.6,183.7 1479.9,171.5 1459.1,165.9 1443.8,178.0" fill="#edec13" stroke="#7f7e0a" stroke-width="1.8" stroke-linejoin="round"/><polygon points="1428.4,190.3 1443.8,178.0 1423.0,173.2 1407.6,185.4" fill="#dded13" stroke="#777f0a" stroke-width="1.8" stroke-linejoin="round"/><polygon points="1719.9,188.2 1734.9,177.6 1714.7,165.6 1699.7,176.0" fill="#eded13" stroke="#7f7f0a" stroke-width="1.8" stroke-linejoin="round"/><polygon points="1593.1,178.3 1608.2,166.7 1587.7,157.9 1572.5,169.4" fill="#edd613" stroke="#7f720a" stroke-width="1.8" stroke-linejoin="round"/><polygon points="1392.2,197.8 1407.6,185.4 1386.8,181.4 1371.3,193.7" fill="#c9ed13" stroke="#6c7f0a" stroke-width="1.8" stroke-linejoin="round"/><polygon points="1557.3,181.3 1572.5,169.4 1551.9,161.4 1536.6,173.2" fill="#eddc13" stroke="#7f760a" stroke-width="1.8" stroke-linejoin="round"/><polygon points="1684.6,187.0 1699.7,176.0 1679.3,164.8 1664.3,175.7" fill="#ede713" stroke="#7f7c0a" stroke-width="1.8" stroke-linejoin="round"/><polygon points="1521.4,185.3 1536.6,173.2 1515.9,165.9 1500.6,177.9" fill="#ede613" stroke="#7f7b0a" stroke-width="1.8" stroke-linejoin="round"/><polygon points="1649.2,187.0 1664.3,175.7 1643.8,165.2 1628.7,176.4" fill="#ede513" stroke="#7f7b0a" stroke-width="1.8" stroke-linejoin="round"/><polygon points="1485.4,190.2 1500.6,177.9 1479.9,171.5 1464.6,183.7" fill="#e8ed13" stroke="#7c7f0a" stroke-width="1.8" stroke-linejoin="round"/><polygon points="1449.3,196.1 1464.6,183.7 1443.8,178.0 1428.4,190.3" fill="#d8ed13" stroke="#747f0a" stroke-width="1.8" stroke-linejoin="round"/><polygon points="1613.6,188.1 1628.7,176.4 1608.2,166.7 1593.1,178.3" fill="#ede613" stroke="#7f7b0a" stroke-width="1.8" stroke-linejoin="round"/><polygon points="1413.1,202.8 1428.4,190.3 1407.6,185.4 1392.2,197.8" fill="#c6ed13" stroke="#6a7f0a" stroke-width="1.8" stroke-linejoin="round"/><polygon points="1577.9,190.3 1593.1,178.3 1572.5,169.4 1557.3,181.3" fill="#edea13" stroke="#7f7e0a" stroke-width="1.8" stroke-linejoin="round"/><polygon points="1705.0,199.3 1719.9,188.2 1699.7,176.0 1684.6,187.0" fill="#dced13" stroke="#767f0a" stroke-width="1.8" stroke-linejoin="round"/><polygon points="1542.1,193.5 1557.3,181.3 1536.6,173.2 1521.4,185.3" fill="#e9ed13" stroke="#7d7f0a" stroke-width="1.8" stroke-linejoin="round"/><polygon points="1669.7,198.5 1684.6,187.0 1664.3,175.7 1649.2,187.0" fill="#e1ed13" stroke="#797f0a" stroke-width="1.8" stroke-linejoin="round"/><polygon points="1506.2,197.6 1521.4,185.3 1500.6,177.9 1485.4,190.2" fill="#dfed13" stroke="#777f0a" stroke-width="1.8" stroke-linejoin="round"/><polygon points="1634.2,198.8 1649.2,187.0 1628.7,176.4 1613.6,188.1" fill="#e2ed13" stroke="#797f0a" stroke-width="1.8" stroke-linejoin="round"/><polygon points="1470.1,202.7 1485.4,190.2 1464.6,183.7 1449.3,196.1" fill="#d1ed13" stroke="#707f0a" stroke-width="1.8" stroke-linejoin="round"/><polygon points="1434.0,208.6 1449.3,196.1 1428.4,190.3 1413.1,202.8" fill="#c1ed13" stroke="#687f0a" stroke-width="1.8" stroke-linejoin="round"/><polygon points="1598.5,200.1 1613.6,188.1 1593.1,178.3 1577.9,190.3" fill="#e0ed13" stroke="#787f0a" stroke-width="1.8" stroke-linejoin="round"/><polygon points="1562.8,202.5 1577.9,190.3 1557.3,181.3 1542.1,193.5" fill="#dbed13" stroke="#757f0a" stroke-width="1.8" stroke-linejoin="round"/><polygon points="1690.1,210.8 1705.0,199.3 1684.6,187.0 1669.7,198.5" fill="#caed13" stroke="#6c7f0a" stroke-width="1.8" stroke-linejoin="round"/><polygon points="1526.9,205.9 1542.1,193.5 1521.4,185.3 1506.2,197.6" fill="#d3ed13" stroke="#717f0a" stroke-width="1.8" stroke-linejoin="round"/><polygon points="1654.7,210.3 1669.7,198.5 1649.2,187.0 1634.2,198.8" fill="#cded13" stroke="#6e7f0a" stroke-width="1.8" stroke-linejoin="round"/><polygon points="1491.0,210.2 1506.2,197.6 1485.4,190.2 1470.1,202.7" fill="#c8ed13" stroke="#6b7f0a" stroke-width="1.8" stroke-linejoin="round"/><polygon points="1454.9,215.3 1470.1,202.7 1449.3,196.1 1434.0,208.6" fill="#baed13" stroke="#647f0a" stroke-width="1.8" stroke-linejoin="round"/><polygon points="1619.1,210.9 1634.2,198.8 1613.6,188.1 1598.5,200.1" fill="#ceed13" stroke="#6e7f0a" stroke-width="1.8" stroke-linejoin="round"/><polygon points="1583.5,212.5 1598.5,200.1 1577.9,190.3 1562.8,202.5" fill="#cbed13" stroke="#6d7f0a" stroke-width="1.8" stroke-linejoin="round"/><polygon points="1547.7,215.0 1562.8,202.5 1542.1,193.5 1526.9,205.9" fill="#c5ed13" stroke="#6a7f0a" stroke-width="1.8" stroke-linejoin="round"/><polygon points="1675.1,222.6 1690.1,210.8 1669.7,198.5 1654.7,210.3" fill="#b6ed13" stroke="#627f0a" stroke-width="1.8" stroke-linejoin="round"/><polygon points="1511.8,218.5 1526.9,205.9 1506.2,197.6 1491.0,210.2" fill="#bced13" stroke="#657f0a" stroke-width="1.8" stroke-linejoin="round"/><polygon points="1639.7,222.4 1654.7,210.3 1634.2,198.8 1619.1,210.9" fill="#b9ed13" stroke="#637f0a" stroke-width="1.8" stroke-linejoin="round"/><polygon points="1475.8,222.9 1491.0,210.2 1470.1,202.7 1454.9,215.3" fill="#b1ed13" stroke="#5f7f0a" stroke-width="1.8" stroke-linejoin="round"/><polygon points="1604.1,223.3 1619.1,210.9 1598.5,200.1 1583.5,212.5" fill="#b8ed13" stroke="#637f0a" stroke-width="1.8" stroke-linejoin="round"/><polygon points="1568.4,225.0 1583.5,212.5 1562.8,202.5 1547.7,215.0" fill="#b5ed13" stroke="#617f0a" stroke-width="1.8" stroke-linejoin="round"/><polygon points="1532.6,227.7 1547.7,215.0 1526.9,205.9 1511.8,218.5" fill="#afed13" stroke="#5e7f0a" stroke-width="1.8" stroke-linejoin="round"/><polygon points="1660.2,234.9 1675.1,222.6 1654.7,210.3 1639.7,222.4" fill="#a2ed13" stroke="#577f0a" stroke-width="1.8" stroke-linejoin="round"/><polygon points="1496.7,231.3 1511.8,218.5 1491.0,210.2 1475.8,222.9" fill="#a6ed13" stroke="#597f0a" stroke-width="1.8" stroke-linejoin="round"/><polygon points="1624.8,234.9 1639.7,222.4 1619.1,210.9 1604.1,223.3" fill="#a4ed13" stroke="#587f0a" stroke-width="1.8" stroke-linejoin="round"/><polygon points="1589.2,235.9 1604.1,223.3 1583.5,212.5 1568.4,225.0" fill="#a3ed13" stroke="#577f0a" stroke-width="1.8" stroke-linejoin="round"/><polygon points="1553.4,237.8 1568.4,225.0 1547.7,215.0 1532.6,227.7" fill="#9fed13" stroke="#557f0a" stroke-width="1.8" stroke-linejoin="round"/><polygon points="1517.6,240.6 1532.6,227.7 1511.8,218.5 1496.7,231.3" fill="#98ed13" stroke="#517f0a" stroke-width="1.8" stroke-linejoin="round"/><polygon points="1645.4,247.4 1660.2,234.9 1639.7,222.4 1624.8,234.9" fill="#8ded13" stroke="#4c7f0a" stroke-width="1.8" stroke-linejoin="round"/><polygon points="1609.8,247.6 1624.8,234.9 1604.1,223.3 1589.2,235.9" fill="#8eed13" stroke="#4c7f0a" stroke-width="1.8" stroke-linejoin="round"/><polygon points="1574.2,248.7 1589.2,235.9 1568.4,225.0 1553.4,237.8" fill="#8ded13" stroke="#4b7f0a" stroke-width="1.8" stroke-linejoin="round"/><polygon points="1538.4,250.7 1553.4,237.8 1532.6,227.7 1517.6,240.6" fill="#88ed13" stroke="#497f0a" stroke-width="1.8" stroke-linejoin="round"/><polygon points="1630.5,260.1 1645.4,247.4 1624.8,234.9 1609.8,247.6" fill="#78ed13" stroke="#407f0a" stroke-width="1.8" stroke-linejoin="round"/><polygon points="1594.9,260.5 1609.8,247.6 1589.2,235.9 1574.2,248.7" fill="#79ed13" stroke="#417f0a" stroke-width="1.8" stroke-linejoin="round"/><polygon points="1559.2,261.7 1574.2,248.7 1553.4,237.8 1538.4,250.7" fill="#76ed13" stroke="#407f0a" stroke-width="1.8" stroke-linejoin="round"/><polygon points="1615.6,273.1 1630.5,260.1 1609.8,247.6 1594.9,260.5" fill="#63ed13" stroke="#357f0a" stroke-width="1.8" stroke-linejoin="round"/><polygon points="1580.0,273.5 1594.9,260.5 1574.2,248.7 1559.2,261.7" fill="#63ed13" stroke="#357f0a" stroke-width="1.8" stroke-linejoin="round"/><polygon points="1600.8,286.2 1615.6,273.1 1594.9,260.5 1580.0,273.5" fill="#4ded13" stroke="#297f0a" stroke-width="1.8" stroke-linejoin="round"/></g>
<rect x="1541" y="51" width="10" height="16" fill="#7a0a0a"/><circle cx="1546.5" cy="76" r="11" fill="#8a1414"/><path d="M1539,71 A8,8 0 0 1 1554,71" fill="none" stroke="#e0b0b0" stroke-width="2"/>
<g><line x1="680.6" y1="1260.2" x2="994.6" y2="1165.6" stroke="#3a3a3a" stroke-width="1.25"/><line x1="994.6" y1="1165.6" x2="1378.8" y2="1235.6" stroke="#3a3a3a" stroke-width="1.25"/><line x1="678.1" y1="1187.4" x2="994.5" y2="1101.8" stroke="#3a3a3a" stroke-width="1.25"/><line x1="994.5" y1="1101.8" x2="1381.2" y2="1165.1" stroke="#3a3a3a" stroke-width="1.25"/><line x1="675.7" y1="1114.5" x2="994.3" y2="1038.0" stroke="#3a3a3a" stroke-width="1.25"/><line x1="994.3" y1="1038.0" x2="1383.7" y2="1094.5" stroke="#3a3a3a" stroke-width="1.25"/><line x1="673.3" y1="1041.6" x2="994.2" y2="974.1" stroke="#3a3a3a" stroke-width="1.25"/><line x1="994.2" y1="974.1" x2="1386.1" y2="1024.0" stroke="#3a3a3a" stroke-width="1.25"/><line x1="670.9" y1="968.7" x2="994.0" y2="910.3" stroke="#3a3a3a" stroke-width="1.25"/><line x1="994.0" y1="910.3" x2="1388.6" y2="953.5" stroke="#3a3a3a" stroke-width="1.25"/><line x1="668.5" y1="895.8" x2="993.8" y2="846.4" stroke="#3a3a3a" stroke-width="1.25"/><line x1="993.8" y1="846.4" x2="1391.0" y2="883.0" stroke="#3a3a3a" stroke-width="1.25"/><line x1="759.1" y1="1236.6" x2="749.8" y2="883.5" stroke="#3a3a3a" stroke-width="1.25"/><line x1="837.6" y1="1212.9" x2="831.2" y2="871.1" stroke="#3a3a3a" stroke-width="1.25"/><line x1="916.1" y1="1189.3" x2="912.5" y2="858.8" stroke="#3a3a3a" stroke-width="1.25"/><line x1="1302.0" y1="1221.6" x2="1311.6" y2="875.7" stroke="#3a3a3a" stroke-width="1.25"/><line x1="1225.1" y1="1207.6" x2="1232.1" y2="868.4" stroke="#3a3a3a" stroke-width="1.25"/><line x1="1148.3" y1="1193.6" x2="1152.7" y2="861.0" stroke="#3a3a3a" stroke-width="1.25"/><line x1="1071.5" y1="1179.6" x2="1073.3" y2="853.7" stroke="#3a3a3a" stroke-width="1.25"/><line x1="684.4" y1="1377.0" x2="668.5" y2="895.8" stroke="#3a3a3a" stroke-width="1.25"/><line x1="994.9" y1="1267.9" x2="993.8" y2="846.4" stroke="#3a3a3a" stroke-width="1.25"/><line x1="1374.9" y1="1348.6" x2="1391.0" y2="883.0" stroke="#3a3a3a" stroke-width="1.25"/></g>
<polygon points="1087.4,1484.1 1374.9,1348.6 994.9,1267.9 684.4,1377.0" fill="#fbfb00" stroke="#7a7a10" stroke-width="1.2"/>
<circle cx="1159.3" cy="1450.2" r="1.6" fill="#333"/><circle cx="1231.1" cy="1416.3" r="1.6" fill="#333"/><circle cx="1303.0" cy="1382.5" r="1.6" fill="#333"/><circle cx="1006.8" cy="1462.7" r="1.6" fill="#333"/><circle cx="926.2" cy="1441.3" r="1.6" fill="#333"/><circle cx="845.6" cy="1419.9" r="1.6" fill="#333"/><circle cx="765.0" cy="1398.4" r="1.6" fill="#333"/><circle cx="680.6" cy="1260.2" r="1.6" fill="#333"/><circle cx="678.1" cy="1187.4" r="1.6" fill="#333"/><circle cx="675.7" cy="1114.5" r="1.6" fill="#333"/><circle cx="673.3" cy="1041.6" r="1.6" fill="#333"/><circle cx="670.9" cy="968.7" r="1.6" fill="#333"/><circle cx="668.5" cy="895.8" r="1.6" fill="#333"/>
<path d="M1152.0,1453.6 L1146.3,1453.4 L1140.7,1453.2 L1135.1,1452.9 L1129.5,1452.7 L1123.9,1452.4 L1118.3,1452.1 L1112.8,1451.8 L1107.3,1451.5 L1101.8,1451.2 L1096.5,1450.8 L1091.1,1450.5 L1085.6,1450.1 L1080.1,1449.7 L1074.7,1449.3 L1069.3,1448.9 L1063.9,1448.5 L1058.6,1448.0 L1053.3,1447.6 L1048.0,1447.1 L1042.8,1446.6 L1037.5,1446.2 L1032.3,1445.7 L1026.4,1445.1 L1019.9,1444.4 L1014.2,1443.8 L1009.1,1443.3 L1003.9,1442.7 L998.9,1442.1 L992.5,1441.4 L986.3,1440.6 L981.2,1440.0 L976.3,1439.4 L970.0,1438.6 L963.9,1437.7 L959.0,1437.1 L953.7,1436.3 L946.9,1435.3 L942.0,1434.6 L935.9,1433.7 L930.1,1432.7 L925.4,1432.0 L918.3,1430.8 L913.6,1430.0 L906.7,1428.8 L902.1,1428.0 L895.2,1426.7 L890.7,1425.9 L884.0,1424.6 L877.5,1423.3 L872.8,1422.3 L866.3,1421.0 L859.8,1419.6 L855.5,1418.6 L849.1,1417.1 L842.7,1415.7 L836.5,1414.1 L830.3,1412.6 L824.2,1411.0 L818.2,1409.4 L812.2,1407.8 L806.4,1406.1 L800.6,1404.4 L794.9,1402.7 L789.7,1401.1 L785.6,1399.7 L780.1,1397.9 L775.4,1396.3 L771.2,1394.8 L766.0,1392.9 L762.6,1391.7 L757.5,1389.7 L754.2,1388.4 L750.4,1386.8 L746.2,1385.0 L743.0,1383.6 L739.3,1381.9 L735.4,1380.1 L732.4,1378.7 L729.5,1377.2 L726.5,1375.7 L722.9,1373.8 L719.7,1372.0 L717.0,1370.5 L714.4,1369.0 L711.9,1367.4" fill="none" stroke="#b8f000" stroke-width="1.8" opacity="0.9"/>
<path d="M1233.9,1415.1 L1227.7,1415.2 L1222.5,1415.3 L1218.5,1415.3 L1212.4,1415.4 L1206.4,1415.4 L1201.9,1415.4 L1197.5,1415.4 L1191.6,1415.4 L1185.8,1415.3 L1180.0,1415.2 L1175.5,1415.1 L1170.9,1415.0 L1165.7,1414.9 L1160.0,1414.7 L1154.4,1414.5 L1148.8,1414.3 L1143.3,1414.1 L1137.8,1413.8 L1132.3,1413.5 L1126.9,1413.2 L1121.5,1412.9 L1116.2,1412.5 L1110.9,1412.2 L1105.6,1411.8 L1100.3,1411.4 L1095.1,1411.0 L1089.9,1410.6 L1084.8,1410.1 L1078.5,1409.5 L1072.1,1408.9 L1067.0,1408.4 L1062.0,1407.9 L1057.1,1407.3 L1050.4,1406.6 L1044.8,1405.9 L1039.9,1405.3 L1034.5,1404.6 L1027.9,1403.7 L1023.2,1403.1 L1016.5,1402.1 L1011.5,1401.4 L1006.3,1400.6 L1000.0,1399.6 L995.0,1398.7 L988.7,1397.6 L982.1,1396.5 L977.7,1395.6 L971.1,1394.4 L964.7,1393.1 L960.4,1392.2 L954.1,1390.9 L947.9,1389.5 L941.8,1388.1 L935.7,1386.6 L929.8,1385.1 L923.9,1383.6 L918.1,1382.1 L912.5,1380.5 L906.9,1378.8 L902.9,1377.6 L897.8,1376.0 L892.5,1374.3 L889.1,1373.1 L884.0,1371.3 L880.6,1370.1 L875.7,1368.2 L872.5,1366.9 L867.8,1365.0 L864.7,1363.6 L861.7,1362.3 L858.2,1360.7 L854.4,1358.8 L851.6,1357.4 L848.9,1356.0 L846.2,1354.5 L843.7,1353.1 L841.1,1351.5 L838.7,1350.0 L836.3,1348.5 L834.1,1346.9 L831.9,1345.3 L829.7,1343.6 L827.7,1342.0 L826.0,1340.4 L824.6,1339.2 L823.1,1337.7 L821.4,1335.9 L820.0,1334.3 L819.1,1333.2 L817.8,1331.3" fill="none" stroke="#e8e000" stroke-width="1.8" opacity="0.9"/>
<g><polygon points="997.6,886.4 1013.7,888.4 994.0,892.8 977.8,890.8" fill="#cb7f10" stroke="#6d4409" stroke-width="1.8" stroke-linejoin="round"/><polygon points="1017.4,882.7 1033.5,884.7 1013.7,888.4 997.6,886.4" fill="#c0690f" stroke="#673808" stroke-width="1.8" stroke-linejoin="round"/><polygon points="981.4,885.8 997.6,886.4 977.8,890.8 961.5,890.2" fill="#ac630e" stroke="#5c3507" stroke-width="1.8" stroke-linejoin="round"/><polygon points="1037.3,879.6 1053.3,881.6 1033.5,884.7 1017.4,882.7" fill="#af530e" stroke="#5e2c08" stroke-width="1.8" stroke-linejoin="round"/><polygon points="1001.3,882.1 1017.4,882.7 997.6,886.4 981.4,885.8" fill="#9d4d0d" stroke="#542907" stroke-width="1.8" stroke-linejoin="round"/><polygon points="965.2,886.5 981.4,885.8 961.5,890.2 945.3,890.9" fill="#8c4b0b" stroke="#4b2806" stroke-width="1.8" stroke-linejoin="round"/><polygon points="1057.2,877.2 1073.1,879.1 1053.3,881.6 1037.3,879.6" fill="#9f410d" stroke="#552307" stroke-width="1.8" stroke-linejoin="round"/><polygon points="1021.2,879.1 1037.3,879.6 1017.4,882.7 1001.3,882.1" fill="#8c3b0b" stroke="#4b2006" stroke-width="1.8" stroke-linejoin="round"/><polygon points="985.2,882.9 1001.3,882.1 981.4,885.8 965.2,886.5" fill="#7b380a" stroke="#421e05" stroke-width="1.8" stroke-linejoin="round"/><polygon points="1077.1,875.5 1093.0,877.4 1073.1,879.1 1057.2,877.2" fill="#8f330b" stroke="#4d1b06" stroke-width="1.8" stroke-linejoin="round"/><polygon points="949.1,888.5 965.2,886.5 945.3,890.9 929.1,892.8" fill="#6b3809" stroke="#3a1e05" stroke-width="1.8" stroke-linejoin="round"/><polygon points="1041.2,876.7 1057.2,877.2 1037.3,879.6 1021.2,879.1" fill="#7c2c0a" stroke="#421805" stroke-width="1.8" stroke-linejoin="round"/><polygon points="1005.2,879.9 1021.2,879.1 1001.3,882.1 985.2,882.9" fill="#6a2909" stroke="#391605" stroke-width="1.8" stroke-linejoin="round"/><polygon points="1097.0,874.4 1112.8,876.2 1093.0,877.4 1077.1,875.5" fill="#80280a" stroke="#451505" stroke-width="1.8" stroke-linejoin="round"/><polygon points="969.1,884.9 985.2,882.9 965.2,886.5 949.1,888.5" fill="#5a2807" stroke="#301504" stroke-width="1.8" stroke-linejoin="round"/><polygon points="932.9,891.8 949.1,888.5 929.1,892.8 912.9,896.0" fill="#4c2706" stroke="#291503" stroke-width="1.8" stroke-linejoin="round"/><polygon points="1061.1,875.0 1077.1,875.5 1057.2,877.2 1041.2,876.7" fill="#6c2109" stroke="#3a1205" stroke-width="1.8" stroke-linejoin="round"/><polygon points="1025.2,877.5 1041.2,876.7 1021.2,879.1 1005.2,879.9" fill="#5a1d07" stroke="#301004" stroke-width="1.8" stroke-linejoin="round"/><polygon points="1116.9,873.9 1132.7,875.7 1112.8,876.2 1097.0,874.4" fill="#711f09" stroke="#3d1105" stroke-width="1.8" stroke-linejoin="round"/><polygon points="989.1,882.0 1005.2,879.9 985.2,882.9 969.1,884.9" fill="#4a1b06" stroke="#280f03" stroke-width="1.8" stroke-linejoin="round"/><polygon points="1081.1,873.9 1097.0,874.4 1077.1,875.5 1061.1,875.0" fill="#5d1807" stroke="#320d04" stroke-width="1.8" stroke-linejoin="round"/><polygon points="953.0,888.2 969.1,884.9 949.1,888.5 932.9,891.8" fill="#4e2206" stroke="#2a1203" stroke-width="1.8" stroke-linejoin="round"/><polygon points="916.8,896.2 932.9,891.8 912.9,896.0 896.7,900.4" fill="#5f3208" stroke="#331b04" stroke-width="1.8" stroke-linejoin="round"/><polygon points="1045.2,875.9 1061.1,875.0 1041.2,876.7 1025.2,877.5" fill="#4b1406" stroke="#280b03" stroke-width="1.8" stroke-linejoin="round"/><polygon points="1136.8,874.1 1152.5,875.9 1132.7,875.7 1116.9,873.9" fill="#631908" stroke="#350d04" stroke-width="1.8" stroke-linejoin="round"/><polygon points="1009.1,879.7 1025.2,877.5 1005.2,879.9 989.1,882.0" fill="#481606" stroke="#270c03" stroke-width="1.8" stroke-linejoin="round"/><polygon points="1101.1,873.6 1116.9,873.9 1097.0,874.4 1081.1,873.9" fill="#4f1206" stroke="#2a0a03" stroke-width="1.8" stroke-linejoin="round"/><polygon points="973.0,885.4 989.1,882.0 969.1,884.9 953.0,888.2" fill="#5a2107" stroke="#301204" stroke-width="1.8" stroke-linejoin="round"/><polygon points="936.9,892.8 953.0,888.2 932.9,891.8 916.8,896.2" fill="#6c3109" stroke="#3a1a05" stroke-width="1.8" stroke-linejoin="round"/><polygon points="1065.2,874.9 1081.1,873.9 1061.1,875.0 1045.2,875.9" fill="#420f05" stroke="#230803" stroke-width="1.8" stroke-linejoin="round"/><polygon points="1156.7,875.0 1172.4,876.7 1152.5,875.9 1136.8,874.1" fill="#561407" stroke="#2e0b04" stroke-width="1.8" stroke-linejoin="round"/><polygon points="900.7,901.8 916.8,896.2 896.7,900.4 880.6,905.9" fill="#7c450a" stroke="#422505" stroke-width="1.8" stroke-linejoin="round"/><polygon points="1029.2,878.2 1045.2,875.9 1025.2,877.5 1009.1,879.7" fill="#551507" stroke="#2d0b04" stroke-width="1.8" stroke-linejoin="round"/><polygon points="1121.0,873.8 1136.8,874.1 1116.9,873.9 1101.1,873.6" fill="#410d05" stroke="#230703" stroke-width="1.8" stroke-linejoin="round"/><polygon points="993.1,883.2 1009.1,879.7 989.1,882.0 973.0,885.4" fill="#671f08" stroke="#371104" stroke-width="1.8" stroke-linejoin="round"/><polygon points="1085.2,874.6 1101.1,873.6 1081.1,873.9 1065.2,874.9" fill="#4f0f06" stroke="#2a0803" stroke-width="1.8" stroke-linejoin="round"/><polygon points="957.0,890.0 973.0,885.4 953.0,888.2 936.9,892.8" fill="#782e0a" stroke="#401905" stroke-width="1.8" stroke-linejoin="round"/><polygon points="1176.6,876.5 1192.2,878.1 1172.4,876.7 1156.7,875.0" fill="#491006" stroke="#270903" stroke-width="1.8" stroke-linejoin="round"/><polygon points="920.8,898.5 936.9,892.8 916.8,896.2 900.7,901.8" fill="#89420b" stroke="#4a2306" stroke-width="1.8" stroke-linejoin="round"/><polygon points="1049.3,877.3 1065.2,874.9 1045.2,875.9 1029.2,878.2" fill="#611408" stroke="#340b04" stroke-width="1.8" stroke-linejoin="round"/><polygon points="884.6,908.6 900.7,901.8 880.6,905.9 864.4,912.6" fill="#965b0c" stroke="#513106" stroke-width="1.8" stroke-linejoin="round"/><polygon points="1141.0,874.8 1156.7,875.0 1136.8,874.1 1121.0,873.8" fill="#480d06" stroke="#270703" stroke-width="1.8" stroke-linejoin="round"/><polygon points="1013.2,881.7 1029.2,878.2 1009.1,879.7 993.1,883.2" fill="#731d09" stroke="#3e1005" stroke-width="1.8" stroke-linejoin="round"/><polygon points="1105.2,875.0 1121.0,873.8 1101.1,873.6 1085.2,874.6" fill="#5b0f07" stroke="#310804" stroke-width="1.8" stroke-linejoin="round"/><polygon points="977.1,887.9 993.1,883.2 973.0,885.4 957.0,890.0" fill="#852a0b" stroke="#471706" stroke-width="1.8" stroke-linejoin="round"/><polygon points="1196.5,878.7 1212.0,880.2 1192.2,878.1 1176.6,876.5" fill="#420f05" stroke="#230803" stroke-width="1.8" stroke-linejoin="round"/><polygon points="941.0,895.8 957.0,890.0 936.9,892.8 920.8,898.5" fill="#963e0c" stroke="#502106" stroke-width="1.8" stroke-linejoin="round"/><polygon points="1069.4,877.1 1085.2,874.6 1065.2,874.9 1049.3,877.3" fill="#6d1309" stroke="#3b0a05" stroke-width="1.8" stroke-linejoin="round"/><polygon points="1161.0,876.4 1176.6,876.5 1156.7,875.0 1141.0,874.8" fill="#550f07" stroke="#2d0804" stroke-width="1.8" stroke-linejoin="round"/><polygon points="904.7,905.4 920.8,898.5 900.7,901.8 884.6,908.6" fill="#a6570d" stroke="#592f07" stroke-width="1.8" stroke-linejoin="round"/><polygon points="1033.4,881.0 1049.3,877.3 1029.2,878.2 1013.2,881.7" fill="#7f1b0a" stroke="#440e05" stroke-width="1.8" stroke-linejoin="round"/><polygon points="868.5,916.5 884.6,908.6 864.4,912.6 848.3,920.3" fill="#af730e" stroke="#5e3e07" stroke-width="1.8" stroke-linejoin="round"/><polygon points="1125.3,876.1 1141.0,874.8 1121.0,873.8 1105.2,875.0" fill="#670f08" stroke="#370804" stroke-width="1.8" stroke-linejoin="round"/><polygon points="1216.4,881.5 1231.8,882.9 1212.0,880.2 1196.5,878.7" fill="#4e1206" stroke="#2a0a03" stroke-width="1.8" stroke-linejoin="round"/><polygon points="997.3,886.6 1013.2,881.7 993.1,883.2 977.1,887.9" fill="#91270c" stroke="#4e1506" stroke-width="1.8" stroke-linejoin="round"/><polygon points="961.1,893.9 977.1,887.9 957.0,890.0 941.0,895.8" fill="#a2390d" stroke="#571f07" stroke-width="1.8" stroke-linejoin="round"/><polygon points="1089.5,877.6 1105.2,875.0 1085.2,874.6 1069.4,877.1" fill="#7a120a" stroke="#410a05" stroke-width="1.8" stroke-linejoin="round"/><polygon points="1180.9,878.7 1196.5,878.7 1176.6,876.5 1161.0,876.4" fill="#611108" stroke="#340904" stroke-width="1.8" stroke-linejoin="round"/><polygon points="924.9,902.9 941.0,895.8 920.8,898.5 904.7,905.4" fill="#b3510e" stroke="#602c08" stroke-width="1.8" stroke-linejoin="round"/><polygon points="1053.5,880.9 1069.4,877.1 1049.3,877.3 1033.4,881.0" fill="#8c190b" stroke="#4b0d06" stroke-width="1.8" stroke-linejoin="round"/><polygon points="888.7,913.4 904.7,905.4 884.6,908.6 868.5,916.5" fill="#c0700f" stroke="#673c08" stroke-width="1.8" stroke-linejoin="round"/><polygon points="1145.3,877.8 1161.0,876.4 1141.0,874.8 1125.3,876.1" fill="#741009" stroke="#3e0905" stroke-width="1.8" stroke-linejoin="round"/><polygon points="1236.2,885.0 1251.6,886.3 1231.8,882.9 1216.4,881.5" fill="#5b1607" stroke="#310c04" stroke-width="1.8" stroke-linejoin="round"/><polygon points="852.5,925.5 868.5,916.5 848.3,920.3 832.3,929.2" fill="#c48f10" stroke="#694d08" stroke-width="1.8" stroke-linejoin="round"/><polygon points="1017.5,886.0 1033.4,881.0 1013.2,881.7 997.3,886.6" fill="#9d240d" stroke="#541307" stroke-width="1.8" stroke-linejoin="round"/><polygon points="1109.5,878.8 1125.3,876.1 1105.2,875.0 1089.5,877.6" fill="#86120b" stroke="#480a06" stroke-width="1.8" stroke-linejoin="round"/><polygon points="981.4,892.7 997.3,886.6 977.1,887.9 961.1,893.9" fill="#ae340e" stroke="#5d1c07" stroke-width="1.8" stroke-linejoin="round"/><polygon points="1200.9,881.7 1216.4,881.5 1196.5,878.7 1180.9,878.7" fill="#6e1409" stroke="#3b0b05" stroke-width="1.8" stroke-linejoin="round"/><polygon points="945.2,901.1 961.1,893.9 941.0,895.8 924.9,902.9" fill="#bf4c0f" stroke="#662908" stroke-width="1.8" stroke-linejoin="round"/><polygon points="1073.6,881.5 1089.5,877.6 1069.4,877.1 1053.5,880.9" fill="#98170c" stroke="#510c07" stroke-width="1.8" stroke-linejoin="round"/><polygon points="1256.1,889.2 1271.4,890.4 1251.6,886.3 1236.2,885.0" fill="#671c08" stroke="#370f04" stroke-width="1.8" stroke-linejoin="round"/><polygon points="1165.3,880.2 1180.9,878.7 1161.0,876.4 1145.3,877.8" fill="#80120a" stroke="#450a06" stroke-width="1.8" stroke-linejoin="round"/><polygon points="909.0,911.1 924.9,902.9 904.7,905.4 888.7,913.4" fill="#cf6a11" stroke="#6f3909" stroke-width="1.8" stroke-linejoin="round"/><polygon points="1037.7,886.0 1053.5,880.9 1033.4,881.0 1017.5,886.0" fill="#a9210e" stroke="#5b1207" stroke-width="1.8" stroke-linejoin="round"/><polygon points="872.7,922.5 888.7,913.4 868.5,916.5 852.5,925.5" fill="#d68b11" stroke="#734b09" stroke-width="1.8" stroke-linejoin="round"/><polygon points="1129.6,880.6 1145.3,877.8 1125.3,876.1 1109.5,878.8" fill="#92120c" stroke="#4e0a06" stroke-width="1.8" stroke-linejoin="round"/><polygon points="836.5,935.4 852.5,925.5 832.3,929.2 816.2,939.0" fill="#d8af11" stroke="#745e09" stroke-width="1.8" stroke-linejoin="round"/><polygon points="1220.8,885.3 1236.2,885.0 1216.4,881.5 1200.9,881.7" fill="#7a180a" stroke="#420d05" stroke-width="1.8" stroke-linejoin="round"/><polygon points="1001.6,892.2 1017.5,886.0 997.3,886.6 981.4,892.7" fill="#ba310f" stroke="#641a08" stroke-width="1.8" stroke-linejoin="round"/><polygon points="965.4,900.0 981.4,892.7 961.1,893.9 945.2,901.1" fill="#cb4710" stroke="#6d2609" stroke-width="1.8" stroke-linejoin="round"/><polygon points="1093.8,882.8 1109.5,878.8 1089.5,877.6 1073.6,881.5" fill="#a4160d" stroke="#580c07" stroke-width="1.8" stroke-linejoin="round"/><polygon points="1275.9,894.0 1291.2,895.1 1271.4,890.4 1256.1,889.2" fill="#742309" stroke="#3e1305" stroke-width="1.8" stroke-linejoin="round"/><polygon points="1185.3,883.3 1200.9,881.7 1180.9,878.7 1165.3,880.2" fill="#8d150b" stroke="#4c0b06" stroke-width="1.8" stroke-linejoin="round"/><polygon points="929.2,909.4 945.2,901.1 924.9,902.9 909.0,911.1" fill="#db6412" stroke="#753609" stroke-width="1.8" stroke-linejoin="round"/><polygon points="1057.8,886.8 1073.6,881.5 1053.5,880.9 1037.7,886.0" fill="#b51f0f" stroke="#611108" stroke-width="1.8" stroke-linejoin="round"/><polygon points="893.0,920.3 909.0,911.1 888.7,913.4 872.7,922.5" fill="#e78712" stroke="#7c490a" stroke-width="1.8" stroke-linejoin="round"/><polygon points="1149.7,883.2 1165.3,880.2 1145.3,877.8 1129.6,880.6" fill="#9f140d" stroke="#550b07" stroke-width="1.8" stroke-linejoin="round"/><polygon points="1240.7,889.6 1256.1,889.2 1236.2,885.0 1220.8,885.3" fill="#871d0b" stroke="#481006" stroke-width="1.8" stroke-linejoin="round"/><polygon points="856.8,932.7 872.7,922.5 852.5,925.5 836.5,935.4" fill="#e9ac13" stroke="#7d5c0a" stroke-width="1.8" stroke-linejoin="round"/><polygon points="1021.8,892.4 1037.7,886.0 1017.5,886.0 1001.6,892.2" fill="#c62d10" stroke="#6a1809" stroke-width="1.8" stroke-linejoin="round"/><polygon points="820.5,946.4 836.5,935.4 816.2,939.0 800.2,949.7" fill="#e9d313" stroke="#7d710a" stroke-width="1.8" stroke-linejoin="round"/><polygon points="1113.9,884.9 1129.6,880.6 1109.5,878.8 1093.8,882.8" fill="#b0170e" stroke="#5f0c08" stroke-width="1.8" stroke-linejoin="round"/><polygon points="1295.7,899.5 1310.9,900.4 1291.2,895.1 1275.9,894.0" fill="#812b0a" stroke="#451706" stroke-width="1.8" stroke-linejoin="round"/><polygon points="985.7,899.7 1001.6,892.2 981.4,892.7 965.4,900.0" fill="#d74211" stroke="#732409" stroke-width="1.8" stroke-linejoin="round"/><polygon points="1205.3,887.1 1220.8,885.3 1200.9,881.7 1185.3,883.3" fill="#9a190c" stroke="#520e07" stroke-width="1.8" stroke-linejoin="round"/><polygon points="949.5,908.5 965.4,900.0 945.2,901.1 929.2,909.4" fill="#e25d12" stroke="#79320a" stroke-width="1.8" stroke-linejoin="round"/><polygon points="1078.0,888.3 1093.8,882.8 1073.6,881.5 1057.8,886.8" fill="#c21e0f" stroke="#681008" stroke-width="1.8" stroke-linejoin="round"/><polygon points="1260.6,894.5 1275.9,894.0 1256.1,889.2 1240.7,889.6" fill="#94250c" stroke="#4f1406" stroke-width="1.8" stroke-linejoin="round"/><polygon points="913.3,918.9 929.2,909.4 909.0,911.1 893.0,920.3" fill="#ed7d13" stroke="#7f430a" stroke-width="1.8" stroke-linejoin="round"/><polygon points="1169.8,886.4 1185.3,883.3 1165.3,880.2 1149.7,883.2" fill="#ac170e" stroke="#5c0d07" stroke-width="1.8" stroke-linejoin="round"/><polygon points="1042.0,893.4 1057.8,886.8 1037.7,886.0 1021.8,892.4" fill="#d12b11" stroke="#701709" stroke-width="1.8" stroke-linejoin="round"/><polygon points="877.1,930.6 893.0,920.3 872.7,922.5 856.8,932.7" fill="#ed9f13" stroke="#7f550a" stroke-width="1.8" stroke-linejoin="round"/><polygon points="1315.5,905.6 1330.6,906.4 1310.9,900.4 1295.7,899.5" fill="#8f370b" stroke="#4c1d06" stroke-width="1.8" stroke-linejoin="round"/><polygon points="840.8,943.8 856.8,932.7 836.5,935.4 820.5,946.4" fill="#edc513" stroke="#7f6a0a" stroke-width="1.8" stroke-linejoin="round"/><polygon points="1134.1,887.6 1149.7,883.2 1129.6,880.6 1113.9,884.9" fill="#bd190f" stroke="#650d08" stroke-width="1.8" stroke-linejoin="round"/><polygon points="1225.3,891.5 1240.7,889.6 1220.8,885.3 1205.3,887.1" fill="#a7200d" stroke="#591107" stroke-width="1.8" stroke-linejoin="round"/><polygon points="1006.0,900.1 1021.8,892.4 1001.6,892.2 985.7,899.7" fill="#d73c11" stroke="#732009" stroke-width="1.8" stroke-linejoin="round"/><polygon points="804.6,958.3 820.5,946.4 800.2,949.7 784.3,961.4" fill="#eced13" stroke="#7f7f0a" stroke-width="1.8" stroke-linejoin="round"/><polygon points="969.8,908.4 985.7,899.7 965.4,900.0 949.5,908.5" fill="#df5312" stroke="#772c0a" stroke-width="1.8" stroke-linejoin="round"/><polygon points="1098.2,890.5 1113.9,884.9 1093.8,882.8 1078.0,888.3" fill="#cc1f10" stroke="#6d1109" stroke-width="1.8" stroke-linejoin="round"/><polygon points="1280.5,900.2 1295.7,899.5 1275.9,894.0 1260.6,894.5" fill="#a22f0d" stroke="#571907" stroke-width="1.8" stroke-linejoin="round"/><polygon points="1189.8,890.4 1205.3,887.1 1185.3,883.3 1169.8,886.4" fill="#b81c0f" stroke="#630f08" stroke-width="1.8" stroke-linejoin="round"/><polygon points="933.7,918.2 949.5,908.5 929.2,909.4 913.3,918.9" fill="#e97013" stroke="#7d3c0a" stroke-width="1.8" stroke-linejoin="round"/><polygon points="1062.3,895.0 1078.0,888.3 1057.8,886.8 1042.0,893.4" fill="#d02811" stroke="#6f1609" stroke-width="1.8" stroke-linejoin="round"/><polygon points="897.4,929.4 913.3,918.9 893.0,920.3 877.1,930.6" fill="#ed9213" stroke="#7f4e0a" stroke-width="1.8" stroke-linejoin="round"/><polygon points="1335.2,912.4 1350.2,913.0 1330.6,906.4 1315.5,905.6" fill="#9c440c" stroke="#542507" stroke-width="1.8" stroke-linejoin="round"/><polygon points="1154.2,891.0 1169.8,886.4 1149.7,883.2 1134.1,887.6" fill="#ca1d10" stroke="#6c0f09" stroke-width="1.8" stroke-linejoin="round"/><polygon points="1245.2,896.6 1260.6,894.5 1240.7,889.6 1225.3,891.5" fill="#b4280e" stroke="#601508" stroke-width="1.8" stroke-linejoin="round"/><polygon points="861.2,942.0 877.1,930.6 856.8,932.7 840.8,943.8" fill="#edb613" stroke="#7f610a" stroke-width="1.8" stroke-linejoin="round"/><polygon points="1026.3,901.2 1042.0,893.4 1021.8,892.4 1006.0,900.1" fill="#d53711" stroke="#721d09" stroke-width="1.8" stroke-linejoin="round"/><polygon points="825.0,955.9 840.8,943.8 820.5,946.4 804.6,958.3" fill="#edde13" stroke="#7f770a" stroke-width="1.8" stroke-linejoin="round"/><polygon points="788.8,971.0 804.6,958.3 784.3,961.4 768.4,974.0" fill="#d1ed13" stroke="#707f0a" stroke-width="1.8" stroke-linejoin="round"/><polygon points="1118.4,893.4 1134.1,887.6 1113.9,884.9 1098.2,890.5" fill="#cc2010" stroke="#6e1109" stroke-width="1.8" stroke-linejoin="round"/><polygon points="990.2,909.0 1006.0,900.1 985.7,899.7 969.8,908.4" fill="#dc4b12" stroke="#762809" stroke-width="1.8" stroke-linejoin="round"/><polygon points="1300.3,906.4 1315.5,905.6 1295.7,899.5 1280.5,900.2" fill="#af3b0e" stroke="#5e2008" stroke-width="1.8" stroke-linejoin="round"/><polygon points="1209.9,895.0 1225.3,891.5 1205.3,887.1 1189.8,890.4" fill="#c62310" stroke="#6a1308" stroke-width="1.8" stroke-linejoin="round"/><polygon points="954.0,918.2 969.8,908.4 949.5,908.5 933.7,918.2" fill="#e56612" stroke="#7b370a" stroke-width="1.8" stroke-linejoin="round"/><polygon points="1082.5,897.4 1098.2,890.5 1078.0,888.3 1062.3,895.0" fill="#cf2711" stroke="#6f1509" stroke-width="1.8" stroke-linejoin="round"/><polygon points="1354.9,919.8 1369.9,920.2 1350.2,913.0 1335.2,912.4" fill="#aa550e" stroke="#5b2d07" stroke-width="1.8" stroke-linejoin="round"/><polygon points="917.8,928.9 933.7,918.2 913.3,918.9 897.4,929.4" fill="#ed8713" stroke="#7f490a" stroke-width="1.8" stroke-linejoin="round"/><polygon points="1174.3,895.1 1189.8,890.4 1169.8,886.4 1154.2,891.0" fill="#cd2110" stroke="#6e1209" stroke-width="1.8" stroke-linejoin="round"/><polygon points="1265.2,902.4 1280.5,900.2 1260.6,894.5 1245.2,896.6" fill="#c1330f" stroke="#681b08" stroke-width="1.8" stroke-linejoin="round"/><polygon points="1046.5,903.1 1062.3,895.0 1042.0,893.4 1026.3,901.2" fill="#d43411" stroke="#721c09" stroke-width="1.8" stroke-linejoin="round"/><polygon points="881.6,940.9 897.4,929.4 877.1,930.6 861.2,942.0" fill="#eda913" stroke="#7f5b0a" stroke-width="1.8" stroke-linejoin="round"/><polygon points="845.4,954.3 861.2,942.0 840.8,943.8 825.0,955.9" fill="#edcf13" stroke="#7f6f0a" stroke-width="1.8" stroke-linejoin="round"/><polygon points="1320.1,913.4 1335.2,912.4 1315.5,905.6 1300.3,906.4" fill="#bd4a0f" stroke="#652808" stroke-width="1.8" stroke-linejoin="round"/><polygon points="1138.6,897.0 1154.2,891.0 1134.1,887.6 1118.4,893.4" fill="#cd2210" stroke="#6e1209" stroke-width="1.8" stroke-linejoin="round"/><polygon points="1010.5,910.3 1026.3,901.2 1006.0,900.1 990.2,909.0" fill="#db4611" stroke="#752609" stroke-width="1.8" stroke-linejoin="round"/><polygon points="1229.9,900.3 1245.2,896.6 1225.3,891.5 1209.9,895.0" fill="#d12d11" stroke="#701809" stroke-width="1.8" stroke-linejoin="round"/><polygon points="809.1,968.9 825.0,955.9 804.6,958.3 788.8,971.0" fill="#e2ed13" stroke="#797f0a" stroke-width="1.8" stroke-linejoin="round"/><polygon points="772.9,984.6 788.8,971.0 768.4,974.0 752.6,987.4" fill="#b5ed13" stroke="#617f0a" stroke-width="1.8" stroke-linejoin="round"/><polygon points="1374.5,927.9 1389.4,928.1 1369.9,920.2 1354.9,919.8" fill="#b6670f" stroke="#623708" stroke-width="1.8" stroke-linejoin="round"/><polygon points="974.4,919.0 990.2,909.0 969.8,908.4 954.0,918.2" fill="#e35f12" stroke="#7a330a" stroke-width="1.8" stroke-linejoin="round"/><polygon points="1102.8,900.5 1118.4,893.4 1098.2,890.5 1082.5,897.4" fill="#d02811" stroke="#6f1509" stroke-width="1.8" stroke-linejoin="round"/><polygon points="1285.1,908.9 1300.3,906.4 1280.5,900.2 1265.2,902.4" fill="#cf4011" stroke="#6f2309" stroke-width="1.8" stroke-linejoin="round"/><polygon points="1194.4,899.9 1209.9,895.0 1189.8,890.4 1174.3,895.1" fill="#cf2711" stroke="#6f1509" stroke-width="1.8" stroke-linejoin="round"/><polygon points="938.2,929.1 954.0,918.2 933.7,918.2 917.8,928.9" fill="#ed7f13" stroke="#7f440a" stroke-width="1.8" stroke-linejoin="round"/><polygon points="1066.8,905.7 1082.5,897.4 1062.3,895.0 1046.5,903.1" fill="#d43311" stroke="#721b09" stroke-width="1.8" stroke-linejoin="round"/><polygon points="902.0,940.6 917.8,928.9 897.4,929.4 881.6,940.9" fill="#ed9f13" stroke="#7f550a" stroke-width="1.8" stroke-linejoin="round"/><polygon points="1339.9,921.0 1354.9,919.8 1335.2,912.4 1320.1,913.4" fill="#cb5c10" stroke="#6d3109" stroke-width="1.8" stroke-linejoin="round"/><polygon points="1158.8,901.3 1174.3,895.1 1154.2,891.0 1138.6,897.0" fill="#cf2611" stroke="#6f1509" stroke-width="1.8" stroke-linejoin="round"/><polygon points="865.8,953.4 881.6,940.9 861.2,942.0 845.4,954.3" fill="#edc313" stroke="#7f680a" stroke-width="1.8" stroke-linejoin="round"/><polygon points="1249.8,906.3 1265.2,902.4 1245.2,896.6 1229.9,900.3" fill="#d53611" stroke="#721d09" stroke-width="1.8" stroke-linejoin="round"/><polygon points="1030.8,912.4 1046.5,903.1 1026.3,901.2 1010.5,910.3" fill="#da4411" stroke="#752409" stroke-width="1.8" stroke-linejoin="round"/><polygon points="829.6,967.5 845.4,954.3 825.0,955.9 809.1,968.9" fill="#edeb13" stroke="#7f7e0a" stroke-width="1.8" stroke-linejoin="round"/><polygon points="793.4,982.7 809.1,968.9 788.8,971.0 772.9,984.6" fill="#c5ed13" stroke="#6a7f0a" stroke-width="1.8" stroke-linejoin="round"/><polygon points="994.7,920.6 1010.5,910.3 990.2,909.0 974.4,919.0" fill="#e15a12" stroke="#79300a" stroke-width="1.8" stroke-linejoin="round"/><polygon points="1123.0,904.3 1138.6,897.0 1118.4,893.4 1102.8,900.5" fill="#d12b11" stroke="#701709" stroke-width="1.8" stroke-linejoin="round"/><polygon points="757.2,999.0 772.9,984.6 752.6,987.4 736.8,1001.5" fill="#96ed13" stroke="#507f0a" stroke-width="1.8" stroke-linejoin="round"/><polygon points="1304.9,916.1 1320.1,913.4 1300.3,906.4 1285.1,908.9" fill="#de5112" stroke="#772c0a" stroke-width="1.8" stroke-linejoin="round"/><polygon points="1214.5,905.4 1229.9,900.3 1209.9,895.0 1194.4,899.9" fill="#d22f11" stroke="#711909" stroke-width="1.8" stroke-linejoin="round"/><polygon points="958.6,930.2 974.4,919.0 954.0,918.2 938.2,929.1" fill="#eb7713" stroke="#7e400a" stroke-width="1.8" stroke-linejoin="round"/><polygon points="1087.1,909.0 1102.8,900.5 1082.5,897.4 1066.8,905.7" fill="#d43511" stroke="#721c09" stroke-width="1.8" stroke-linejoin="round"/><polygon points="1359.6,929.3 1374.5,927.9 1354.9,919.8 1339.9,921.0" fill="#da7211" stroke="#753d09" stroke-width="1.8" stroke-linejoin="round"/><polygon points="922.4,941.1 938.2,929.1 917.8,928.9 902.0,940.6" fill="#ed9713" stroke="#7f510a" stroke-width="1.8" stroke-linejoin="round"/><polygon points="1178.9,906.3 1194.4,899.9 1174.3,895.1 1158.8,901.3" fill="#d12d11" stroke="#701809" stroke-width="1.8" stroke-linejoin="round"/><polygon points="1269.8,913.0 1285.1,908.9 1265.2,902.4 1249.8,906.3" fill="#d94211" stroke="#742309" stroke-width="1.8" stroke-linejoin="round"/><polygon points="1051.2,915.2 1066.8,905.7 1046.5,903.1 1030.8,912.4" fill="#da4311" stroke="#752409" stroke-width="1.8" stroke-linejoin="round"/><polygon points="886.2,953.4 902.0,940.6 881.6,940.9 865.8,953.4" fill="#edb913" stroke="#7f630a" stroke-width="1.8" stroke-linejoin="round"/><polygon points="850.0,966.9 865.8,953.4 845.4,954.3 829.6,967.5" fill="#eddf13" stroke="#7f770a" stroke-width="1.8" stroke-linejoin="round"/><polygon points="1143.2,908.9 1158.8,901.3 1138.6,897.0 1123.0,904.3" fill="#d33011" stroke="#711a09" stroke-width="1.8" stroke-linejoin="round"/><polygon points="1324.8,923.9 1339.9,921.0 1320.1,913.4 1304.9,916.1" fill="#e46212" stroke="#7a350a" stroke-width="1.8" stroke-linejoin="round"/><polygon points="1015.1,922.9 1030.8,912.4 1010.5,910.3 994.7,920.6" fill="#e15812" stroke="#782f0a" stroke-width="1.8" stroke-linejoin="round"/><polygon points="813.8,981.6 829.6,967.5 809.1,968.9 793.4,982.7" fill="#d3ed13" stroke="#717f0a" stroke-width="1.8" stroke-linejoin="round"/><polygon points="1234.5,911.7 1249.8,906.3 1229.9,900.3 1214.5,905.4" fill="#d63911" stroke="#731f09" stroke-width="1.8" stroke-linejoin="round"/><polygon points="777.6,997.3 793.4,982.7 772.9,984.6 757.2,999.0" fill="#a6ed13" stroke="#597f0a" stroke-width="1.8" stroke-linejoin="round"/><polygon points="741.5,1014.1 757.2,999.0 736.8,1001.5 721.0,1016.4" fill="#75ed13" stroke="#3f7f0a" stroke-width="1.8" stroke-linejoin="round"/><polygon points="979.0,931.9 994.7,920.6 974.4,919.0 958.6,930.2" fill="#e97313" stroke="#7d3d0a" stroke-width="1.8" stroke-linejoin="round"/><polygon points="1107.4,913.0 1123.0,904.3 1102.8,900.5 1087.1,909.0" fill="#d63811" stroke="#721e09" stroke-width="1.8" stroke-linejoin="round"/><polygon points="1289.7,920.3 1304.9,916.1 1285.1,908.9 1269.8,913.0" fill="#de5012" stroke="#772b0a" stroke-width="1.8" stroke-linejoin="round"/><polygon points="1199.0,912.1 1214.5,905.4 1194.4,899.9 1178.9,906.3" fill="#d53511" stroke="#721d09" stroke-width="1.8" stroke-linejoin="round"/><polygon points="942.9,942.4 958.6,930.2 938.2,929.1 922.4,941.1" fill="#ed9113" stroke="#7f4e0a" stroke-width="1.8" stroke-linejoin="round"/><polygon points="1071.5,918.7 1087.1,909.0 1066.8,905.7 1051.2,915.2" fill="#da4511" stroke="#752509" stroke-width="1.8" stroke-linejoin="round"/><polygon points="906.7,954.1 922.4,941.1 902.0,940.6 886.2,953.4" fill="#edb113" stroke="#7f5f0a" stroke-width="1.8" stroke-linejoin="round"/><polygon points="1344.5,932.4 1359.6,929.3 1339.9,921.0 1324.8,923.9" fill="#ea7513" stroke="#7e3f0a" stroke-width="1.8" stroke-linejoin="round"/><polygon points="1163.4,914.1 1178.9,906.3 1158.8,901.3 1143.2,908.9" fill="#d53711" stroke="#721d09" stroke-width="1.8" stroke-linejoin="round"/><polygon points="870.5,967.1 886.2,953.4 865.8,953.4 850.0,966.9" fill="#edd513" stroke="#7f720a" stroke-width="1.8" stroke-linejoin="round"/><polygon points="1254.5,918.6 1269.8,913.0 1249.8,906.3 1234.5,911.7" fill="#da4511" stroke="#752509" stroke-width="1.8" stroke-linejoin="round"/><polygon points="1035.5,925.9 1051.2,915.2 1030.8,912.4 1015.1,922.9" fill="#e15812" stroke="#782f0a" stroke-width="1.8" stroke-linejoin="round"/><polygon points="834.3,981.2 850.0,966.9 829.6,967.5 813.8,981.6" fill="#deed13" stroke="#777f0a" stroke-width="1.8" stroke-linejoin="round"/><polygon points="798.1,996.5 813.8,981.6 793.4,982.7 777.6,997.3" fill="#b3ed13" stroke="#607f0a" stroke-width="1.8" stroke-linejoin="round"/><polygon points="999.4,934.5 1015.1,922.9 994.7,920.6 979.0,931.9" fill="#e97113" stroke="#7d3c0a" stroke-width="1.8" stroke-linejoin="round"/><polygon points="1127.7,917.8 1143.2,908.9 1123.0,904.3 1107.4,913.0" fill="#d73d11" stroke="#742109" stroke-width="1.8" stroke-linejoin="round"/><polygon points="761.9,1012.7 777.6,997.3 757.2,999.0 741.5,1014.1" fill="#85ed13" stroke="#477f0a" stroke-width="1.8" stroke-linejoin="round"/><polygon points="1309.6,928.4 1324.8,923.9 1304.9,916.1 1289.7,920.3" fill="#e46112" stroke="#7a340a" stroke-width="1.8" stroke-linejoin="round"/><polygon points="725.8,1029.9 741.5,1014.1 721.0,1016.4 705.3,1031.9" fill="#53ed13" stroke="#2d7f0a" stroke-width="1.8" stroke-linejoin="round"/><polygon points="1219.1,918.5 1234.5,911.7 1214.5,905.4 1199.0,912.1" fill="#d84011" stroke="#742209" stroke-width="1.8" stroke-linejoin="round"/><polygon points="963.3,944.4 979.0,931.9 958.6,930.2 942.9,942.4" fill="#ed8d13" stroke="#7f4c0a" stroke-width="1.8" stroke-linejoin="round"/><polygon points="1091.8,923.0 1107.4,913.0 1087.1,909.0 1071.5,918.7" fill="#dc4912" stroke="#762709" stroke-width="1.8" stroke-linejoin="round"/><polygon points="927.2,955.7 942.9,942.4 922.4,941.1 906.7,954.1" fill="#edac13" stroke="#7f5c0a" stroke-width="1.8" stroke-linejoin="round"/><polygon points="1183.6,920.1 1199.0,912.1 1178.9,906.3 1163.4,914.1" fill="#d84011" stroke="#742209" stroke-width="1.8" stroke-linejoin="round"/><polygon points="1274.5,926.2 1289.7,920.3 1269.8,913.0 1254.5,918.6" fill="#df5412" stroke="#782d0a" stroke-width="1.8" stroke-linejoin="round"/><polygon points="891.0,968.1 906.7,954.1 886.2,953.4 870.5,967.1" fill="#edce13" stroke="#7f6e0a" stroke-width="1.8" stroke-linejoin="round"/><polygon points="1055.9,929.7 1071.5,918.7 1051.2,915.2 1035.5,925.9" fill="#e15a12" stroke="#79300a" stroke-width="1.8" stroke-linejoin="round"/><polygon points="854.8,981.7 870.5,967.1 850.0,966.9 834.3,981.2" fill="#e7ed13" stroke="#7c7f0a" stroke-width="1.8" stroke-linejoin="round"/><polygon points="1147.9,923.3 1163.4,914.1 1143.2,908.9 1127.7,917.8" fill="#da4511" stroke="#752509" stroke-width="1.8" stroke-linejoin="round"/><polygon points="1019.9,937.8 1035.5,925.9 1015.1,922.9 999.4,934.5" fill="#e97113" stroke="#7d3d0a" stroke-width="1.8" stroke-linejoin="round"/><polygon points="818.6,996.4 834.3,981.2 813.8,981.6 798.1,996.5" fill="#beed13" stroke="#667f0a" stroke-width="1.8" stroke-linejoin="round"/><polygon points="1329.5,937.1 1344.5,932.4 1324.8,923.9 1309.6,928.4" fill="#ea7513" stroke="#7d3f0a" stroke-width="1.8" stroke-linejoin="round"/><polygon points="1239.2,925.7 1254.5,918.6 1234.5,911.7 1219.1,918.5" fill="#dd4d12" stroke="#762909" stroke-width="1.8" stroke-linejoin="round"/><polygon points="782.5,1012.1 798.1,996.5 777.6,997.3 761.9,1012.7" fill="#91ed13" stroke="#4e7f0a" stroke-width="1.8" stroke-linejoin="round"/><polygon points="746.3,1028.8 761.9,1012.7 741.5,1014.1 725.8,1029.9" fill="#62ed13" stroke="#357f0a" stroke-width="1.8" stroke-linejoin="round"/><polygon points="983.8,947.3 999.4,934.5 979.0,931.9 963.3,944.4" fill="#ed8c13" stroke="#7f4b0a" stroke-width="1.8" stroke-linejoin="round"/><polygon points="710.2,1046.4 725.8,1029.9 705.3,1031.9 689.7,1048.1" fill="#30ed13" stroke="#197f0a" stroke-width="1.8" stroke-linejoin="round"/><polygon points="1112.1,928.1 1127.7,917.8 1107.4,913.0 1091.8,923.0" fill="#de4f12" stroke="#772a0a" stroke-width="1.8" stroke-linejoin="round"/><polygon points="947.7,958.0 963.3,944.4 942.9,942.4 927.2,955.7" fill="#eda813" stroke="#7f5a0a" stroke-width="1.8" stroke-linejoin="round"/><polygon points="1203.7,926.8 1219.1,918.5 1199.0,912.1 1183.6,920.1" fill="#dc4b12" stroke="#762809" stroke-width="1.8" stroke-linejoin="round"/><polygon points="1294.4,934.4 1309.6,928.4 1289.7,920.3 1274.5,926.2" fill="#e56512" stroke="#7b360a" stroke-width="1.8" stroke-linejoin="round"/><polygon points="1076.2,934.3 1091.8,923.0 1071.5,918.7 1055.9,929.7" fill="#e35f12" stroke="#7a330a" stroke-width="1.8" stroke-linejoin="round"/><polygon points="911.5,969.9 927.2,955.7 906.7,954.1 891.0,968.1" fill="#edc913" stroke="#7f6c0a" stroke-width="1.8" stroke-linejoin="round"/><polygon points="875.4,983.0 891.0,968.1 870.5,967.1 854.8,981.7" fill="#eded13" stroke="#7f7f0a" stroke-width="1.8" stroke-linejoin="round"/><polygon points="1168.1,929.6 1183.6,920.1 1163.4,914.1 1147.9,923.3" fill="#de4f12" stroke="#772a0a" stroke-width="1.8" stroke-linejoin="round"/><polygon points="1040.3,941.9 1055.9,929.7 1035.5,925.9 1019.9,937.8" fill="#ea7413" stroke="#7d3e0a" stroke-width="1.8" stroke-linejoin="round"/><polygon points="1259.2,933.5 1274.5,926.2 1254.5,918.6 1239.2,925.7" fill="#e25c12" stroke="#79310a" stroke-width="1.8" stroke-linejoin="round"/><polygon points="839.2,997.2 854.8,981.7 834.3,981.2 818.6,996.4" fill="#c7ed13" stroke="#6a7f0a" stroke-width="1.8" stroke-linejoin="round"/><polygon points="803.0,1012.4 818.6,996.4 798.1,996.5 782.5,1012.1" fill="#9ced13" stroke="#547f0a" stroke-width="1.8" stroke-linejoin="round"/><polygon points="1004.3,950.8 1019.9,937.8 999.4,934.5 983.8,947.3" fill="#ed8d13" stroke="#7f4b0a" stroke-width="1.8" stroke-linejoin="round"/><polygon points="1132.4,933.8 1147.9,923.3 1127.7,917.8 1112.1,928.1" fill="#e15712" stroke="#782f0a" stroke-width="1.8" stroke-linejoin="round"/><polygon points="766.9,1028.5 782.5,1012.1 761.9,1012.7 746.3,1028.8" fill="#6eed13" stroke="#3b7f0a" stroke-width="1.8" stroke-linejoin="round"/><polygon points="730.7,1045.5 746.3,1028.8 725.8,1029.9 710.2,1046.4" fill="#3eed13" stroke="#217f0a" stroke-width="1.8" stroke-linejoin="round"/><polygon points="1314.4,943.4 1329.5,937.1 1309.6,928.4 1294.4,934.4" fill="#eb7913" stroke="#7e410a" stroke-width="1.8" stroke-linejoin="round"/><polygon points="694.6,1063.4 710.2,1046.4 689.7,1048.1 674.1,1064.7" fill="#13ed1b" stroke="#0a7f0f" stroke-width="1.8" stroke-linejoin="round"/><polygon points="1223.9,934.2 1239.2,925.7 1219.1,918.5 1203.7,926.8" fill="#e15912" stroke="#79300a" stroke-width="1.8" stroke-linejoin="round"/><polygon points="968.2,961.1 983.8,947.3 963.3,944.4 947.7,958.0" fill="#eda813" stroke="#7f5a0a" stroke-width="1.8" stroke-linejoin="round"/><polygon points="1096.6,939.6 1112.1,928.1 1091.8,923.0 1076.2,934.3" fill="#e56612" stroke="#7b360a" stroke-width="1.8" stroke-linejoin="round"/><polygon points="932.1,972.5 947.7,958.0 927.2,955.7 911.5,969.9" fill="#edc613" stroke="#7f6a0a" stroke-width="1.8" stroke-linejoin="round"/><polygon points="1188.3,936.5 1203.7,926.8 1183.6,920.1 1168.1,929.6" fill="#e25b12" stroke="#79310a" stroke-width="1.8" stroke-linejoin="round"/><polygon points="1279.2,942.1 1294.4,934.4 1274.5,926.2 1259.2,933.5" fill="#e86e13" stroke="#7c3b0a" stroke-width="1.8" stroke-linejoin="round"/><polygon points="895.9,985.1 911.5,969.9 891.0,968.1 875.4,983.0" fill="#ede813" stroke="#7f7d0a" stroke-width="1.8" stroke-linejoin="round"/><polygon points="1060.7,946.7 1076.2,934.3 1055.9,929.7 1040.3,941.9" fill="#eb7913" stroke="#7e410a" stroke-width="1.8" stroke-linejoin="round"/><polygon points="859.8,998.8 875.4,983.0 854.8,981.7 839.2,997.2" fill="#cded13" stroke="#6e7f0a" stroke-width="1.8" stroke-linejoin="round"/><polygon points="1152.7,940.4 1168.1,929.6 1147.9,923.3 1132.4,933.8" fill="#e46212" stroke="#7a350a" stroke-width="1.8" stroke-linejoin="round"/><polygon points="1024.7,955.2 1040.3,941.9 1019.9,937.8 1004.3,950.8" fill="#ed9013" stroke="#7f4d0a" stroke-width="1.8" stroke-linejoin="round"/><polygon points="823.6,1013.4 839.2,997.2 818.6,996.4 803.0,1012.4" fill="#a4ed13" stroke="#587f0a" stroke-width="1.8" stroke-linejoin="round"/><polygon points="1244.0,942.4 1259.2,933.5 1239.2,925.7 1223.9,934.2" fill="#e66912" stroke="#7b380a" stroke-width="1.8" stroke-linejoin="round"/><polygon points="787.5,1029.0 803.0,1012.4 782.5,1012.1 766.9,1028.5" fill="#78ed13" stroke="#407f0a" stroke-width="1.8" stroke-linejoin="round"/><polygon points="751.3,1045.5 766.9,1028.5 746.3,1028.8 730.7,1045.5" fill="#4aed13" stroke="#287f0a" stroke-width="1.8" stroke-linejoin="round"/><polygon points="988.7,965.0 1004.3,950.8 983.8,947.3 968.2,961.1" fill="#eda913" stroke="#7f5a0a" stroke-width="1.8" stroke-linejoin="round"/><polygon points="715.2,1062.8 730.7,1045.5 710.2,1046.4 694.6,1063.4" fill="#19ed13" stroke="#0d7f0a" stroke-width="1.8" stroke-linejoin="round"/><polygon points="1117.0,945.7 1132.4,933.8 1112.1,928.1 1096.6,939.6" fill="#e86f13" stroke="#7c3b0a" stroke-width="1.8" stroke-linejoin="round"/><polygon points="952.6,975.9 968.2,961.1 947.7,958.0 932.1,972.5" fill="#edc613" stroke="#7f6a0a" stroke-width="1.8" stroke-linejoin="round"/><polygon points="1208.5,944.2 1223.9,934.2 1203.7,926.8 1188.3,936.5" fill="#e66a12" stroke="#7c390a" stroke-width="1.8" stroke-linejoin="round"/><polygon points="1299.2,951.3 1314.4,943.4 1294.4,934.4 1279.2,942.1" fill="#ed8313" stroke="#7f460a" stroke-width="1.8" stroke-linejoin="round"/><polygon points="1081.1,952.3 1096.6,939.6 1076.2,934.3 1060.7,946.7" fill="#ed8113" stroke="#7f450a" stroke-width="1.8" stroke-linejoin="round"/><polygon points="916.5,988.0 932.1,972.5 911.5,969.9 895.9,985.1" fill="#ede613" stroke="#7f7b0a" stroke-width="1.8" stroke-linejoin="round"/><polygon points="880.4,1001.2 895.9,985.1 875.4,983.0 859.8,998.8" fill="#d1ed13" stroke="#707f0a" stroke-width="1.8" stroke-linejoin="round"/><polygon points="1173.0,947.6 1188.3,936.5 1168.1,929.6 1152.7,940.4" fill="#e87013" stroke="#7d3c0a" stroke-width="1.8" stroke-linejoin="round"/><polygon points="1045.2,960.4 1060.7,946.7 1040.3,941.9 1024.7,955.2" fill="#ed9513" stroke="#7f500a" stroke-width="1.8" stroke-linejoin="round"/><polygon points="1264.0,951.2 1279.2,942.1 1259.2,933.5 1244.0,942.4" fill="#ec7c13" stroke="#7f430a" stroke-width="1.8" stroke-linejoin="round"/><polygon points="844.2,1015.3 859.8,998.8 839.2,997.2 823.6,1013.4" fill="#aaed13" stroke="#5b7f0a" stroke-width="1.8" stroke-linejoin="round"/><polygon points="808.1,1030.4 823.6,1013.4 803.0,1012.4 787.5,1029.0" fill="#80ed13" stroke="#457f0a" stroke-width="1.8" stroke-linejoin="round"/><polygon points="1009.2,969.6 1024.7,955.2 1004.3,950.8 988.7,965.0" fill="#edac13" stroke="#7f5c0a" stroke-width="1.8" stroke-linejoin="round"/><polygon points="772.0,1046.4 787.5,1029.0 766.9,1028.5 751.3,1045.5" fill="#53ed13" stroke="#2d7f0a" stroke-width="1.8" stroke-linejoin="round"/><polygon points="1137.3,952.5 1152.7,940.4 1132.4,933.8 1117.0,945.7" fill="#ec7b13" stroke="#7e420a" stroke-width="1.8" stroke-linejoin="round"/><polygon points="735.8,1063.2 751.3,1045.5 730.7,1045.5 715.2,1062.8" fill="#24ed13" stroke="#137f0a" stroke-width="1.8" stroke-linejoin="round"/><polygon points="1228.7,952.6 1244.0,942.4 1223.9,934.2 1208.5,944.2" fill="#ec7b13" stroke="#7e420a" stroke-width="1.8" stroke-linejoin="round"/><polygon points="973.2,980.1 988.7,965.0 968.2,961.1 952.6,975.9" fill="#edc713" stroke="#7f6b0a" stroke-width="1.8" stroke-linejoin="round"/><polygon points="1101.5,958.7 1117.0,945.7 1096.6,939.6 1081.1,952.3" fill="#ed8a13" stroke="#7f4a0a" stroke-width="1.8" stroke-linejoin="round"/><polygon points="937.1,991.7 952.6,975.9 932.1,972.5 916.5,988.0" fill="#ede613" stroke="#7f7b0a" stroke-width="1.8" stroke-linejoin="round"/><polygon points="1193.2,955.6 1208.5,944.2 1188.3,936.5 1173.0,947.6" fill="#ed8013" stroke="#7f440a" stroke-width="1.8" stroke-linejoin="round"/><polygon points="901.0,1004.4 916.5,988.0 895.9,985.1 880.4,1001.2" fill="#d2ed13" stroke="#717f0a" stroke-width="1.8" stroke-linejoin="round"/><polygon points="1284.0,960.7 1299.2,951.3 1279.2,942.1 1264.0,951.2" fill="#ed8f13" stroke="#7f4d0a" stroke-width="1.8" stroke-linejoin="round"/><polygon points="1065.6,966.3 1081.1,952.3 1060.7,946.7 1045.2,960.4" fill="#ed9c13" stroke="#7f540a" stroke-width="1.8" stroke-linejoin="round"/><polygon points="864.9,1018.1 880.4,1001.2 859.8,998.8 844.2,1015.3" fill="#aded13" stroke="#5d7f0a" stroke-width="1.8" stroke-linejoin="round"/><polygon points="828.7,1032.7 844.2,1015.3 823.6,1013.4 808.1,1030.4" fill="#85ed13" stroke="#477f0a" stroke-width="1.8" stroke-linejoin="round"/><polygon points="1029.7,975.1 1045.2,960.4 1024.7,955.2 1009.2,969.6" fill="#edb213" stroke="#7f5f0a" stroke-width="1.8" stroke-linejoin="round"/><polygon points="1157.6,960.0 1173.0,947.6 1152.7,940.4 1137.3,952.5" fill="#ed8813" stroke="#7f490a" stroke-width="1.8" stroke-linejoin="round"/><polygon points="792.6,1048.1 808.1,1030.4 787.5,1029.0 772.0,1046.4" fill="#5aed13" stroke="#307f0a" stroke-width="1.8" stroke-linejoin="round"/><polygon points="1248.8,961.8 1264.0,951.2 1244.0,942.4 1228.7,952.6" fill="#ed8d13" stroke="#7f4c0a" stroke-width="1.8" stroke-linejoin="round"/><polygon points="756.5,1064.4 772.0,1046.4 751.3,1045.5 735.8,1063.2" fill="#2ded13" stroke="#187f0a" stroke-width="1.8" stroke-linejoin="round"/><polygon points="993.7,985.1 1009.2,969.6 988.7,965.0 973.2,980.1" fill="#edcb13" stroke="#7f6d0a" stroke-width="1.8" stroke-linejoin="round"/><polygon points="1121.9,965.8 1137.3,952.5 1117.0,945.7 1101.5,958.7" fill="#ed9413" stroke="#7f500a" stroke-width="1.8" stroke-linejoin="round"/><polygon points="957.7,996.3 973.2,980.1 952.6,975.9 937.1,991.7" fill="#ede913" stroke="#7f7d0a" stroke-width="1.8" stroke-linejoin="round"/><polygon points="1213.4,964.4 1228.7,952.6 1208.5,944.2 1193.2,955.6" fill="#ed8f13" stroke="#7f4d0a" stroke-width="1.8" stroke-linejoin="round"/><polygon points="1086.1,973.0 1101.5,958.7 1081.1,952.3 1065.6,966.3" fill="#eda513" stroke="#7f580a" stroke-width="1.8" stroke-linejoin="round"/><polygon points="921.6,1008.5 937.1,991.7 916.5,988.0 901.0,1004.4" fill="#d2ed13" stroke="#707f0a" stroke-width="1.8" stroke-linejoin="round"/><polygon points="885.5,1021.6 901.0,1004.4 880.4,1001.2 864.9,1018.1" fill="#aeed13" stroke="#5d7f0a" stroke-width="1.8" stroke-linejoin="round"/><polygon points="1177.9,968.4 1193.2,955.6 1173.0,947.6 1157.6,960.0" fill="#ed9613" stroke="#7f510a" stroke-width="1.8" stroke-linejoin="round"/><polygon points="1050.2,981.4 1065.6,966.3 1045.2,960.4 1029.7,975.1" fill="#edb913" stroke="#7f630a" stroke-width="1.8" stroke-linejoin="round"/><polygon points="849.4,1035.7 864.9,1018.1 844.2,1015.3 828.7,1032.7" fill="#88ed13" stroke="#497f0a" stroke-width="1.8" stroke-linejoin="round"/><polygon points="1268.9,971.7 1284.0,960.7 1264.0,951.2 1248.8,961.8" fill="#eda013" stroke="#7f560a" stroke-width="1.8" stroke-linejoin="round"/><polygon points="813.3,1050.7 828.7,1032.7 808.1,1030.4 792.6,1048.1" fill="#5fed13" stroke="#337f0a" stroke-width="1.8" stroke-linejoin="round"/><polygon points="1014.2,990.9 1029.7,975.1 1009.2,969.6 993.7,985.1" fill="#edd213" stroke="#7f700a" stroke-width="1.8" stroke-linejoin="round"/><polygon points="777.2,1066.4 792.6,1048.1 772.0,1046.4 756.5,1064.4" fill="#33ed13" stroke="#1b7f0a" stroke-width="1.8" stroke-linejoin="round"/><polygon points="1142.2,973.7 1157.6,960.0 1137.3,952.5 1121.9,965.8" fill="#eda113" stroke="#7f560a" stroke-width="1.8" stroke-linejoin="round"/><polygon points="1233.5,973.8 1248.8,961.8 1228.7,952.6 1213.4,964.4" fill="#eda113" stroke="#7f560a" stroke-width="1.8" stroke-linejoin="round"/><polygon points="978.3,1001.6 993.7,985.1 973.2,980.1 957.7,996.3" fill="#eded13" stroke="#7f7f0a" stroke-width="1.8" stroke-linejoin="round"/><polygon points="1106.5,980.4 1121.9,965.8 1101.5,958.7 1086.1,973.0" fill="#edb013" stroke="#7f5e0a" stroke-width="1.8" stroke-linejoin="round"/><polygon points="942.2,1013.3 957.7,996.3 937.1,991.7 921.6,1008.5" fill="#cfed13" stroke="#6f7f0a" stroke-width="1.8" stroke-linejoin="round"/><polygon points="1198.1,977.4 1213.4,964.4 1193.2,955.6 1177.9,968.4" fill="#eda613" stroke="#7f590a" stroke-width="1.8" stroke-linejoin="round"/><polygon points="906.2,1026.1 921.6,1008.5 901.0,1004.4 885.5,1021.6" fill="#aded13" stroke="#5d7f0a" stroke-width="1.8" stroke-linejoin="round"/><polygon points="1070.7,988.4 1086.1,973.0 1065.6,966.3 1050.2,981.4" fill="#edc313" stroke="#7f690a" stroke-width="1.8" stroke-linejoin="round"/><polygon points="870.1,1039.7 885.5,1021.6 864.9,1018.1 849.4,1035.7" fill="#88ed13" stroke="#497f0a" stroke-width="1.8" stroke-linejoin="round"/><polygon points="834.0,1054.1 849.4,1035.7 828.7,1032.7 813.3,1050.7" fill="#61ed13" stroke="#347f0a" stroke-width="1.8" stroke-linejoin="round"/><polygon points="1034.8,997.5 1050.2,981.4 1029.7,975.1 1014.2,990.9" fill="#edda13" stroke="#7f750a" stroke-width="1.8" stroke-linejoin="round"/><polygon points="1162.5,982.4 1177.9,968.4 1157.6,960.0 1142.2,973.7" fill="#edb013" stroke="#7f5e0a" stroke-width="1.8" stroke-linejoin="round"/><polygon points="797.9,1069.4 813.3,1050.7 792.6,1048.1 777.2,1066.4" fill="#37ed13" stroke="#1d7f0a" stroke-width="1.8" stroke-linejoin="round"/><polygon points="1253.7,984.0 1268.9,971.7 1248.8,961.8 1233.5,973.8" fill="#edb413" stroke="#7f610a" stroke-width="1.8" stroke-linejoin="round"/><polygon points="998.8,1007.8 1014.2,990.9 993.7,985.1 978.3,1001.6" fill="#e7ed13" stroke="#7c7f0a" stroke-width="1.8" stroke-linejoin="round"/><polygon points="1126.9,988.7 1142.2,973.7 1121.9,965.8 1106.5,980.4" fill="#edbe13" stroke="#7f660a" stroke-width="1.8" stroke-linejoin="round"/><polygon points="962.9,1019.0 978.3,1001.6 957.7,996.3 942.2,1013.3" fill="#caed13" stroke="#6c7f0a" stroke-width="1.8" stroke-linejoin="round"/><polygon points="1218.3,987.2 1233.5,973.8 1213.4,964.4 1198.1,977.4" fill="#edb813" stroke="#7f630a" stroke-width="1.8" stroke-linejoin="round"/><polygon points="1091.1,996.2 1106.5,980.4 1086.1,973.0 1070.7,988.4" fill="#edcf13" stroke="#7f6f0a" stroke-width="1.8" stroke-linejoin="round"/><polygon points="926.8,1031.3 942.2,1013.3 921.6,1008.5 906.2,1026.1" fill="#aaed13" stroke="#5b7f0a" stroke-width="1.8" stroke-linejoin="round"/><polygon points="890.8,1044.5 906.2,1026.1 885.5,1021.6 870.1,1039.7" fill="#87ed13" stroke="#487f0a" stroke-width="1.8" stroke-linejoin="round"/><polygon points="1182.8,991.8 1198.1,977.4 1177.9,968.4 1162.5,982.4" fill="#edc113" stroke="#7f670a" stroke-width="1.8" stroke-linejoin="round"/><polygon points="1055.3,1004.9 1070.7,988.4 1050.2,981.4 1034.8,997.5" fill="#ede413" stroke="#7f7a0a" stroke-width="1.8" stroke-linejoin="round"/><polygon points="854.7,1058.4 870.1,1039.7 849.4,1035.7 834.0,1054.1" fill="#61ed13" stroke="#347f0a" stroke-width="1.8" stroke-linejoin="round"/><polygon points="818.7,1073.2 834.0,1054.1 813.3,1050.7 797.9,1069.4" fill="#39ed13" stroke="#1e7f0a" stroke-width="1.8" stroke-linejoin="round"/><polygon points="1019.4,1014.7 1034.8,997.5 1014.2,990.9 998.8,1007.8" fill="#deed13" stroke="#777f0a" stroke-width="1.8" stroke-linejoin="round"/><polygon points="1147.2,997.7 1162.5,982.4 1142.2,973.7 1126.9,988.7" fill="#edcd13" stroke="#7f6e0a" stroke-width="1.8" stroke-linejoin="round"/><polygon points="983.5,1025.6 998.8,1007.8 978.3,1001.6 962.9,1019.0" fill="#c3ed13" stroke="#687f0a" stroke-width="1.8" stroke-linejoin="round"/><polygon points="1238.5,997.8 1253.7,984.0 1233.5,973.8 1218.3,987.2" fill="#edcc13" stroke="#7f6d0a" stroke-width="1.8" stroke-linejoin="round"/><polygon points="1111.6,1004.8 1126.9,988.7 1106.5,980.4 1091.1,996.2" fill="#eddd13" stroke="#7f760a" stroke-width="1.8" stroke-linejoin="round"/><polygon points="947.5,1037.4 962.9,1019.0 942.2,1013.3 926.8,1031.3" fill="#a4ed13" stroke="#587f0a" stroke-width="1.8" stroke-linejoin="round"/><polygon points="1203.1,1002.0 1218.3,987.2 1198.1,977.4 1182.8,991.8" fill="#edd313" stroke="#7f710a" stroke-width="1.8" stroke-linejoin="round"/><polygon points="911.5,1050.1 926.8,1031.3 906.2,1026.1 890.8,1044.5" fill="#82ed13" stroke="#467f0a" stroke-width="1.8" stroke-linejoin="round"/><polygon points="1075.8,1013.1 1091.1,996.2 1070.7,988.4 1055.3,1004.9" fill="#eaed13" stroke="#7e7f0a" stroke-width="1.8" stroke-linejoin="round"/><polygon points="875.5,1063.6 890.8,1044.5 870.1,1039.7 854.7,1058.4" fill="#5eed13" stroke="#337f0a" stroke-width="1.8" stroke-linejoin="round"/><polygon points="839.4,1077.9 854.7,1058.4 834.0,1054.1 818.7,1073.2" fill="#38ed13" stroke="#1e7f0a" stroke-width="1.8" stroke-linejoin="round"/><polygon points="1040.0,1022.5 1055.3,1004.9 1034.8,997.5 1019.4,1014.7" fill="#d3ed13" stroke="#717f0a" stroke-width="1.8" stroke-linejoin="round"/><polygon points="1167.6,1007.5 1182.8,991.8 1162.5,982.4 1147.2,997.7" fill="#edde13" stroke="#7f770a" stroke-width="1.8" stroke-linejoin="round"/><polygon points="1004.1,1032.9 1019.4,1014.7 998.8,1007.8 983.5,1025.6" fill="#b9ed13" stroke="#637f0a" stroke-width="1.8" stroke-linejoin="round"/><polygon points="1132.0,1014.2 1147.2,997.7 1126.9,988.7 1111.6,1004.8" fill="#eded13" stroke="#7f7f0a" stroke-width="1.8" stroke-linejoin="round"/><polygon points="968.2,1044.3 983.5,1025.6 962.9,1019.0 947.5,1037.4" fill="#9ced13" stroke="#547f0a" stroke-width="1.8" stroke-linejoin="round"/><polygon points="1223.3,1012.9 1238.5,997.8 1218.3,987.2 1203.1,1002.0" fill="#ede713" stroke="#7f7c0a" stroke-width="1.8" stroke-linejoin="round"/><polygon points="932.2,1056.6 947.5,1037.4 926.8,1031.3 911.5,1050.1" fill="#7ced13" stroke="#437f0a" stroke-width="1.8" stroke-linejoin="round"/><polygon points="1096.3,1022.1 1111.6,1004.8 1091.1,996.2 1075.8,1013.1" fill="#dced13" stroke="#767f0a" stroke-width="1.8" stroke-linejoin="round"/><polygon points="896.2,1069.6 911.5,1050.1 890.8,1044.5 875.5,1063.6" fill="#5aed13" stroke="#307f0a" stroke-width="1.8" stroke-linejoin="round"/><polygon points="1187.9,1018.0 1203.1,1002.0 1182.8,991.8 1167.6,1007.5" fill="#eaed13" stroke="#7d7f0a" stroke-width="1.8" stroke-linejoin="round"/><polygon points="1060.5,1031.1 1075.8,1013.1 1055.3,1004.9 1040.0,1022.5" fill="#c6ed13" stroke="#6a7f0a" stroke-width="1.8" stroke-linejoin="round"/><polygon points="860.2,1083.5 875.5,1063.6 854.7,1058.4 839.4,1077.9" fill="#35ed13" stroke="#1c7f0a" stroke-width="1.8" stroke-linejoin="round"/><polygon points="1024.7,1041.1 1040.0,1022.5 1019.4,1014.7 1004.1,1032.9" fill="#aeed13" stroke="#5d7f0a" stroke-width="1.8" stroke-linejoin="round"/><polygon points="1152.4,1024.4 1167.6,1007.5 1147.2,997.7 1132.0,1014.2" fill="#dded13" stroke="#767f0a" stroke-width="1.8" stroke-linejoin="round"/><polygon points="988.8,1052.0 1004.1,1032.9 983.5,1025.6 968.2,1044.3" fill="#92ed13" stroke="#4e7f0a" stroke-width="1.8" stroke-linejoin="round"/><polygon points="1116.7,1031.9 1132.0,1014.2 1111.6,1004.8 1096.3,1022.1" fill="#cced13" stroke="#6d7f0a" stroke-width="1.8" stroke-linejoin="round"/><polygon points="952.9,1063.9 968.2,1044.3 947.5,1037.4 932.2,1056.6" fill="#74ed13" stroke="#3e7f0a" stroke-width="1.8" stroke-linejoin="round"/><polygon points="916.9,1076.5 932.2,1056.6 911.5,1050.1 896.2,1069.6" fill="#53ed13" stroke="#2c7f0a" stroke-width="1.8" stroke-linejoin="round"/><polygon points="1208.2,1029.4 1223.3,1012.9 1203.1,1002.0 1187.9,1018.0" fill="#d5ed13" stroke="#727f0a" stroke-width="1.8" stroke-linejoin="round"/><polygon points="1081.0,1040.5 1096.3,1022.1 1075.8,1013.1 1060.5,1031.1" fill="#b7ed13" stroke="#627f0a" stroke-width="1.8" stroke-linejoin="round"/><polygon points="881.0,1089.9 896.2,1069.6 875.5,1063.6 860.2,1083.5" fill="#2fed13" stroke="#197f0a" stroke-width="1.8" stroke-linejoin="round"/><polygon points="1045.3,1050.1 1060.5,1031.1 1040.0,1022.5 1024.7,1041.1" fill="#a0ed13" stroke="#567f0a" stroke-width="1.8" stroke-linejoin="round"/><polygon points="1172.7,1035.3 1187.9,1018.0 1167.6,1007.5 1152.4,1024.4" fill="#c9ed13" stroke="#6c7f0a" stroke-width="1.8" stroke-linejoin="round"/><polygon points="1009.4,1060.6 1024.7,1041.1 1004.1,1032.9 988.8,1052.0" fill="#86ed13" stroke="#487f0a" stroke-width="1.8" stroke-linejoin="round"/><polygon points="1137.2,1042.5 1152.4,1024.4 1132.0,1014.2 1116.7,1031.9" fill="#b9ed13" stroke="#637f0a" stroke-width="1.8" stroke-linejoin="round"/><polygon points="973.6,1072.0 988.8,1052.0 968.2,1044.3 952.9,1063.9" fill="#69ed13" stroke="#387f0a" stroke-width="1.8" stroke-linejoin="round"/><polygon points="937.7,1084.3 952.9,1063.9 932.2,1056.6 916.9,1076.5" fill="#49ed13" stroke="#277f0a" stroke-width="1.8" stroke-linejoin="round"/><polygon points="1101.5,1050.7 1116.7,1031.9 1096.3,1022.1 1081.0,1040.5" fill="#a6ed13" stroke="#597f0a" stroke-width="1.8" stroke-linejoin="round"/><polygon points="901.7,1097.2 916.9,1076.5 896.2,1069.6 881.0,1089.9" fill="#28ed13" stroke="#157f0a" stroke-width="1.8" stroke-linejoin="round"/><polygon points="1065.8,1059.9 1081.0,1040.5 1060.5,1031.1 1045.3,1050.1" fill="#90ed13" stroke="#4d7f0a" stroke-width="1.8" stroke-linejoin="round"/><polygon points="1193.0,1047.1 1208.2,1029.4 1187.9,1018.0 1172.7,1035.3" fill="#b3ed13" stroke="#607f0a" stroke-width="1.8" stroke-linejoin="round"/><polygon points="1030.1,1070.0 1045.3,1050.1 1024.7,1041.1 1009.4,1060.6" fill="#78ed13" stroke="#407f0a" stroke-width="1.8" stroke-linejoin="round"/><polygon points="1157.6,1053.8 1172.7,1035.3 1152.4,1024.4 1137.2,1042.5" fill="#a5ed13" stroke="#587f0a" stroke-width="1.8" stroke-linejoin="round"/><polygon points="994.3,1081.1 1009.4,1060.6 988.8,1052.0 973.6,1072.0" fill="#5ced13" stroke="#317f0a" stroke-width="1.8" stroke-linejoin="round"/><polygon points="1122.0,1061.7 1137.2,1042.5 1116.7,1031.9 1101.5,1050.7" fill="#93ed13" stroke="#4f7f0a" stroke-width="1.8" stroke-linejoin="round"/><polygon points="958.4,1092.9 973.6,1072.0 952.9,1063.9 937.7,1084.3" fill="#3eed13" stroke="#217f0a" stroke-width="1.8" stroke-linejoin="round"/><polygon points="922.5,1105.4 937.7,1084.3 916.9,1076.5 901.7,1097.2" fill="#1eed13" stroke="#107f0a" stroke-width="1.8" stroke-linejoin="round"/><polygon points="1086.4,1070.5 1101.5,1050.7 1081.0,1040.5 1065.8,1059.9" fill="#7fed13" stroke="#447f0a" stroke-width="1.8" stroke-linejoin="round"/><polygon points="1050.7,1080.3 1065.8,1059.9 1045.3,1050.1 1030.1,1070.0" fill="#67ed13" stroke="#377f0a" stroke-width="1.8" stroke-linejoin="round"/><polygon points="1177.9,1066.0 1193.0,1047.1 1172.7,1035.3 1157.6,1053.8" fill="#8fed13" stroke="#4d7f0a" stroke-width="1.8" stroke-linejoin="round"/><polygon points="1014.9,1090.9 1030.1,1070.0 1009.4,1060.6 994.3,1081.1" fill="#4ded13" stroke="#297f0a" stroke-width="1.8" stroke-linejoin="round"/><polygon points="1142.4,1073.5 1157.6,1053.8 1137.2,1042.5 1122.0,1061.7" fill="#7eed13" stroke="#447f0a" stroke-width="1.8" stroke-linejoin="round"/><polygon points="979.1,1102.3 994.3,1081.1 973.6,1072.0 958.4,1092.9" fill="#30ed13" stroke="#1a7f0a" stroke-width="1.8" stroke-linejoin="round"/><polygon points="943.3,1114.5 958.4,1092.9 937.7,1084.3 922.5,1105.4" fill="#13ed14" stroke="#0a7f0b" stroke-width="1.8" stroke-linejoin="round"/><polygon points="1106.9,1082.0 1122.0,1061.7 1101.5,1050.7 1086.4,1070.5" fill="#6bed13" stroke="#397f0a" stroke-width="1.8" stroke-linejoin="round"/><polygon points="1071.2,1091.4 1086.4,1070.5 1065.8,1059.9 1050.7,1080.3" fill="#55ed13" stroke="#2d7f0a" stroke-width="1.8" stroke-linejoin="round"/><polygon points="1035.6,1101.6 1050.7,1080.3 1030.1,1070.0 1014.9,1090.9" fill="#3ced13" stroke="#207f0a" stroke-width="1.8" stroke-linejoin="round"/><polygon points="1162.8,1086.1 1177.9,1066.0 1157.6,1053.8 1142.4,1073.5" fill="#68ed13" stroke="#387f0a" stroke-width="1.8" stroke-linejoin="round"/><polygon points="999.8,1112.7 1014.9,1090.9 994.3,1081.1 979.1,1102.3" fill="#21ed13" stroke="#127f0a" stroke-width="1.8" stroke-linejoin="round"/><polygon points="1127.4,1094.3 1142.4,1073.5 1122.0,1061.7 1106.9,1082.0" fill="#55ed13" stroke="#2e7f0a" stroke-width="1.8" stroke-linejoin="round"/><polygon points="964.0,1124.4 979.1,1102.3 958.4,1092.9 943.3,1114.5" fill="#13ed23" stroke="#0a7f13" stroke-width="1.8" stroke-linejoin="round"/><polygon points="1091.8,1103.3 1106.9,1082.0 1086.4,1070.5 1071.2,1091.4" fill="#40ed13" stroke="#237f0a" stroke-width="1.8" stroke-linejoin="round"/><polygon points="1056.2,1113.2 1071.2,1091.4 1050.7,1080.3 1035.6,1101.6" fill="#29ed13" stroke="#167f0a" stroke-width="1.8" stroke-linejoin="round"/><polygon points="1020.5,1123.8 1035.6,1101.6 1014.9,1090.9 999.8,1112.7" fill="#13ed17" stroke="#0a7f0c" stroke-width="1.8" stroke-linejoin="round"/><polygon points="1147.8,1107.3 1162.8,1086.1 1142.4,1073.5 1127.4,1094.3" fill="#3eed13" stroke="#217f0a" stroke-width="1.8" stroke-linejoin="round"/><polygon points="984.8,1135.2 999.8,1112.7 979.1,1102.3 964.0,1124.4" fill="#13ed33" stroke="#0a7f1b" stroke-width="1.8" stroke-linejoin="round"/><polygon points="1112.3,1116.0 1127.4,1094.3 1106.9,1082.0 1091.8,1103.3" fill="#2aed13" stroke="#177f0a" stroke-width="1.8" stroke-linejoin="round"/><polygon points="1076.8,1125.6 1091.8,1103.3 1071.2,1091.4 1056.2,1113.2" fill="#14ed13" stroke="#0b7f0a" stroke-width="1.8" stroke-linejoin="round"/><polygon points="1041.2,1135.9 1056.2,1113.2 1035.6,1101.6 1020.5,1123.8" fill="#13ed2b" stroke="#0a7f17" stroke-width="1.8" stroke-linejoin="round"/><polygon points="1005.5,1146.9 1020.5,1123.8 999.8,1112.7 984.8,1135.2" fill="#13ed46" stroke="#0a7f25" stroke-width="1.8" stroke-linejoin="round"/><polygon points="1132.8,1129.6 1147.8,1107.3 1127.4,1094.3 1112.3,1116.0" fill="#13ed14" stroke="#0a7f0b" stroke-width="1.8" stroke-linejoin="round"/><polygon points="1097.3,1138.8 1112.3,1116.0 1091.8,1103.3 1076.8,1125.6" fill="#13ed29" stroke="#0a7f16" stroke-width="1.8" stroke-linejoin="round"/><polygon points="1061.8,1148.8 1076.8,1125.6 1056.2,1113.2 1041.2,1135.9" fill="#13ed41" stroke="#0a7f23" stroke-width="1.8" stroke-linejoin="round"/><polygon points="1026.2,1159.4 1041.2,1135.9 1020.5,1123.8 1005.5,1146.9" fill="#13ed5a" stroke="#0a7f31" stroke-width="1.8" stroke-linejoin="round"/><polygon points="1117.8,1152.9 1132.8,1129.6 1112.3,1116.0 1097.3,1138.8" fill="#13ed43" stroke="#0a7f24" stroke-width="1.8" stroke-linejoin="round"/><polygon points="1082.4,1162.6 1097.3,1138.8 1076.8,1125.6 1061.8,1148.8" fill="#13ed59" stroke="#0a7f30" stroke-width="1.8" stroke-linejoin="round"/><polygon points="1046.9,1172.9 1061.8,1148.8 1041.2,1135.9 1026.2,1159.4" fill="#13ed71" stroke="#0a7f3d" stroke-width="1.8" stroke-linejoin="round"/><polygon points="1102.9,1177.2 1117.8,1152.9 1097.3,1138.8 1082.4,1162.6" fill="#13ed73" stroke="#0a7f3d" stroke-width="1.8" stroke-linejoin="round"/><polygon points="1067.5,1187.1 1082.4,1162.6 1061.8,1148.8 1046.9,1172.9" fill="#13ed8a" stroke="#0a7f4a" stroke-width="1.8" stroke-linejoin="round"/><polygon points="1088.1,1202.3 1102.9,1177.2 1082.4,1162.6 1067.5,1187.1" fill="#13eda5" stroke="#0a7f58" stroke-width="1.8" stroke-linejoin="round"/></g>
<rect x="1029.5" y="885" width="11" height="27" rx="4" fill="#7a0a0a"/><text transform="translate(18.4,65.0) scale(0.858,1)" font-size="52.2" font-weight="bold" fill="#111" stroke="#111" stroke-width="1.3">A</text>
<text transform="translate(1054.4,71.5) scale(0.823,1)" font-size="47.8" font-weight="bold" fill="#111" stroke="#111" stroke-width="1.3">B</text>
<text transform="translate(540.4,910.5) scale(0.805,1)" font-size="49.3" font-weight="bold" fill="#111" stroke="#111" stroke-width="1.3">C</text>
<text x="104.7" y="81.3" font-size="22.5" fill="#5a5a5a">0.4</text>
<text x="94.9" y="152.3" font-size="22.5" fill="#5a5a5a">0.35</text>
<text x="109.9" y="225.0" font-size="22.5" fill="#5a5a5a">0.3</text>
<text x="101.1" y="297.4" font-size="22.5" fill="#5a5a5a">0.25</text>
<text x="116.3" y="369.8" font-size="22.5" fill="#5a5a5a">0.2</text>
<text x="105.6" y="442.3" font-size="22.5" fill="#5a5a5a">0.15</text>
<text x="129.4" y="583.3" font-size="22.5" fill="#5a5a5a">37</text>
<text x="235.4" y="612.3" font-size="22.5" fill="#5a5a5a">34</text>
<text x="339.6" y="640.3" font-size="22.5" fill="#5a5a5a">31</text>
<text x="444.9" y="669.3" font-size="22.5" fill="#5a5a5a">28</text>
<text x="549.4" y="697.3" font-size="22.5" fill="#5a5a5a">25</text>
<text x="864.8" y="539.8" font-size="22.5" fill="#5a5a5a">150</text>
<text x="813.0" y="571.8" font-size="22.5" fill="#5a5a5a">125</text>
<text x="760.8" y="602.8" font-size="22.5" fill="#5a5a5a">100</text>
<text x="708.9" y="633.1" font-size="22.5" fill="#5a5a5a">75</text>
<text x="655.0" y="666.3" font-size="22.5" fill="#5a5a5a">50</text>
<text x="602.4" y="696.3" font-size="22.5" fill="#5a5a5a">25</text>
<text x="120.7" y="698.6" font-size="33.5" fill="#333" textLength="294.0" lengthAdjust="spacingAndGlyphs">B: Temperature (C)</text>
<text x="767.0" y="656.0" font-size="33.5" fill="#333" textLength="203.5" lengthAdjust="spacingAndGlyphs">A: MSG (mM)</text>
<text transform="translate(49.0,439.6) rotate(-90)" x="0" y="0" font-size="33.5" fill="#333" textLength="221.2" lengthAdjust="spacingAndGlyphs">GABA (mg/mL)</text>
<text x="1134.9" y="60.8" font-size="22.5" fill="#5a5a5a">0.4</text>
<text x="1126.4" y="134.5" font-size="22.5" fill="#5a5a5a">0.35</text>
<text x="1140.1" y="206.5" font-size="22.5" fill="#5a5a5a">0.3</text>
<text x="1131.3" y="279.3" font-size="22.5" fill="#5a5a5a">0.25</text>
<text x="1145.3" y="352.6" font-size="22.5" fill="#5a5a5a">0.2</text>
<text x="1134.0" y="424.8" font-size="22.5" fill="#5a5a5a">0.15</text>
<text x="1170.0" y="568.4" font-size="22.5" fill="#5a5a5a">5</text>
<text x="1231.1" y="590.3" font-size="22.5" fill="#5a5a5a">4.8</text>
<text x="1313.1" y="611.5" font-size="22.5" fill="#5a5a5a">4.6</text>
<text x="1393.0" y="632.6" font-size="22.5" fill="#5a5a5a">4.4</text>
<text x="1475.2" y="653.3" font-size="22.5" fill="#5a5a5a">4.2</text>
<text x="1574.3" y="674.3" font-size="22.5" fill="#5a5a5a">4</text>
<text x="1900.5" y="539.8" font-size="22.5" fill="#5a5a5a">150</text>
<text x="1843.9" y="567.3" font-size="22.5" fill="#5a5a5a">125</text>
<text x="1785.3" y="594.8" font-size="22.5" fill="#5a5a5a">100</text>
<text x="1727.9" y="621.1" font-size="22.5" fill="#5a5a5a">75</text>
<text x="1671.0" y="648.8" font-size="22.5" fill="#5a5a5a">50</text>
<text x="1612.4" y="676.3" font-size="22.5" fill="#5a5a5a">25</text>
<text x="1236.4" y="672.2" font-size="33.5" fill="#333" textLength="81.2" lengthAdjust="spacingAndGlyphs">C: pH</text>
<text x="1788.5" y="643.2" font-size="33.5" fill="#333" textLength="202.5" lengthAdjust="spacingAndGlyphs">A: MSG (mM)</text>
<text transform="translate(1076.0,421.2) rotate(-90)" x="0" y="0" font-size="33.5" fill="#333" textLength="222.3" lengthAdjust="spacingAndGlyphs">GABA (mg/mL)</text>
<text x="622.2" y="890.8" font-size="22.5" fill="#5a5a5a">0.4</text>
<text x="614.9" y="965.2" font-size="22.5" fill="#5a5a5a">0.35</text>
<text x="628.6" y="1037.1" font-size="22.5" fill="#5a5a5a">0.3</text>
<text x="619.8" y="1109.8" font-size="22.5" fill="#5a5a5a">0.25</text>
<text x="633.9" y="1182.8" font-size="22.5" fill="#5a5a5a">0.2</text>
<text x="622.6" y="1255.0" font-size="22.5" fill="#5a5a5a">0.15</text>
<text x="659.8" y="1398.7" font-size="22.5" fill="#5a5a5a">5</text>
<text x="720.1" y="1420.8" font-size="22.5" fill="#5a5a5a">4.8</text>
<text x="801.6" y="1441.8" font-size="22.5" fill="#5a5a5a">4.6</text>
<text x="881.5" y="1463.8" font-size="22.5" fill="#5a5a5a">4.4</text>
<text x="962.7" y="1484.9" font-size="22.5" fill="#5a5a5a">4.2</text>
<text x="1061.4" y="1505.3" font-size="22.5" fill="#5a5a5a">4</text>
<text x="1388.2" y="1370.1" font-size="22.5" fill="#5a5a5a">37</text>
<text x="1316.4" y="1403.8" font-size="22.5" fill="#5a5a5a">34</text>
<text x="1244.1" y="1438.8" font-size="22.5" fill="#5a5a5a">31</text>
<text x="1172.4" y="1472.3" font-size="22.5" fill="#5a5a5a">28</text>
<text x="1100.9" y="1505.8" font-size="22.5" fill="#5a5a5a">25</text>
<text x="724.9" y="1502.0" font-size="33.5" fill="#333" textLength="81.5" lengthAdjust="spacingAndGlyphs">C: pH</text>
<text x="1235.2" y="1473.0" font-size="33.5" fill="#333" textLength="292.0" lengthAdjust="spacingAndGlyphs">B: Temperature (C)</text>
<text transform="translate(565.3,1252.2) rotate(-90)" x="0" y="0" font-size="33.5" fill="#333" textLength="223.3" lengthAdjust="spacingAndGlyphs">GABA (mg/mL)</text></g></svg></body></html>
